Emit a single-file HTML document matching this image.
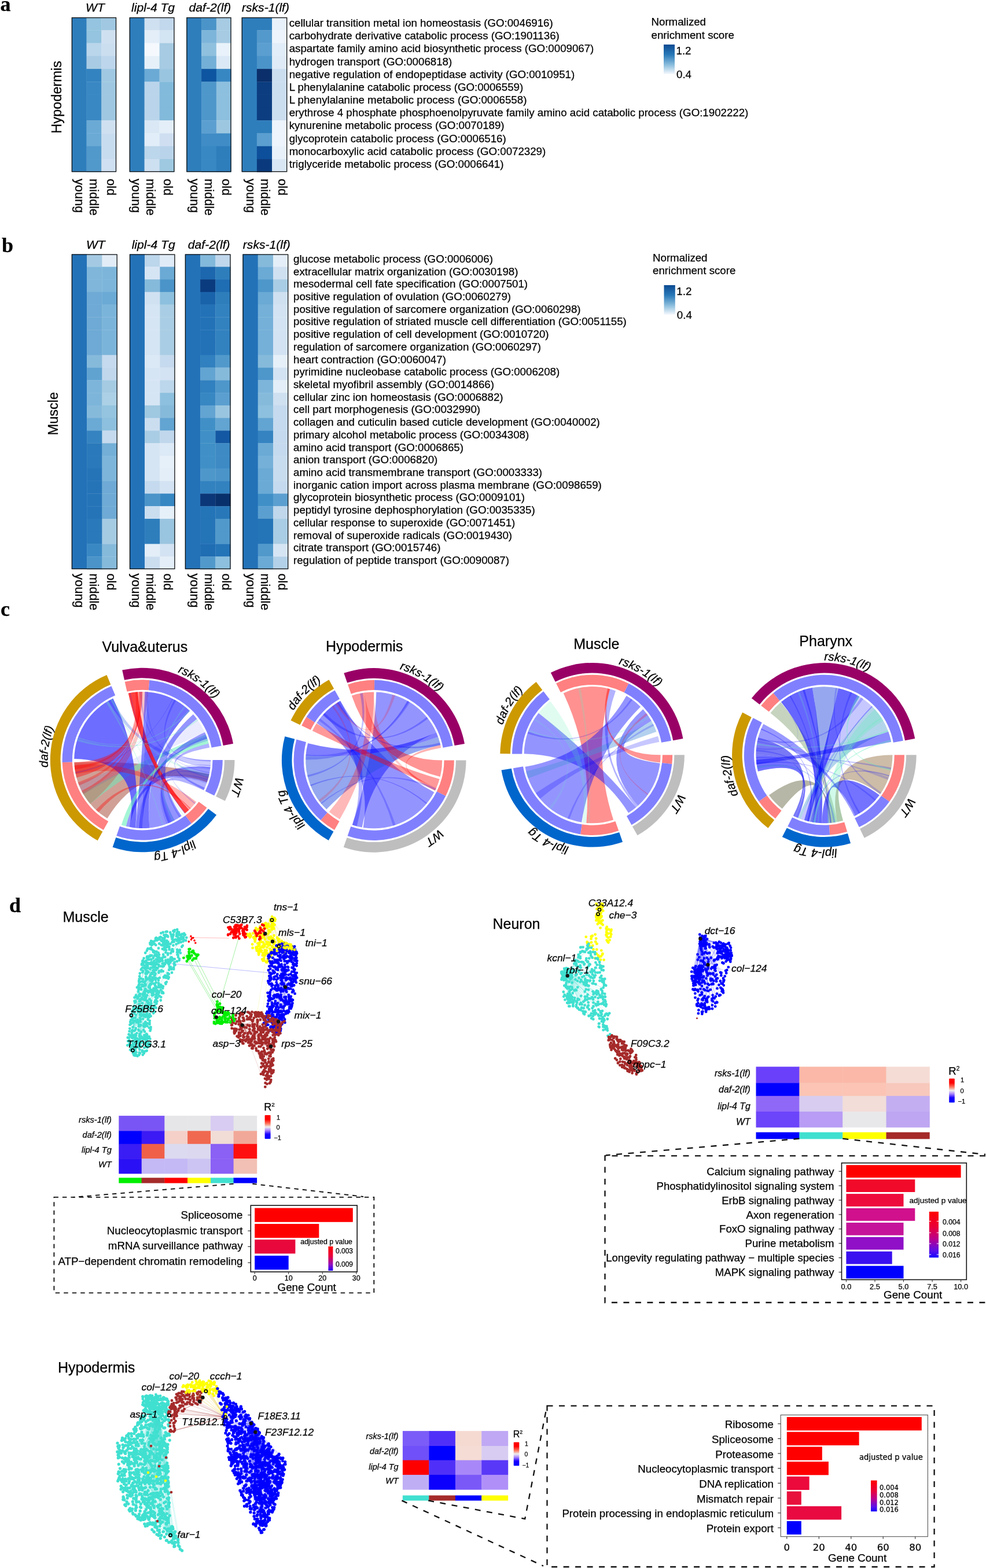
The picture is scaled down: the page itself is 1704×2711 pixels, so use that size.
<!DOCTYPE html>
<html><head><meta charset="utf-8"><title>Figure</title>
<style>html,body{margin:0;padding:0;background:#fff;} svg{display:block;} svg text{stroke:#000;stroke-width:0.25px;}</style>
</head><body>
<svg xmlns="http://www.w3.org/2000/svg" width="1704" height="2711" viewBox="0 0 1704 2711">
<rect width="1704" height="2711" fill="#fff"/>
<text x="0.5" y="19.0" style="font:bold 36px 'Liberation Serif', 'Times New Roman', serif">a</text>
<rect x="123.80" y="30.00" width="26.07" height="267.30" fill="#2e7ebc"/>
<rect x="149.57" y="30.00" width="26.07" height="22.58" fill="#94c4df"/>
<rect x="175.33" y="30.00" width="25.77" height="22.58" fill="#a0c8e2"/>
<rect x="149.57" y="52.28" width="26.07" height="22.58" fill="#94c4df"/>
<rect x="175.33" y="52.28" width="25.77" height="22.58" fill="#cfe0f1"/>
<rect x="149.57" y="74.55" width="26.07" height="22.58" fill="#bad6eb"/>
<rect x="175.33" y="74.55" width="25.77" height="22.58" fill="#cbdef0"/>
<rect x="149.57" y="96.83" width="26.07" height="22.58" fill="#a9cce4"/>
<rect x="175.33" y="96.83" width="25.77" height="22.58" fill="#bdd6ec"/>
<rect x="149.57" y="119.10" width="26.07" height="22.58" fill="#3383c0"/>
<rect x="175.33" y="119.10" width="25.77" height="22.58" fill="#a0c8e2"/>
<rect x="149.57" y="141.38" width="26.07" height="22.58" fill="#3988c4"/>
<rect x="175.33" y="141.38" width="25.77" height="22.58" fill="#9fc7e1"/>
<rect x="149.57" y="163.65" width="26.07" height="22.58" fill="#3988c4"/>
<rect x="175.33" y="163.65" width="25.77" height="22.58" fill="#9fc7e1"/>
<rect x="149.57" y="185.93" width="26.07" height="22.58" fill="#3988c4"/>
<rect x="175.33" y="185.93" width="25.77" height="22.58" fill="#9fc7e1"/>
<rect x="149.57" y="208.20" width="26.07" height="22.58" fill="#6aaad5"/>
<rect x="175.33" y="208.20" width="25.77" height="22.58" fill="#cfe0f1"/>
<rect x="149.57" y="230.48" width="26.07" height="22.58" fill="#6aaad5"/>
<rect x="175.33" y="230.48" width="25.77" height="22.58" fill="#c8dcef"/>
<rect x="149.57" y="252.75" width="26.07" height="22.58" fill="#5199cb"/>
<rect x="175.33" y="252.75" width="25.77" height="22.58" fill="#c8dcef"/>
<rect x="149.57" y="275.03" width="26.07" height="22.58" fill="#5199cb"/>
<rect x="175.33" y="275.03" width="25.77" height="22.58" fill="#cee0f1"/>
<rect x="124.40" y="30.60" width="76.10" height="266.10" fill="none" stroke="#111" stroke-width="1.3"/>
<text x="164.45" y="19.6" text-anchor="middle" style="font:italic 21.1px 'Liberation Sans', Arial, Helvetica, sans-serif">WT</text>
<rect x="223.70" y="30.00" width="26.23" height="267.30" fill="#2e7ebc"/>
<rect x="249.63" y="30.00" width="26.23" height="22.58" fill="#cfe0f1"/>
<rect x="275.57" y="30.00" width="25.93" height="22.58" fill="#c2d8ec"/>
<rect x="249.63" y="52.28" width="26.23" height="22.58" fill="#e3eef8"/>
<rect x="275.57" y="52.28" width="25.93" height="22.58" fill="#d3e4f3"/>
<rect x="249.63" y="74.55" width="26.23" height="22.58" fill="#f5f9fe"/>
<rect x="275.57" y="74.55" width="25.93" height="22.58" fill="#a6cbe3"/>
<rect x="249.63" y="96.83" width="26.23" height="22.58" fill="#e6f0f9"/>
<rect x="275.57" y="96.83" width="25.93" height="22.58" fill="#a6cbe3"/>
<rect x="249.63" y="119.10" width="26.23" height="22.58" fill="#6aaad5"/>
<rect x="275.57" y="119.10" width="25.93" height="22.58" fill="#9ac5e0"/>
<rect x="249.63" y="141.38" width="26.23" height="22.58" fill="#bad5eb"/>
<rect x="275.57" y="141.38" width="25.93" height="22.58" fill="#82badb"/>
<rect x="249.63" y="163.65" width="26.23" height="22.58" fill="#bad5eb"/>
<rect x="275.57" y="163.65" width="25.93" height="22.58" fill="#82badb"/>
<rect x="249.63" y="185.93" width="26.23" height="22.58" fill="#bad5eb"/>
<rect x="275.57" y="185.93" width="25.93" height="22.58" fill="#82badb"/>
<rect x="249.63" y="208.20" width="26.23" height="22.58" fill="#dae8f5"/>
<rect x="275.57" y="208.20" width="25.93" height="22.58" fill="#e3eef8"/>
<rect x="249.63" y="230.48" width="26.23" height="22.58" fill="#e1edf8"/>
<rect x="275.57" y="230.48" width="25.93" height="22.58" fill="#cfdff1"/>
<rect x="249.63" y="252.75" width="26.23" height="22.58" fill="#bcd6eb"/>
<rect x="275.57" y="252.75" width="25.93" height="22.58" fill="#b9d4ea"/>
<rect x="249.63" y="275.03" width="26.23" height="22.58" fill="#cde0f1"/>
<rect x="275.57" y="275.03" width="25.93" height="22.58" fill="#9ec9e1"/>
<rect x="224.30" y="30.60" width="76.60" height="266.10" fill="none" stroke="#111" stroke-width="1.3"/>
<text x="264.60" y="19.6" text-anchor="middle" style="font:italic 21.1px 'Liberation Sans', Arial, Helvetica, sans-serif">lipl-4 Tg</text>
<rect x="322.30" y="30.00" width="26.07" height="267.30" fill="#2e7ebc"/>
<rect x="348.07" y="30.00" width="26.07" height="22.58" fill="#4a94c9"/>
<rect x="373.83" y="30.00" width="25.77" height="22.58" fill="#a6cbe3"/>
<rect x="348.07" y="52.28" width="26.07" height="22.58" fill="#7db5da"/>
<rect x="373.83" y="52.28" width="25.77" height="22.58" fill="#a6cbe3"/>
<rect x="348.07" y="74.55" width="26.07" height="22.58" fill="#8fc1de"/>
<rect x="373.83" y="74.55" width="25.77" height="22.58" fill="#e9f2fa"/>
<rect x="348.07" y="96.83" width="26.07" height="22.58" fill="#73afd7"/>
<rect x="373.83" y="96.83" width="25.77" height="22.58" fill="#dbe8f5"/>
<rect x="348.07" y="119.10" width="26.07" height="22.58" fill="#0d55a0"/>
<rect x="373.83" y="119.10" width="25.77" height="22.58" fill="#3787c3"/>
<rect x="348.07" y="141.38" width="26.07" height="22.58" fill="#4e97cb"/>
<rect x="373.83" y="141.38" width="25.77" height="22.58" fill="#8dc0de"/>
<rect x="348.07" y="163.65" width="26.07" height="22.58" fill="#4e97cb"/>
<rect x="373.83" y="163.65" width="25.77" height="22.58" fill="#8dc0de"/>
<rect x="348.07" y="185.93" width="26.07" height="22.58" fill="#4e97cb"/>
<rect x="373.83" y="185.93" width="25.77" height="22.58" fill="#8dc0de"/>
<rect x="348.07" y="208.20" width="26.07" height="22.58" fill="#5b9fd0"/>
<rect x="373.83" y="208.20" width="25.77" height="22.58" fill="#9dc7e1"/>
<rect x="348.07" y="230.48" width="26.07" height="22.58" fill="#3f8cc6"/>
<rect x="373.83" y="230.48" width="25.77" height="22.58" fill="#3f8cc6"/>
<rect x="348.07" y="252.75" width="26.07" height="22.58" fill="#3788c3"/>
<rect x="373.83" y="252.75" width="25.77" height="22.58" fill="#2e7ebc"/>
<rect x="348.07" y="275.03" width="26.07" height="22.58" fill="#3788c3"/>
<rect x="373.83" y="275.03" width="25.77" height="22.58" fill="#2e7ebc"/>
<rect x="322.90" y="30.60" width="76.10" height="266.10" fill="none" stroke="#111" stroke-width="1.3"/>
<text x="362.95" y="19.6" text-anchor="middle" style="font:italic 21.1px 'Liberation Sans', Arial, Helvetica, sans-serif">daf-2(lf)</text>
<rect x="417.70" y="30.00" width="26.50" height="267.30" fill="#2e7ebc"/>
<rect x="443.90" y="30.00" width="26.50" height="22.58" fill="#2e7ebc"/>
<rect x="470.10" y="30.00" width="26.20" height="22.58" fill="#e8f1fa"/>
<rect x="443.90" y="52.28" width="26.50" height="22.58" fill="#5399cc"/>
<rect x="470.10" y="52.28" width="26.20" height="22.58" fill="#edf4fb"/>
<rect x="443.90" y="74.55" width="26.50" height="22.58" fill="#5b9fd0"/>
<rect x="470.10" y="74.55" width="26.20" height="22.58" fill="#e1edf8"/>
<rect x="443.90" y="96.83" width="26.50" height="22.58" fill="#4a94c9"/>
<rect x="470.10" y="96.83" width="26.20" height="22.58" fill="#dfebf7"/>
<rect x="443.90" y="119.10" width="26.50" height="22.58" fill="#0a2f6a"/>
<rect x="470.10" y="119.10" width="26.20" height="22.58" fill="#cbdef0"/>
<rect x="443.90" y="141.38" width="26.50" height="22.58" fill="#0b3d80"/>
<rect x="470.10" y="141.38" width="26.20" height="22.58" fill="#cbdef0"/>
<rect x="443.90" y="163.65" width="26.50" height="22.58" fill="#0b3d80"/>
<rect x="470.10" y="163.65" width="26.20" height="22.58" fill="#cbdef0"/>
<rect x="443.90" y="185.93" width="26.50" height="22.58" fill="#0b3d80"/>
<rect x="470.10" y="185.93" width="26.20" height="22.58" fill="#cbdef0"/>
<rect x="443.90" y="208.20" width="26.50" height="22.58" fill="#2e7ebc"/>
<rect x="470.10" y="208.20" width="26.20" height="22.58" fill="#edf4fb"/>
<rect x="443.90" y="230.48" width="26.50" height="22.58" fill="#5b9fd0"/>
<rect x="470.10" y="230.48" width="26.20" height="22.58" fill="#edf4fb"/>
<rect x="443.90" y="252.75" width="26.50" height="22.58" fill="#0d4f9a"/>
<rect x="470.10" y="252.75" width="26.20" height="22.58" fill="#e8f1fa"/>
<rect x="443.90" y="275.03" width="26.50" height="22.58" fill="#0a3a7d"/>
<rect x="470.10" y="275.03" width="26.20" height="22.58" fill="#d9e7f5"/>
<rect x="418.30" y="30.60" width="77.40" height="266.10" fill="none" stroke="#111" stroke-width="1.3"/>
<text x="459.00" y="19.6" text-anchor="middle" style="font:italic 21.1px 'Liberation Sans', Arial, Helvetica, sans-serif">rsks-1(lf)</text>
<text transform="translate(129.60,309) rotate(90)" style="font:21.7px 'Liberation Sans', Arial, Helvetica, sans-serif">young</text>
<text transform="translate(155.00,309) rotate(90)" style="font:21.7px 'Liberation Sans', Arial, Helvetica, sans-serif">middle</text>
<text transform="translate(185.10,309) rotate(90)" style="font:21.7px 'Liberation Sans', Arial, Helvetica, sans-serif">old</text>
<text transform="translate(227.70,309) rotate(90)" style="font:21.7px 'Liberation Sans', Arial, Helvetica, sans-serif">young</text>
<text transform="translate(253.10,309) rotate(90)" style="font:21.7px 'Liberation Sans', Arial, Helvetica, sans-serif">middle</text>
<text transform="translate(282.80,309) rotate(90)" style="font:21.7px 'Liberation Sans', Arial, Helvetica, sans-serif">old</text>
<text transform="translate(328.70,309) rotate(90)" style="font:21.7px 'Liberation Sans', Arial, Helvetica, sans-serif">young</text>
<text transform="translate(354.10,309) rotate(90)" style="font:21.7px 'Liberation Sans', Arial, Helvetica, sans-serif">middle</text>
<text transform="translate(384.00,309) rotate(90)" style="font:21.7px 'Liberation Sans', Arial, Helvetica, sans-serif">old</text>
<text transform="translate(425.60,309) rotate(90)" style="font:21.7px 'Liberation Sans', Arial, Helvetica, sans-serif">young</text>
<text transform="translate(450.70,309) rotate(90)" style="font:21.7px 'Liberation Sans', Arial, Helvetica, sans-serif">middle</text>
<text transform="translate(480.60,309) rotate(90)" style="font:21.7px 'Liberation Sans', Arial, Helvetica, sans-serif">old</text>
<text x="499.7" y="46.10" style="font:18.7px 'Liberation Sans', Arial, Helvetica, sans-serif">cellular transition metal ion homeostasis (GO:0046916)</text>
<text x="499.7" y="68.27" style="font:18.7px 'Liberation Sans', Arial, Helvetica, sans-serif">carbohydrate derivative catabolic process (GO:1901136)</text>
<text x="499.7" y="90.44" style="font:18.7px 'Liberation Sans', Arial, Helvetica, sans-serif">aspartate family amino acid biosynthetic process (GO:0009067)</text>
<text x="499.7" y="112.61" style="font:18.7px 'Liberation Sans', Arial, Helvetica, sans-serif">hydrogen transport (GO:0006818)</text>
<text x="499.7" y="134.78" style="font:18.7px 'Liberation Sans', Arial, Helvetica, sans-serif">negative regulation of endopeptidase activity (GO:0010951)</text>
<text x="499.7" y="156.95" style="font:18.7px 'Liberation Sans', Arial, Helvetica, sans-serif">L phenylalanine catabolic process (GO:0006559)</text>
<text x="499.7" y="179.12" style="font:18.7px 'Liberation Sans', Arial, Helvetica, sans-serif">L phenylalanine metabolic process (GO:0006558)</text>
<text x="499.7" y="201.29" style="font:18.7px 'Liberation Sans', Arial, Helvetica, sans-serif">erythrose 4 phosphate phosphoenolpyruvate family amino acid catabolic process (GO:1902222)</text>
<text x="499.7" y="223.46" style="font:18.7px 'Liberation Sans', Arial, Helvetica, sans-serif">kynurenine metabolic process (GO:0070189)</text>
<text x="499.7" y="245.63" style="font:18.7px 'Liberation Sans', Arial, Helvetica, sans-serif">glycoprotein catabolic process (GO:0006516)</text>
<text x="499.7" y="267.80" style="font:18.7px 'Liberation Sans', Arial, Helvetica, sans-serif">monocarboxylic acid catabolic process (GO:0072329)</text>
<text x="499.7" y="289.97" style="font:18.7px 'Liberation Sans', Arial, Helvetica, sans-serif">triglyceride metabolic process (GO:0006641)</text>
<text transform="translate(106.3,168) rotate(-90)" text-anchor="middle" style="font:23.5px 'Liberation Sans', Arial, Helvetica, sans-serif">Hypodermis</text>
<text x="1125.5" y="44.4" style="font:18.7px 'Liberation Sans', Arial, Helvetica, sans-serif">Normalized</text>
<text x="1125.5" y="67.0" style="font:18.7px 'Liberation Sans', Arial, Helvetica, sans-serif">enrichment score</text>
<defs><linearGradient id="ga" x1="0" y1="0" x2="0" y2="1"><stop offset="0" stop-color="#0b4a91"/><stop offset="0.35" stop-color="#2a7ab9"/><stop offset="0.7" stop-color="#8fc0de"/><stop offset="1" stop-color="#f4f8fd"/></linearGradient></defs>
<rect x="1147" y="77" width="19" height="51" fill="url(#ga)"/>
<text x="1168.5" y="94.3" style="font:18.7px 'Liberation Sans', Arial, Helvetica, sans-serif">1.2</text>
<text x="1169" y="134.7" style="font:18.7px 'Liberation Sans', Arial, Helvetica, sans-serif">0.4</text>
<text x="3" y="435.7" style="font:bold 36px 'Liberation Serif', 'Times New Roman', serif">b</text>
<rect x="123.80" y="439.50" width="26.63" height="544.60" fill="#2372b8"/>
<rect x="150.13" y="439.50" width="26.63" height="22.08" fill="#a4cae3"/>
<rect x="176.47" y="439.50" width="26.33" height="22.08" fill="#e1ecf7"/>
<rect x="150.13" y="461.28" width="26.63" height="22.08" fill="#7fb6da"/>
<rect x="176.47" y="461.28" width="26.33" height="22.08" fill="#7db5da"/>
<rect x="150.13" y="483.07" width="26.63" height="22.08" fill="#7fb6da"/>
<rect x="176.47" y="483.07" width="26.33" height="22.08" fill="#7db5da"/>
<rect x="150.13" y="504.85" width="26.63" height="22.08" fill="#6eaad5"/>
<rect x="176.47" y="504.85" width="26.33" height="22.08" fill="#6aaad5"/>
<rect x="150.13" y="526.64" width="26.63" height="22.08" fill="#6eaad5"/>
<rect x="176.47" y="526.64" width="26.33" height="22.08" fill="#7bb4da"/>
<rect x="150.13" y="548.42" width="26.63" height="22.08" fill="#6eaad5"/>
<rect x="176.47" y="548.42" width="26.33" height="22.08" fill="#7bb4da"/>
<rect x="150.13" y="570.20" width="26.63" height="22.08" fill="#6eaad5"/>
<rect x="176.47" y="570.20" width="26.33" height="22.08" fill="#7bb4da"/>
<rect x="150.13" y="591.99" width="26.63" height="22.08" fill="#6eaad5"/>
<rect x="176.47" y="591.99" width="26.33" height="22.08" fill="#7bb4da"/>
<rect x="150.13" y="613.77" width="26.63" height="22.08" fill="#86badb"/>
<rect x="176.47" y="613.77" width="26.33" height="22.08" fill="#c5daee"/>
<rect x="150.13" y="635.56" width="26.63" height="22.08" fill="#60a3d1"/>
<rect x="176.47" y="635.56" width="26.33" height="22.08" fill="#c0d7ec"/>
<rect x="150.13" y="657.34" width="26.63" height="22.08" fill="#7db5da"/>
<rect x="176.47" y="657.34" width="26.33" height="22.08" fill="#a5cbe3"/>
<rect x="150.13" y="679.12" width="26.63" height="22.08" fill="#7db5da"/>
<rect x="176.47" y="679.12" width="26.33" height="22.08" fill="#acd0e6"/>
<rect x="150.13" y="700.91" width="26.63" height="22.08" fill="#86badb"/>
<rect x="176.47" y="700.91" width="26.33" height="22.08" fill="#94c4df"/>
<rect x="150.13" y="722.69" width="26.63" height="22.08" fill="#6aaad5"/>
<rect x="176.47" y="722.69" width="26.33" height="22.08" fill="#8dc0de"/>
<rect x="150.13" y="744.48" width="26.63" height="22.08" fill="#3584c1"/>
<rect x="176.47" y="744.48" width="26.33" height="22.08" fill="#c5daee"/>
<rect x="150.13" y="766.26" width="26.63" height="22.08" fill="#2a79ba"/>
<rect x="176.47" y="766.26" width="26.33" height="22.08" fill="#73afd7"/>
<rect x="150.13" y="788.04" width="26.63" height="22.08" fill="#2a79ba"/>
<rect x="176.47" y="788.04" width="26.33" height="22.08" fill="#7db5da"/>
<rect x="150.13" y="809.83" width="26.63" height="22.08" fill="#2574b8"/>
<rect x="176.47" y="809.83" width="26.33" height="22.08" fill="#7db5da"/>
<rect x="150.13" y="831.61" width="26.63" height="22.08" fill="#2574b8"/>
<rect x="176.47" y="831.61" width="26.33" height="22.08" fill="#6eaad5"/>
<rect x="150.13" y="853.40" width="26.63" height="22.08" fill="#2574b8"/>
<rect x="176.47" y="853.40" width="26.33" height="22.08" fill="#6eaad5"/>
<rect x="150.13" y="875.18" width="26.63" height="22.08" fill="#2574b8"/>
<rect x="176.47" y="875.18" width="26.33" height="22.08" fill="#6eaad5"/>
<rect x="150.13" y="896.96" width="26.63" height="22.08" fill="#2a79ba"/>
<rect x="176.47" y="896.96" width="26.33" height="22.08" fill="#a5cbe3"/>
<rect x="150.13" y="918.75" width="26.63" height="22.08" fill="#2a79ba"/>
<rect x="176.47" y="918.75" width="26.33" height="22.08" fill="#a5cbe3"/>
<rect x="150.13" y="940.53" width="26.63" height="22.08" fill="#3988c4"/>
<rect x="176.47" y="940.53" width="26.33" height="22.08" fill="#86badb"/>
<rect x="150.13" y="962.32" width="26.63" height="22.08" fill="#4a94c9"/>
<rect x="176.47" y="962.32" width="26.33" height="22.08" fill="#86badb"/>
<rect x="124.40" y="440.10" width="77.80" height="543.40" fill="none" stroke="#111" stroke-width="1.3"/>
<text x="165.30" y="430.1" text-anchor="middle" style="font:italic 21.1px 'Liberation Sans', Arial, Helvetica, sans-serif">WT</text>
<rect x="223.90" y="439.50" width="26.50" height="544.60" fill="#2372b8"/>
<rect x="250.10" y="439.50" width="26.50" height="22.08" fill="#bcd6eb"/>
<rect x="276.30" y="439.50" width="26.20" height="22.08" fill="#dfebf7"/>
<rect x="250.10" y="461.28" width="26.50" height="22.08" fill="#d6e5f4"/>
<rect x="276.30" y="461.28" width="26.20" height="22.08" fill="#6aaad5"/>
<rect x="250.10" y="483.07" width="26.50" height="22.08" fill="#86badb"/>
<rect x="276.30" y="483.07" width="26.20" height="22.08" fill="#4a94c9"/>
<rect x="250.10" y="504.85" width="26.50" height="22.08" fill="#d0e1f2"/>
<rect x="276.30" y="504.85" width="26.20" height="22.08" fill="#8dc0de"/>
<rect x="250.10" y="526.64" width="26.50" height="22.08" fill="#d6e5f4"/>
<rect x="276.30" y="526.64" width="26.20" height="22.08" fill="#a9cde4"/>
<rect x="250.10" y="548.42" width="26.50" height="22.08" fill="#d6e5f4"/>
<rect x="276.30" y="548.42" width="26.20" height="22.08" fill="#a9cde4"/>
<rect x="250.10" y="570.20" width="26.50" height="22.08" fill="#d6e5f4"/>
<rect x="276.30" y="570.20" width="26.20" height="22.08" fill="#a9cde4"/>
<rect x="250.10" y="591.99" width="26.50" height="22.08" fill="#d6e5f4"/>
<rect x="276.30" y="591.99" width="26.20" height="22.08" fill="#a9cde4"/>
<rect x="250.10" y="613.77" width="26.50" height="22.08" fill="#dbe8f5"/>
<rect x="276.30" y="613.77" width="26.20" height="22.08" fill="#c5daee"/>
<rect x="250.10" y="635.56" width="26.50" height="22.08" fill="#d6e5f4"/>
<rect x="276.30" y="635.56" width="26.20" height="22.08" fill="#d3e3f3"/>
<rect x="250.10" y="657.34" width="26.50" height="22.08" fill="#d6e5f4"/>
<rect x="276.30" y="657.34" width="26.20" height="22.08" fill="#bcd6eb"/>
<rect x="250.10" y="679.12" width="26.50" height="22.08" fill="#d6e5f4"/>
<rect x="276.30" y="679.12" width="26.20" height="22.08" fill="#8dc0de"/>
<rect x="250.10" y="700.91" width="26.50" height="22.08" fill="#9fc8e1"/>
<rect x="276.30" y="700.91" width="26.20" height="22.08" fill="#86badb"/>
<rect x="250.10" y="722.69" width="26.50" height="22.08" fill="#cbdef0"/>
<rect x="276.30" y="722.69" width="26.20" height="22.08" fill="#62a4d2"/>
<rect x="250.10" y="744.48" width="26.50" height="22.08" fill="#a9cde4"/>
<rect x="276.30" y="744.48" width="26.20" height="22.08" fill="#c0d7ec"/>
<rect x="250.10" y="766.26" width="26.50" height="22.08" fill="#d6e5f4"/>
<rect x="276.30" y="766.26" width="26.20" height="22.08" fill="#dce9f6"/>
<rect x="250.10" y="788.04" width="26.50" height="22.08" fill="#d6e5f4"/>
<rect x="276.30" y="788.04" width="26.20" height="22.08" fill="#e6f0f9"/>
<rect x="250.10" y="809.83" width="26.50" height="22.08" fill="#d6e5f4"/>
<rect x="276.30" y="809.83" width="26.20" height="22.08" fill="#e3eef8"/>
<rect x="250.10" y="831.61" width="26.50" height="22.08" fill="#c5daee"/>
<rect x="276.30" y="831.61" width="26.20" height="22.08" fill="#d3e3f3"/>
<rect x="250.10" y="853.40" width="26.50" height="22.08" fill="#4a94c9"/>
<rect x="276.30" y="853.40" width="26.20" height="22.08" fill="#3787c3"/>
<rect x="250.10" y="875.18" width="26.50" height="22.08" fill="#cbdef0"/>
<rect x="276.30" y="875.18" width="26.20" height="22.08" fill="#e6f0f9"/>
<rect x="250.10" y="896.96" width="26.50" height="22.08" fill="#2e7ebc"/>
<rect x="276.30" y="896.96" width="26.20" height="22.08" fill="#9ac5e0"/>
<rect x="250.10" y="918.75" width="26.50" height="22.08" fill="#2e7ebc"/>
<rect x="276.30" y="918.75" width="26.20" height="22.08" fill="#9ac5e0"/>
<rect x="250.10" y="940.53" width="26.50" height="22.08" fill="#e3eef8"/>
<rect x="276.30" y="940.53" width="26.20" height="22.08" fill="#d3e3f3"/>
<rect x="250.10" y="962.32" width="26.50" height="22.08" fill="#cbdef0"/>
<rect x="276.30" y="962.32" width="26.20" height="22.08" fill="#e3eef8"/>
<rect x="224.50" y="440.10" width="77.40" height="543.40" fill="none" stroke="#111" stroke-width="1.3"/>
<text x="265.20" y="430.1" text-anchor="middle" style="font:italic 21.1px 'Liberation Sans', Arial, Helvetica, sans-serif">lipl-4 Tg</text>
<rect x="319.80" y="439.50" width="26.57" height="544.60" fill="#2372b8"/>
<rect x="346.07" y="439.50" width="26.57" height="22.08" fill="#83b9db"/>
<rect x="372.33" y="439.50" width="26.27" height="22.08" fill="#c0d7ec"/>
<rect x="346.07" y="461.28" width="26.57" height="22.08" fill="#1c67ae"/>
<rect x="372.33" y="461.28" width="26.27" height="22.08" fill="#2e7ebc"/>
<rect x="346.07" y="483.07" width="26.57" height="22.08" fill="#0a3b7e"/>
<rect x="372.33" y="483.07" width="26.27" height="22.08" fill="#1f6db3"/>
<rect x="346.07" y="504.85" width="26.57" height="22.08" fill="#1963ab"/>
<rect x="372.33" y="504.85" width="26.27" height="22.08" fill="#2e7ebc"/>
<rect x="346.07" y="526.64" width="26.57" height="22.08" fill="#2372b8"/>
<rect x="372.33" y="526.64" width="26.27" height="22.08" fill="#3282c0"/>
<rect x="346.07" y="548.42" width="26.57" height="22.08" fill="#2372b8"/>
<rect x="372.33" y="548.42" width="26.27" height="22.08" fill="#3282c0"/>
<rect x="346.07" y="570.20" width="26.57" height="22.08" fill="#2372b8"/>
<rect x="372.33" y="570.20" width="26.27" height="22.08" fill="#3282c0"/>
<rect x="346.07" y="591.99" width="26.57" height="22.08" fill="#2372b8"/>
<rect x="372.33" y="591.99" width="26.27" height="22.08" fill="#3282c0"/>
<rect x="346.07" y="613.77" width="26.57" height="22.08" fill="#3180bf"/>
<rect x="372.33" y="613.77" width="26.27" height="22.08" fill="#5199cb"/>
<rect x="346.07" y="635.56" width="26.57" height="22.08" fill="#62a4d2"/>
<rect x="372.33" y="635.56" width="26.27" height="22.08" fill="#86badb"/>
<rect x="346.07" y="657.34" width="26.57" height="22.08" fill="#3180bf"/>
<rect x="372.33" y="657.34" width="26.27" height="22.08" fill="#4e97cb"/>
<rect x="346.07" y="679.12" width="26.57" height="22.08" fill="#3787c3"/>
<rect x="372.33" y="679.12" width="26.27" height="22.08" fill="#5b9fd0"/>
<rect x="346.07" y="700.91" width="26.57" height="22.08" fill="#62a4d2"/>
<rect x="372.33" y="700.91" width="26.27" height="22.08" fill="#9ac5e0"/>
<rect x="346.07" y="722.69" width="26.57" height="22.08" fill="#4090c7"/>
<rect x="372.33" y="722.69" width="26.27" height="22.08" fill="#62a4d2"/>
<rect x="346.07" y="744.48" width="26.57" height="22.08" fill="#4090c7"/>
<rect x="372.33" y="744.48" width="26.27" height="22.08" fill="#1458a3"/>
<rect x="346.07" y="766.26" width="26.57" height="22.08" fill="#4090c7"/>
<rect x="372.33" y="766.26" width="26.27" height="22.08" fill="#3d8ac5"/>
<rect x="346.07" y="788.04" width="26.57" height="22.08" fill="#4090c7"/>
<rect x="372.33" y="788.04" width="26.27" height="22.08" fill="#3d8ac5"/>
<rect x="346.07" y="809.83" width="26.57" height="22.08" fill="#4e97cb"/>
<rect x="372.33" y="809.83" width="26.27" height="22.08" fill="#4a94c9"/>
<rect x="346.07" y="831.61" width="26.57" height="22.08" fill="#3282c0"/>
<rect x="372.33" y="831.61" width="26.27" height="22.08" fill="#3282c0"/>
<rect x="346.07" y="853.40" width="26.57" height="22.08" fill="#0b3778"/>
<rect x="372.33" y="853.40" width="26.27" height="22.08" fill="#08306b"/>
<rect x="346.07" y="875.18" width="26.57" height="22.08" fill="#2474b8"/>
<rect x="372.33" y="875.18" width="26.27" height="22.08" fill="#2878b9"/>
<rect x="346.07" y="896.96" width="26.57" height="22.08" fill="#2474b8"/>
<rect x="372.33" y="896.96" width="26.27" height="22.08" fill="#5199cb"/>
<rect x="346.07" y="918.75" width="26.57" height="22.08" fill="#2474b8"/>
<rect x="372.33" y="918.75" width="26.27" height="22.08" fill="#5199cb"/>
<rect x="346.07" y="940.53" width="26.57" height="22.08" fill="#1f6db2"/>
<rect x="372.33" y="940.53" width="26.27" height="22.08" fill="#2474b8"/>
<rect x="346.07" y="962.32" width="26.57" height="22.08" fill="#5199cb"/>
<rect x="372.33" y="962.32" width="26.27" height="22.08" fill="#8dc0de"/>
<rect x="320.40" y="440.10" width="77.60" height="543.40" fill="none" stroke="#111" stroke-width="1.3"/>
<text x="361.20" y="430.1" text-anchor="middle" style="font:italic 21.1px 'Liberation Sans', Arial, Helvetica, sans-serif">daf-2(lf)</text>
<rect x="419.40" y="439.50" width="26.60" height="544.60" fill="#2372b8"/>
<rect x="445.70" y="439.50" width="26.60" height="22.08" fill="#86badb"/>
<rect x="472.00" y="439.50" width="26.30" height="22.08" fill="#e3eef8"/>
<rect x="445.70" y="461.28" width="26.60" height="22.08" fill="#6aaad5"/>
<rect x="472.00" y="461.28" width="26.30" height="22.08" fill="#cfe0f1"/>
<rect x="445.70" y="483.07" width="26.60" height="22.08" fill="#4e97cb"/>
<rect x="472.00" y="483.07" width="26.30" height="22.08" fill="#a9cde4"/>
<rect x="445.70" y="504.85" width="26.60" height="22.08" fill="#6aaad5"/>
<rect x="472.00" y="504.85" width="26.30" height="22.08" fill="#cfe0f1"/>
<rect x="445.70" y="526.64" width="26.60" height="22.08" fill="#74b0d8"/>
<rect x="472.00" y="526.64" width="26.30" height="22.08" fill="#d3e3f3"/>
<rect x="445.70" y="548.42" width="26.60" height="22.08" fill="#74b0d8"/>
<rect x="472.00" y="548.42" width="26.30" height="22.08" fill="#d3e3f3"/>
<rect x="445.70" y="570.20" width="26.60" height="22.08" fill="#74b0d8"/>
<rect x="472.00" y="570.20" width="26.30" height="22.08" fill="#d3e3f3"/>
<rect x="445.70" y="591.99" width="26.60" height="22.08" fill="#74b0d8"/>
<rect x="472.00" y="591.99" width="26.30" height="22.08" fill="#d3e3f3"/>
<rect x="445.70" y="613.77" width="26.60" height="22.08" fill="#86badb"/>
<rect x="472.00" y="613.77" width="26.30" height="22.08" fill="#e6f0f9"/>
<rect x="445.70" y="635.56" width="26.60" height="22.08" fill="#4e97cb"/>
<rect x="472.00" y="635.56" width="26.30" height="22.08" fill="#d3e3f3"/>
<rect x="445.70" y="657.34" width="26.60" height="22.08" fill="#7db5da"/>
<rect x="472.00" y="657.34" width="26.30" height="22.08" fill="#e3eef8"/>
<rect x="445.70" y="679.12" width="26.60" height="22.08" fill="#86badb"/>
<rect x="472.00" y="679.12" width="26.30" height="22.08" fill="#cfe0f1"/>
<rect x="445.70" y="700.91" width="26.60" height="22.08" fill="#8dc0de"/>
<rect x="472.00" y="700.91" width="26.30" height="22.08" fill="#c5daee"/>
<rect x="445.70" y="722.69" width="26.60" height="22.08" fill="#62a4d2"/>
<rect x="472.00" y="722.69" width="26.30" height="22.08" fill="#c5daee"/>
<rect x="445.70" y="744.48" width="26.60" height="22.08" fill="#3584c1"/>
<rect x="472.00" y="744.48" width="26.30" height="22.08" fill="#c5daee"/>
<rect x="445.70" y="766.26" width="26.60" height="22.08" fill="#6aaad5"/>
<rect x="472.00" y="766.26" width="26.30" height="22.08" fill="#c5daee"/>
<rect x="445.70" y="788.04" width="26.60" height="22.08" fill="#74b0d8"/>
<rect x="472.00" y="788.04" width="26.30" height="22.08" fill="#c8dcef"/>
<rect x="445.70" y="809.83" width="26.60" height="22.08" fill="#6aaad5"/>
<rect x="472.00" y="809.83" width="26.30" height="22.08" fill="#c8dcef"/>
<rect x="445.70" y="831.61" width="26.60" height="22.08" fill="#6aaad5"/>
<rect x="472.00" y="831.61" width="26.30" height="22.08" fill="#c5daee"/>
<rect x="445.70" y="853.40" width="26.60" height="22.08" fill="#4090c7"/>
<rect x="472.00" y="853.40" width="26.30" height="22.08" fill="#5b9fd0"/>
<rect x="445.70" y="875.18" width="26.60" height="22.08" fill="#5b9fd0"/>
<rect x="472.00" y="875.18" width="26.30" height="22.08" fill="#c0d7ec"/>
<rect x="445.70" y="896.96" width="26.60" height="22.08" fill="#2474b8"/>
<rect x="472.00" y="896.96" width="26.30" height="22.08" fill="#a9cde4"/>
<rect x="445.70" y="918.75" width="26.60" height="22.08" fill="#2474b8"/>
<rect x="472.00" y="918.75" width="26.30" height="22.08" fill="#a9cde4"/>
<rect x="445.70" y="940.53" width="26.60" height="22.08" fill="#5199cb"/>
<rect x="472.00" y="940.53" width="26.30" height="22.08" fill="#d6e5f4"/>
<rect x="445.70" y="962.32" width="26.60" height="22.08" fill="#6aaad5"/>
<rect x="472.00" y="962.32" width="26.30" height="22.08" fill="#b3d1e8"/>
<rect x="420.00" y="440.10" width="77.70" height="543.40" fill="none" stroke="#111" stroke-width="1.3"/>
<text x="460.85" y="430.1" text-anchor="middle" style="font:italic 21.1px 'Liberation Sans', Arial, Helvetica, sans-serif">rsks-1(lf)</text>
<text transform="translate(129.60,991.5) rotate(90)" style="font:21.7px 'Liberation Sans', Arial, Helvetica, sans-serif">young</text>
<text transform="translate(155.00,991.5) rotate(90)" style="font:21.7px 'Liberation Sans', Arial, Helvetica, sans-serif">middle</text>
<text transform="translate(185.10,991.5) rotate(90)" style="font:21.7px 'Liberation Sans', Arial, Helvetica, sans-serif">old</text>
<text transform="translate(227.70,991.5) rotate(90)" style="font:21.7px 'Liberation Sans', Arial, Helvetica, sans-serif">young</text>
<text transform="translate(253.10,991.5) rotate(90)" style="font:21.7px 'Liberation Sans', Arial, Helvetica, sans-serif">middle</text>
<text transform="translate(282.80,991.5) rotate(90)" style="font:21.7px 'Liberation Sans', Arial, Helvetica, sans-serif">old</text>
<text transform="translate(328.70,991.5) rotate(90)" style="font:21.7px 'Liberation Sans', Arial, Helvetica, sans-serif">young</text>
<text transform="translate(354.10,991.5) rotate(90)" style="font:21.7px 'Liberation Sans', Arial, Helvetica, sans-serif">middle</text>
<text transform="translate(384.00,991.5) rotate(90)" style="font:21.7px 'Liberation Sans', Arial, Helvetica, sans-serif">old</text>
<text transform="translate(425.60,991.5) rotate(90)" style="font:21.7px 'Liberation Sans', Arial, Helvetica, sans-serif">young</text>
<text transform="translate(450.70,991.5) rotate(90)" style="font:21.7px 'Liberation Sans', Arial, Helvetica, sans-serif">middle</text>
<text transform="translate(480.60,991.5) rotate(90)" style="font:21.7px 'Liberation Sans', Arial, Helvetica, sans-serif">old</text>
<text x="507.0" y="453.80" style="font:18.7px 'Liberation Sans', Arial, Helvetica, sans-serif">glucose metabolic process (GO:0006006)</text>
<text x="507.0" y="475.52" style="font:18.7px 'Liberation Sans', Arial, Helvetica, sans-serif">extracellular matrix organization (GO:0030198)</text>
<text x="507.0" y="497.24" style="font:18.7px 'Liberation Sans', Arial, Helvetica, sans-serif">mesodermal cell fate specification (GO:0007501)</text>
<text x="507.0" y="518.96" style="font:18.7px 'Liberation Sans', Arial, Helvetica, sans-serif">positive regulation of ovulation (GO:0060279)</text>
<text x="507.0" y="540.68" style="font:18.7px 'Liberation Sans', Arial, Helvetica, sans-serif">positive regulation of sarcomere organization (GO:0060298)</text>
<text x="507.0" y="562.40" style="font:18.7px 'Liberation Sans', Arial, Helvetica, sans-serif">positive regulation of striated muscle cell differentiation (GO:0051155)</text>
<text x="507.0" y="584.12" style="font:18.7px 'Liberation Sans', Arial, Helvetica, sans-serif">positive regulation of cell development (GO:0010720)</text>
<text x="507.0" y="605.84" style="font:18.7px 'Liberation Sans', Arial, Helvetica, sans-serif">regulation of sarcomere organization (GO:0060297)</text>
<text x="507.0" y="627.56" style="font:18.7px 'Liberation Sans', Arial, Helvetica, sans-serif">heart contraction (GO:0060047)</text>
<text x="507.0" y="649.28" style="font:18.7px 'Liberation Sans', Arial, Helvetica, sans-serif">pyrimidine nucleobase catabolic process (GO:0006208)</text>
<text x="507.0" y="671.00" style="font:18.7px 'Liberation Sans', Arial, Helvetica, sans-serif">skeletal myofibril assembly (GO:0014866)</text>
<text x="507.0" y="692.72" style="font:18.7px 'Liberation Sans', Arial, Helvetica, sans-serif">cellular zinc ion homeostasis (GO:0006882)</text>
<text x="507.0" y="714.44" style="font:18.7px 'Liberation Sans', Arial, Helvetica, sans-serif">cell part morphogenesis (GO:0032990)</text>
<text x="507.0" y="736.16" style="font:18.7px 'Liberation Sans', Arial, Helvetica, sans-serif">collagen and cuticulin based cuticle development (GO:0040002)</text>
<text x="507.0" y="757.88" style="font:18.7px 'Liberation Sans', Arial, Helvetica, sans-serif">primary alcohol metabolic process (GO:0034308)</text>
<text x="507.0" y="779.60" style="font:18.7px 'Liberation Sans', Arial, Helvetica, sans-serif">amino acid transport (GO:0006865)</text>
<text x="507.0" y="801.32" style="font:18.7px 'Liberation Sans', Arial, Helvetica, sans-serif">anion transport (GO:0006820)</text>
<text x="507.0" y="823.04" style="font:18.7px 'Liberation Sans', Arial, Helvetica, sans-serif">amino acid transmembrane transport (GO:0003333)</text>
<text x="507.0" y="844.76" style="font:18.7px 'Liberation Sans', Arial, Helvetica, sans-serif">inorganic cation import across plasma membrane (GO:0098659)</text>
<text x="507.0" y="866.48" style="font:18.7px 'Liberation Sans', Arial, Helvetica, sans-serif">glycoprotein biosynthetic process (GO:0009101)</text>
<text x="507.0" y="888.20" style="font:18.7px 'Liberation Sans', Arial, Helvetica, sans-serif">peptidyl tyrosine dephosphorylation (GO:0035335)</text>
<text x="507.0" y="909.92" style="font:18.7px 'Liberation Sans', Arial, Helvetica, sans-serif">cellular response to superoxide (GO:0071451)</text>
<text x="507.0" y="931.64" style="font:18.7px 'Liberation Sans', Arial, Helvetica, sans-serif">removal of superoxide radicals (GO:0019430)</text>
<text x="507.0" y="953.36" style="font:18.7px 'Liberation Sans', Arial, Helvetica, sans-serif">citrate transport (GO:0015746)</text>
<text x="507.0" y="975.08" style="font:18.7px 'Liberation Sans', Arial, Helvetica, sans-serif">regulation of peptide transport (GO:0090087)</text>
<text transform="translate(99.8,715.2) rotate(-90)" text-anchor="middle" style="font:23.5px 'Liberation Sans', Arial, Helvetica, sans-serif">Muscle</text>
<text x="1128" y="451.8" style="font:18.7px 'Liberation Sans', Arial, Helvetica, sans-serif">Normalized</text>
<text x="1128" y="474.4" style="font:18.7px 'Liberation Sans', Arial, Helvetica, sans-serif">enrichment score</text>
<defs><linearGradient id="gb" x1="0" y1="0" x2="0" y2="1"><stop offset="0" stop-color="#0b4a91"/><stop offset="0.35" stop-color="#2a7ab9"/><stop offset="0.7" stop-color="#8fc0de"/><stop offset="1" stop-color="#f4f8fd"/></linearGradient></defs>
<rect x="1147.5" y="493" width="19.299999999999955" height="51" fill="url(#gb)"/>
<text x="1169.3" y="510" style="font:18.7px 'Liberation Sans', Arial, Helvetica, sans-serif">1.2</text>
<text x="1169.8" y="550.5" style="font:18.7px 'Liberation Sans', Arial, Helvetica, sans-serif">0.4</text>
<text x="250.4" y="1126.6" text-anchor="middle" style="font:25px 'Liberation Sans', Arial, Helvetica, sans-serif">Vulva&amp;uterus</text>
<path d="M405.5,1314.0A159.3,159.3 0 0 1 388.9,1384.8L373.1,1377.0A141.7,141.7 0 0 0 387.9,1314.0Z" fill="#bebebe"/>
<path d="M384.8,1314.0A138.6,138.6 0 0 1 370.3,1375.6L354.8,1367.9A121.3,121.3 0 0 0 367.5,1314.0Z" fill="#8080ff"/>
<path d="M374.1,1409.0A159.3,159.3 0 0 1 194.6,1464.7L200.3,1448.1A141.7,141.7 0 0 0 360.0,1398.5Z" fill="#0066cc"/>
<path d="M357.5,1396.6A138.6,138.6 0 0 1 331.0,1423.7L320.4,1410.0A121.3,121.3 0 0 0 343.6,1386.3Z" fill="#ff8080"/>
<path d="M331.0,1423.7A138.6,138.6 0 0 1 201.3,1445.1L206.9,1428.8A121.3,121.3 0 0 0 320.4,1410.0Z" fill="#8080ff"/>
<path d="M168.7,1453.2A159.3,159.3 0 0 1 184.5,1167.1L191.3,1183.4A141.7,141.7 0 0 0 177.3,1437.8Z" fill="#cc9900"/>
<path d="M178.8,1435.1A138.6,138.6 0 0 1 107.7,1318.1L125.0,1317.6A121.3,121.3 0 0 0 187.2,1420.0Z" fill="#ff8080"/>
<path d="M107.7,1318.1A138.6,138.6 0 0 1 192.5,1186.2L199.2,1202.2A121.3,121.3 0 0 0 125.0,1317.6Z" fill="#8080ff"/>
<path d="M211.2,1158.6A159.3,159.3 0 0 1 403.0,1285.8L385.7,1288.9A141.7,141.7 0 0 0 215.0,1175.8Z" fill="#990066"/>
<path d="M215.7,1178.8A138.6,138.6 0 0 1 258.3,1175.9L256.8,1193.2A121.3,121.3 0 0 0 219.5,1195.7Z" fill="#ff8080"/>
<path d="M258.3,1175.9A138.6,138.6 0 0 1 382.6,1289.5L365.6,1292.5A121.3,121.3 0 0 0 256.8,1193.2Z" fill="#8080ff"/>
<path d="M185.4,1415.1A118.0,118.0 0 0 1 128.3,1318.1Q246.2,1314.0 361.6,1338.5A118.0,118.0 0 0 1 357.8,1352.4Q246.2,1314.0 185.4,1415.1Z" fill="#b06050" fill-opacity="0.6"/>
<path d="M155.8,1389.8A118.0,118.0 0 0 1 142.0,1369.4Q246.2,1314.0 355.6,1269.8A118.0,118.0 0 0 1 358.4,1277.5Q246.2,1314.0 155.8,1389.8Z" fill="#66eebb" fill-opacity="0.5"/>
<path d="M128.2,1311.9A118.0,118.0 0 0 1 195.4,1207.5Q246.2,1314.0 233.9,1431.4A118.0,118.0 0 0 1 223.7,1429.8Q246.2,1314.0 128.2,1311.9Z" fill="#2828ff" fill-opacity="0.68"/>
<path d="M256.5,1196.4A118.0,118.0 0 0 1 328.2,1229.1Q246.2,1314.0 258.5,1431.4A118.0,118.0 0 0 1 246.2,1432.0Q246.2,1314.0 256.5,1196.4Z" fill="#2828ff" fill-opacity="0.66"/>
<path d="M313.9,1410.7A118.0,118.0 0 0 1 258.5,1431.4Q246.2,1314.0 333.9,1235.0A118.0,118.0 0 0 1 340.4,1243.0Q246.2,1314.0 313.9,1410.7Z" fill="#0000ff" fill-opacity="0.42"/>
<path d="M221.7,1198.6A118.0,118.0 0 0 1 238.0,1196.3Q246.2,1314.0 326.7,1400.3A118.0,118.0 0 0 1 319.7,1406.3Q246.2,1314.0 221.7,1198.6Z" fill="#ff1010" fill-opacity="0.8"/>
<path d="M238.0,1196.3A118.0,118.0 0 0 1 246.2,1196.0Q246.2,1314.0 132.2,1344.5A118.0,118.0 0 0 1 128.3,1318.1Q246.2,1314.0 238.0,1196.3Z" fill="#ff0000" fill-opacity="0.4"/>
<path d="M246.2,1196.0A118.0,118.0 0 0 1 256.5,1196.4Q246.2,1314.0 155.8,1389.8A118.0,118.0 0 0 1 144.0,1373.0Q246.2,1314.0 246.2,1196.0Z" fill="#ff0000" fill-opacity="0.22"/>
<path d="M364.2,1314.0A118.0,118.0 0 0 1 363.6,1326.3Q246.2,1314.0 187.2,1211.8A118.0,118.0 0 0 1 194.5,1207.9Q246.2,1314.0 364.2,1314.0Z" fill="#0000ff" fill-opacity="0.2"/>
<path d="M363.6,1326.3A118.0,118.0 0 0 1 357.1,1354.4Q246.2,1314.0 223.7,1429.8A118.0,118.0 0 0 1 217.7,1428.5Q246.2,1314.0 363.6,1326.3Z" fill="#0000ff" fill-opacity="0.4"/>
<path d="M357.1,1354.4A118.0,118.0 0 0 1 351.9,1366.5Q246.2,1314.0 301.6,1418.2A118.0,118.0 0 0 1 290.4,1423.4Q246.2,1314.0 357.1,1354.4Z" fill="#0000ff" fill-opacity="0.3"/>
<path d="M358.4,1277.5A118.0,118.0 0 0 1 360.7,1285.5Q246.2,1314.0 217.7,1428.5A118.0,118.0 0 0 1 209.7,1426.2Q246.2,1314.0 358.4,1277.5Z" fill="#66eebb" fill-opacity="0.6"/>
<path d="M340.4,1243.0A118.0,118.0 0 0 1 354.0,1266.0Q246.2,1314.0 144.0,1373.0A118.0,118.0 0 0 1 135.3,1354.4Q246.2,1314.0 340.4,1243.0Z" fill="#0000ff" fill-opacity="0.08"/>
<path d="M354.0,1266.0A118.0,118.0 0 0 1 358.4,1277.5Q246.2,1314.0 246.2,1432.0A118.0,118.0 0 0 1 240.0,1431.8Q246.2,1314.0 354.0,1266.0Z" fill="#0000ff" fill-opacity="0.4"/>
<path d="M360.7,1285.5A118.0,118.0 0 0 1 362.2,1292.5Q246.2,1314.0 354.0,1362.0A118.0,118.0 0 0 1 352.3,1365.7Q246.2,1314.0 360.7,1285.5Z" fill="#0000ff" fill-opacity="0.3"/>
<path d="M246.2,1432.0A118.0,118.0 0 0 1 233.9,1431.4Q246.2,1314.0 250.3,1196.1A118.0,118.0 0 0 1 256.5,1196.4Q246.2,1314.0 246.2,1432.0Z" fill="#0000ff" fill-opacity="0.45"/>
<path d="M339.2,1386.6A118.0,118.0 0 0 1 328.2,1398.9Q246.2,1314.0 130.8,1338.5A118.0,118.0 0 0 1 128.5,1322.2Q246.2,1314.0 339.2,1386.6Z" fill="#ff0000" fill-opacity="0.3"/>
<path d="M289.5,1423.8A118.0,118.0 0 0 1 287.6,1424.5Q246.2,1314.0 359.6,1346.7A118.0,118.0 0 0 1 358.8,1349.3Q246.2,1314.0 289.5,1423.8Z" fill="#0000ff" fill-opacity="0.14"/>
<path d="M364.2,1314.1A118.0,118.0 0 0 1 364.2,1316.6Q246.2,1314.0 301.2,1209.6A118.0,118.0 0 0 1 304.2,1211.3Q246.2,1314.0 364.2,1314.1Z" fill="#0000ff" fill-opacity="0.23"/>
<path d="M360.8,1342.0A118.0,118.0 0 0 1 360.5,1343.3Q246.2,1314.0 184.9,1213.2A118.0,118.0 0 0 1 186.0,1212.5Q246.2,1314.0 360.8,1342.0Z" fill="#66eebb" fill-opacity="0.24"/>
<path d="M358.6,1277.9A118.0,118.0 0 0 1 359.4,1280.6Q246.2,1314.0 361.0,1341.4A118.0,118.0 0 0 1 360.1,1344.8Q246.2,1314.0 358.6,1277.9Z" fill="#0000ff" fill-opacity="0.16"/>
<path d="M294.7,1421.6A118.0,118.0 0 0 1 291.0,1423.2Q246.2,1314.0 356.8,1273.0A118.0,118.0 0 0 1 358.1,1276.6Q246.2,1314.0 294.7,1421.6Z" fill="#0000ff" fill-opacity="0.15"/>
<path d="M190.8,1209.8A118.0,118.0 0 0 1 193.8,1208.3Q246.2,1314.0 361.6,1338.7A118.0,118.0 0 0 1 360.7,1342.4Q246.2,1314.0 190.8,1209.8Z" fill="#66eebb" fill-opacity="0.21"/>
<path d="M282.7,1426.2A118.0,118.0 0 0 1 280.8,1426.8Q246.2,1314.0 183.1,1214.3A118.0,118.0 0 0 1 186.5,1212.2Q246.2,1314.0 282.7,1426.2Z" fill="#66eebb" fill-opacity="0.23"/>
<path d="M362.3,1335.3A118.0,118.0 0 0 1 361.9,1337.2Q246.2,1314.0 253.3,1196.2A118.0,118.0 0 0 1 256.8,1196.5Q246.2,1314.0 362.3,1335.3Z" fill="#0000ff" fill-opacity="0.14"/>
<path d="M361.6,1338.7A118.0,118.0 0 0 1 361.0,1341.4Q246.2,1314.0 337.8,1388.4A118.0,118.0 0 0 1 336.3,1390.2Q246.2,1314.0 361.6,1338.7Z" fill="#0000ff" fill-opacity="0.18"/>
<path d="M223.9,1198.1A118.0,118.0 0 0 1 225.6,1197.8Q246.2,1314.0 320.5,1405.7A118.0,118.0 0 0 1 319.0,1406.9Q246.2,1314.0 223.9,1198.1Z" fill="#0000ff" fill-opacity="0.19"/>
<path d="M132.9,1281.1A118.0,118.0 0 0 1 134.0,1277.4Q246.2,1314.0 340.8,1243.4A118.0,118.0 0 0 1 342.6,1246.0Q246.2,1314.0 132.9,1281.1Z" fill="#66eebb" fill-opacity="0.26"/>
<path d="M301.2,1418.4A118.0,118.0 0 0 1 297.7,1420.2Q246.2,1314.0 318.4,1220.7A118.0,118.0 0 0 1 320.5,1222.3Q246.2,1314.0 301.2,1418.4Z" fill="#66eebb" fill-opacity="0.21"/>
<path d="M134.3,1276.5A118.0,118.0 0 0 1 135.0,1274.4Q246.2,1314.0 326.5,1227.6A118.0,118.0 0 0 1 328.6,1229.5Q246.2,1314.0 134.3,1276.5Z" fill="#66eebb" fill-opacity="0.23"/>
<path d="M238.9,1431.8A118.0,118.0 0 0 1 235.3,1431.5Q246.2,1314.0 363.5,1326.7A118.0,118.0 0 0 1 363.1,1330.3Q246.2,1314.0 238.9,1431.8Z" fill="#0000ff" fill-opacity="0.13"/>
<path d="M363.5,1327.0A118.0,118.0 0 0 1 363.3,1328.3Q246.2,1314.0 241.6,1196.1A118.0,118.0 0 0 1 245.0,1196.0Q246.2,1314.0 363.5,1327.0Z" fill="#0000ff" fill-opacity="0.18"/>
<path d="M363.9,1322.7A118.0,118.0 0 0 1 363.7,1324.4Q246.2,1314.0 312.2,1411.8A118.0,118.0 0 0 1 309.9,1413.4Q246.2,1314.0 363.9,1322.7Z" fill="#0000ff" fill-opacity="0.2"/>
<path d="M130.5,1337.3A118.0,118.0 0 0 1 130.0,1334.8Q246.2,1314.0 298.0,1208.0A118.0,118.0 0 0 1 299.2,1208.6Q246.2,1314.0 130.5,1337.3Z" fill="#0000ff" fill-opacity="0.17"/>
<path d="M190.8,1209.8A118.0,118.0 0 0 1 194.4,1208.0Q246.2,1314.0 317.7,1407.9A118.0,118.0 0 0 1 315.7,1409.4Q246.2,1314.0 190.8,1209.8Z" fill="#66eebb" fill-opacity="0.15"/>
<path d="M240.0,1196.2A118.0,118.0 0 0 1 243.1,1196.0Q246.2,1314.0 144.0,1373.0A118.0,118.0 0 0 1 141.1,1367.6Q246.2,1314.0 240.0,1196.2Z" fill="#ff0000" fill-opacity="0.35"/>
<path d="M243.1,1196.0A118.0,118.0 0 0 1 246.2,1196.0Q246.2,1314.0 136.8,1358.2A118.0,118.0 0 0 1 134.6,1352.4Q246.2,1314.0 243.1,1196.0Z" fill="#ff0000" fill-opacity="0.3"/>
<path d="M233.9,1196.6A118.0,118.0 0 0 1 238.0,1196.3Q246.2,1314.0 129.3,1330.4A118.0,118.0 0 0 1 128.6,1324.3Q246.2,1314.0 233.9,1196.6Z" fill="#ff0000" fill-opacity="0.35"/>
<path d="M329.6,1397.4A118.0,118.0 0 0 1 326.7,1400.3Q246.2,1314.0 170.4,1404.4A118.0,118.0 0 0 1 165.7,1400.3Q246.2,1314.0 329.6,1397.4Z" fill="#ff0000" fill-opacity="0.35"/>
<path id="lpv_0" d="M317.1,1166.7A163.5,163.5 0 0 1 230.0,1476.7" fill="none"/>
<text style="font:italic 20.5px 'Liberation Sans', Arial, Helvetica, sans-serif"><textPath href="#lpv_0" startOffset="50%" text-anchor="middle">WT</textPath></text>
<path id="lpv_1" d="M407.5,1287.0A163.5,163.5 0 0 1 103.9,1394.5" fill="none"/>
<text style="font:italic 20.5px 'Liberation Sans', Arial, Helvetica, sans-serif"><textPath href="#lpv_1" startOffset="50%" text-anchor="middle">lipl-4 Tg</textPath></text>
<path id="lpv_2" d="M195.9,1469.6A163.5,163.5 0 0 1 240.2,1150.6" fill="none"/>
<text style="font:italic 20.5px 'Liberation Sans', Arial, Helvetica, sans-serif"><textPath href="#lpv_2" startOffset="50%" text-anchor="middle">daf-2(lf)</textPath></text>
<path id="lpv_3" d="M132.2,1196.8A163.5,163.5 0 0 1 393.4,1385.2" fill="none"/>
<text style="font:italic 20.5px 'Liberation Sans', Arial, Helvetica, sans-serif"><textPath href="#lpv_3" startOffset="50%" text-anchor="middle">rsks-1(lf)</textPath></text>
<text x="629.6" y="1126.2" text-anchor="middle" style="font:25px 'Liberation Sans', Arial, Helvetica, sans-serif">Hypodermis</text>
<path d="M805.5,1314.4A159.3,159.3 0 0 1 593.8,1464.8L599.6,1448.2A141.7,141.7 0 0 0 787.9,1314.4Z" fill="#bebebe"/>
<path d="M784.8,1314.4A138.6,138.6 0 0 1 770.2,1376.2L754.8,1368.5A121.3,121.3 0 0 0 767.5,1314.4Z" fill="#ff8080"/>
<path d="M770.2,1376.2A138.6,138.6 0 0 1 600.6,1445.3L606.3,1429.0A121.3,121.3 0 0 0 754.8,1368.5Z" fill="#8080ff"/>
<path d="M567.8,1453.0A159.3,159.3 0 0 1 492.3,1273.2L509.3,1277.7A141.7,141.7 0 0 0 576.4,1437.7Z" fill="#0066cc"/>
<path d="M578.0,1435.0A138.6,138.6 0 0 1 554.2,1418.0L565.7,1405.1A121.3,121.3 0 0 0 586.5,1420.0Z" fill="#ff8080"/>
<path d="M554.2,1418.0A138.6,138.6 0 0 1 512.3,1278.5L529.0,1283.0A121.3,121.3 0 0 0 565.7,1405.1Z" fill="#8080ff"/>
<path d="M502.5,1245.6A159.3,159.3 0 0 1 568.5,1175.3L577.1,1190.7A141.7,141.7 0 0 0 518.4,1253.2Z" fill="#cc9900"/>
<path d="M521.2,1254.5A138.6,138.6 0 0 1 529.6,1239.5L544.1,1248.9A121.3,121.3 0 0 0 536.8,1262.0Z" fill="#ff8080"/>
<path d="M529.6,1239.5A138.6,138.6 0 0 1 578.6,1193.4L587.0,1208.5A121.3,121.3 0 0 0 544.1,1248.9Z" fill="#8080ff"/>
<path d="M594.3,1163.8A159.3,159.3 0 0 1 802.9,1285.9L785.6,1289.1A141.7,141.7 0 0 0 600.1,1180.4Z" fill="#990066"/>
<path d="M601.1,1183.4A138.6,138.6 0 0 1 647.2,1175.8L647.0,1193.1A121.3,121.3 0 0 0 606.7,1199.7Z" fill="#ff8080"/>
<path d="M647.2,1175.8A138.6,138.6 0 0 1 782.6,1289.6L765.5,1292.7A121.3,121.3 0 0 0 647.0,1193.1Z" fill="#8080ff"/>
<path d="M650.3,1196.5A118.0,118.0 0 0 1 754.0,1266.4Q646.2,1314.4 625.7,1430.6A118.0,118.0 0 0 1 608.8,1426.3Q646.2,1314.4 650.3,1196.5Z" fill="#0000ff" fill-opacity="0.42"/>
<path d="M750.4,1369.8A118.0,118.0 0 0 1 627.7,1430.9Q646.2,1314.4 547.2,1250.1A118.0,118.0 0 0 1 588.1,1211.7Q646.2,1314.4 750.4,1369.8Z" fill="#0000ff" fill-opacity="0.42"/>
<path d="M564.2,1399.3A118.0,118.0 0 0 1 528.5,1306.2Q646.2,1314.4 757.1,1274.0A118.0,118.0 0 0 1 761.2,1287.9Q646.2,1314.4 564.2,1399.3Z" fill="#2a50e0" fill-opacity="0.5"/>
<path d="M528.5,1306.2A118.0,118.0 0 0 1 532.0,1284.9Q646.2,1314.4 754.0,1266.4A118.0,118.0 0 0 1 757.1,1274.0Q646.2,1314.4 528.5,1306.2Z" fill="#0000ff" fill-opacity="0.5"/>
<path d="M558.5,1235.4A118.0,118.0 0 0 1 588.1,1211.7Q646.2,1314.4 616.7,1428.6A118.0,118.0 0 0 1 608.8,1426.3Q646.2,1314.4 558.5,1235.4Z" fill="#0000ff" fill-opacity="0.3"/>
<path d="M539.8,1263.4A118.0,118.0 0 0 1 546.9,1250.7Q646.2,1314.4 759.6,1346.9A118.0,118.0 0 0 1 754.0,1362.4Q646.2,1314.4 539.8,1263.4Z" fill="#ff0000" fill-opacity="0.4"/>
<path d="M607.8,1202.8A118.0,118.0 0 0 1 629.8,1197.5Q646.2,1314.4 764.2,1314.4A118.0,118.0 0 0 1 760.7,1342.9Q646.2,1314.4 607.8,1202.8Z" fill="#ff0000" fill-opacity="0.42"/>
<path d="M629.8,1197.5A118.0,118.0 0 0 1 646.2,1196.4Q646.2,1314.4 754.0,1362.4A118.0,118.0 0 0 1 751.8,1367.1Q646.2,1314.4 629.8,1197.5Z" fill="#ff0000" fill-opacity="0.2"/>
<path d="M587.2,1416.6A118.0,118.0 0 0 1 568.8,1403.5Q646.2,1314.4 629.8,1197.5A118.0,118.0 0 0 1 646.2,1196.4Q646.2,1314.4 587.2,1416.6Z" fill="#ff0000" fill-opacity="0.28"/>
<path d="M754.0,1362.4A118.0,118.0 0 0 1 751.8,1367.1Q646.2,1314.4 761.2,1287.9A118.0,118.0 0 0 1 762.2,1292.9Q646.2,1314.4 754.0,1362.4Z" fill="#ff0000" fill-opacity="0.3"/>
<path d="M683.6,1426.3A118.0,118.0 0 0 1 679.3,1427.7Q646.2,1314.4 550.5,1245.3A118.0,118.0 0 0 1 553.1,1241.9Q646.2,1314.4 683.6,1426.3Z" fill="#0000ff" fill-opacity="0.22"/>
<path d="M528.4,1308.4A118.0,118.0 0 0 1 528.6,1304.6Q646.2,1314.4 704.8,1212.0A118.0,118.0 0 0 1 708.6,1214.3Q646.2,1314.4 528.4,1308.4Z" fill="#0000ff" fill-opacity="0.21"/>
<path d="M678.4,1200.9A118.0,118.0 0 0 1 683.0,1202.3Q646.2,1314.4 579.5,1217.1A118.0,118.0 0 0 1 583.4,1214.5Q646.2,1314.4 678.4,1200.9Z" fill="#ff0000" fill-opacity="0.19"/>
<path d="M537.0,1359.2A118.0,118.0 0 0 1 536.2,1357.1Q646.2,1314.4 738.1,1388.4A118.0,118.0 0 0 1 736.7,1390.1Q646.2,1314.4 537.0,1359.2Z" fill="#0000ff" fill-opacity="0.28"/>
<path d="M760.2,1283.9A118.0,118.0 0 0 1 761.3,1288.2Q646.2,1314.4 582.5,1215.0A118.0,118.0 0 0 1 585.0,1213.5Q646.2,1314.4 760.2,1283.9Z" fill="#0000ff" fill-opacity="0.27"/>
<path d="M703.9,1211.5A118.0,118.0 0 0 1 706.8,1213.1Q646.2,1314.4 528.2,1313.6A118.0,118.0 0 0 1 528.3,1308.7Q646.2,1314.4 703.9,1211.5Z" fill="#0000ff" fill-opacity="0.23"/>
<path d="M737.5,1239.6A118.0,118.0 0 0 1 739.7,1242.4Q646.2,1314.4 557.7,1236.4A118.0,118.0 0 0 1 561.0,1232.8Q646.2,1314.4 737.5,1239.6Z" fill="#0000ff" fill-opacity="0.27"/>
<path d="M553.1,1386.9A118.0,118.0 0 0 1 550.5,1383.4Q646.2,1314.4 573.4,1221.6A118.0,118.0 0 0 1 576.0,1219.5Q646.2,1314.4 553.1,1386.9Z" fill="#ff0000" fill-opacity="0.17"/>
<path d="M531.9,1343.5A118.0,118.0 0 0 1 531.1,1340.2Q646.2,1314.4 622.1,1198.9A118.0,118.0 0 0 1 626.9,1198.0Q646.2,1314.4 531.9,1343.5Z" fill="#0000ff" fill-opacity="0.24"/>
<path d="M555.5,1389.9A118.0,118.0 0 0 1 554.3,1388.4Q646.2,1314.4 753.8,1362.9A118.0,118.0 0 0 1 752.1,1366.5Q646.2,1314.4 555.5,1389.9Z" fill="#0000ff" fill-opacity="0.24"/>
<path id="lph_0" d="M790.6,1237.6A163.5,163.5 0 0 1 536.8,1435.9" fill="none"/>
<text style="font:italic 20.5px 'Liberation Sans', Arial, Helvetica, sans-serif"><textPath href="#lph_0" startOffset="50%" text-anchor="middle">WT</textPath></text>
<path id="lph_1" d="M704.0,1467.3A163.5,163.5 0 0 1 539.6,1190.4" fill="none"/>
<text style="font:italic 20.5px 'Liberation Sans', Arial, Helvetica, sans-serif"><textPath href="#lph_1" startOffset="50%" text-anchor="middle">lipl-4 Tg</textPath></text>
<path id="lph_2" d="M513.9,1410.5A163.5,163.5 0 0 1 737.6,1178.9" fill="none"/>
<text style="font:italic 20.5px 'Liberation Sans', Arial, Helvetica, sans-serif"><textPath href="#lph_2" startOffset="50%" text-anchor="middle">daf-2(lf)</textPath></text>
<path id="lph_3" d="M520.4,1210.0A163.5,163.5 0 0 1 800.1,1369.5" fill="none"/>
<text style="font:italic 20.5px 'Liberation Sans', Arial, Helvetica, sans-serif"><textPath href="#lph_3" startOffset="50%" text-anchor="middle">rsks-1(lf)</textPath></text>
<text x="1030.8" y="1122.3" text-anchor="middle" style="font:25px 'Liberation Sans', Arial, Helvetica, sans-serif">Muscle</text>
<path d="M1182.9,1305.3A159.3,159.3 0 0 1 1101.6,1444.2L1092.9,1428.9A141.7,141.7 0 0 0 1165.3,1305.3Z" fill="#bebebe"/>
<path d="M1162.2,1305.3A138.6,138.6 0 0 1 1161.3,1320.9L1144.1,1318.9A121.3,121.3 0 0 0 1144.9,1305.3Z" fill="#ff8080"/>
<path d="M1161.3,1320.9A138.6,138.6 0 0 1 1091.4,1426.2L1083.0,1411.1A121.3,121.3 0 0 0 1144.1,1318.9Z" fill="#8080ff"/>
<path d="M1076.0,1455.7A159.3,159.3 0 0 1 866.5,1331.6L883.8,1328.7A141.7,141.7 0 0 0 1070.2,1439.1Z" fill="#0066cc"/>
<path d="M1069.2,1436.2A138.6,138.6 0 0 1 1003.1,1442.4L1005.7,1425.3A121.3,121.3 0 0 0 1063.5,1419.9Z" fill="#ff8080"/>
<path d="M1003.1,1442.4A138.6,138.6 0 0 1 886.9,1328.2L904.0,1325.3A121.3,121.3 0 0 0 1005.7,1425.3Z" fill="#8080ff"/>
<path d="M864.3,1303.1A159.3,159.3 0 0 1 926.6,1178.9L937.3,1192.9A141.7,141.7 0 0 0 881.9,1303.3Z" fill="#cc9900"/>
<path d="M885.0,1303.4A138.6,138.6 0 0 1 939.2,1195.3L949.8,1209.1A121.3,121.3 0 0 0 902.3,1303.6Z" fill="#8080ff"/>
<path d="M951.8,1163.1A159.3,159.3 0 0 1 1180.4,1277.1L1163.1,1280.2A141.7,141.7 0 0 0 959.7,1178.8Z" fill="#990066"/>
<path d="M961.1,1181.6A138.6,138.6 0 0 1 1086.5,1181.8L1078.7,1197.2A121.3,121.3 0 0 0 968.9,1197.0Z" fill="#ff8080"/>
<path d="M1086.5,1181.8A138.6,138.6 0 0 1 1160.0,1280.8L1143.0,1283.8A121.3,121.3 0 0 0 1078.7,1197.2Z" fill="#8080ff"/>
<path d="M973.7,1198.4A118.0,118.0 0 0 1 1054.1,1191.3Q1023.6,1305.3 1060.1,1417.5A118.0,118.0 0 0 1 1013.3,1422.9Q1023.6,1305.3 973.7,1198.4Z" fill="#ff0000" fill-opacity="0.43"/>
<path d="M905.6,1303.2A118.0,118.0 0 0 1 930.6,1232.7Q1023.6,1305.3 1099.4,1395.7A118.0,118.0 0 0 1 1086.1,1405.4Q1023.6,1305.3 905.6,1303.2Z" fill="#0000ff" fill-opacity="0.42"/>
<path d="M1005.1,1421.8A118.0,118.0 0 0 1 907.4,1325.8Q1023.6,1305.3 1082.6,1203.1A118.0,118.0 0 0 1 1107.0,1221.9Q1023.6,1305.3 1005.1,1421.8Z" fill="#0000ff" fill-opacity="0.42"/>
<path d="M1140.7,1319.7A118.0,118.0 0 0 1 1102.6,1393.0Q1023.6,1305.3 1111.3,1226.3A118.0,118.0 0 0 1 1125.8,1246.3Q1023.6,1305.3 1140.7,1319.7Z" fill="#0000ff" fill-opacity="0.42"/>
<path d="M930.6,1232.7A118.0,118.0 0 0 1 951.0,1212.3Q1023.6,1305.3 1013.3,1422.9A118.0,118.0 0 0 1 1006.2,1422.0Q1023.6,1305.3 930.6,1232.7Z" fill="#66eebb" fill-opacity="0.2"/>
<path d="M1125.8,1246.3A118.0,118.0 0 0 1 1134.5,1264.9Q1023.6,1305.3 912.7,1345.7A118.0,118.0 0 0 1 909.1,1333.8Q1023.6,1305.3 1125.8,1246.3Z" fill="#4a90d9" fill-opacity="0.42"/>
<path d="M1137.0,1272.8A118.0,118.0 0 0 1 1139.4,1282.8Q1023.6,1305.3 933.2,1381.1A118.0,118.0 0 0 1 925.8,1371.3Q1023.6,1305.3 1137.0,1272.8Z" fill="#0000ff" fill-opacity="0.22"/>
<path d="M1141.6,1305.3A118.0,118.0 0 0 1 1140.9,1318.6Q1023.6,1305.3 1050.1,1190.3A118.0,118.0 0 0 1 1054.1,1191.3Q1023.6,1305.3 1141.6,1305.3Z" fill="#ff0000" fill-opacity="0.42"/>
<path d="M1102.6,1393.0A118.0,118.0 0 0 1 1099.4,1395.7Q1023.6,1305.3 1054.1,1191.3A118.0,118.0 0 0 1 1064.0,1194.4Q1023.6,1305.3 1102.6,1393.0Z" fill="#0000ff" fill-opacity="0.3"/>
<path d="M952.4,1399.4A118.0,118.0 0 0 1 948.6,1396.4Q1023.6,1305.3 922.4,1244.7A118.0,118.0 0 0 1 924.1,1241.9Q1023.6,1305.3 952.4,1399.4Z" fill="#66eebb" fill-opacity="0.15"/>
<path d="M984.0,1416.4A118.0,118.0 0 0 1 980.6,1415.2Q1023.6,1305.3 1128.7,1251.6A118.0,118.0 0 0 1 1130.2,1254.8Q1023.6,1305.3 984.0,1416.4Z" fill="#0000ff" fill-opacity="0.2"/>
<path d="M1116.8,1232.9A118.0,118.0 0 0 1 1119.2,1236.1Q1023.6,1305.3 1120.3,1372.9A118.0,118.0 0 0 1 1119.3,1374.4Q1023.6,1305.3 1116.8,1232.9Z" fill="#ff0000" fill-opacity="0.22"/>
<path d="M912.8,1264.8A118.0,118.0 0 0 1 914.1,1261.3Q1023.6,1305.3 1120.1,1237.4A118.0,118.0 0 0 1 1122.8,1241.5Q1023.6,1305.3 912.8,1264.8Z" fill="#66eebb" fill-opacity="0.17"/>
<path d="M999.0,1189.9A118.0,118.0 0 0 1 1003.6,1189.0Q1023.6,1305.3 1018.9,1423.2A118.0,118.0 0 0 1 1016.9,1423.1Q1023.6,1305.3 999.0,1189.9Z" fill="#66eebb" fill-opacity="0.22"/>
<path d="M911.6,1268.2A118.0,118.0 0 0 1 912.7,1265.0Q1023.6,1305.3 1090.6,1208.1A118.0,118.0 0 0 1 1093.0,1209.9Q1023.6,1305.3 911.6,1268.2Z" fill="#0000ff" fill-opacity="0.24"/>
<path id="lpm_0" d="M1127.6,1179.1A163.5,163.5 0 0 1 969.0,1459.4" fill="none"/>
<text style="font:italic 20.5px 'Liberation Sans', Arial, Helvetica, sans-serif"><textPath href="#lpm_0" startOffset="50%" text-anchor="middle">WT</textPath></text>
<path id="lpm_1" d="M1154.2,1403.7A163.5,163.5 0 0 1 867.2,1257.5" fill="none"/>
<text style="font:italic 20.5px 'Liberation Sans', Arial, Helvetica, sans-serif"><textPath href="#lpm_1" startOffset="50%" text-anchor="middle">lipl-4 Tg</textPath></text>
<path id="lpm_2" d="M916.8,1429.1A163.5,163.5 0 0 1 1081.7,1152.5" fill="none"/>
<text style="font:italic 20.5px 'Liberation Sans', Arial, Helvetica, sans-serif"><textPath href="#lpm_2" startOffset="50%" text-anchor="middle">daf-2(lf)</textPath></text>
<path id="lpm_3" d="M898.4,1200.2A163.5,163.5 0 0 1 1177.2,1361.2" fill="none"/>
<text style="font:italic 20.5px 'Liberation Sans', Arial, Helvetica, sans-serif"><textPath href="#lpm_3" startOffset="50%" text-anchor="middle">rsks-1(lf)</textPath></text>
<text x="1427.2" y="1116.5" text-anchor="middle" style="font:25px 'Liberation Sans', Arial, Helvetica, sans-serif">Pharynx</text>
<path d="M1583.7,1305.3A159.3,159.3 0 0 1 1493.7,1448.7L1486.1,1432.9A141.7,141.7 0 0 0 1566.1,1305.3Z" fill="#bebebe"/>
<path d="M1563.0,1305.3A138.6,138.6 0 0 1 1537.1,1386.0L1523.0,1375.9A121.3,121.3 0 0 0 1545.7,1305.3Z" fill="#ff8080"/>
<path d="M1537.1,1386.0A138.6,138.6 0 0 1 1484.7,1430.1L1477.2,1414.5A121.3,121.3 0 0 0 1523.0,1375.9Z" fill="#8080ff"/>
<path d="M1470.0,1457.9A159.3,159.3 0 0 1 1351.8,1447.1L1359.8,1431.4A141.7,141.7 0 0 0 1465.0,1441.1Z" fill="#0066cc"/>
<path d="M1464.1,1438.1A138.6,138.6 0 0 1 1434.1,1443.6L1432.9,1426.3A121.3,121.3 0 0 0 1459.2,1421.5Z" fill="#ff8080"/>
<path d="M1434.1,1443.6A138.6,138.6 0 0 1 1361.3,1428.7L1369.1,1413.3A121.3,121.3 0 0 0 1432.9,1426.3Z" fill="#8080ff"/>
<path d="M1327.4,1431.7A159.3,159.3 0 0 1 1283.1,1231.7L1298.7,1239.9A141.7,141.7 0 0 0 1338.1,1417.7Z" fill="#cc9900"/>
<path d="M1340.0,1415.3A138.6,138.6 0 0 1 1311.4,1385.6L1325.5,1375.6A121.3,121.3 0 0 0 1350.6,1401.5Z" fill="#ff8080"/>
<path d="M1311.4,1385.6A138.6,138.6 0 0 1 1301.5,1241.3L1316.8,1249.3A121.3,121.3 0 0 0 1325.5,1375.6Z" fill="#8080ff"/>
<path d="M1298.9,1207.2A159.3,159.3 0 0 1 1581.2,1277.1L1563.9,1280.2A141.7,141.7 0 0 0 1312.7,1218.1Z" fill="#990066"/>
<path d="M1315.2,1220.0A138.6,138.6 0 0 1 1336.4,1198.2L1347.4,1211.6A121.3,121.3 0 0 0 1328.8,1230.6Z" fill="#ff8080"/>
<path d="M1336.4,1198.2A138.6,138.6 0 0 1 1560.8,1280.8L1543.8,1283.8A121.3,121.3 0 0 0 1347.4,1211.6Z" fill="#8080ff"/>
<path d="M1542.4,1305.3A118.0,118.0 0 0 1 1521.1,1373.0Q1424.4,1305.3 1456.9,1418.7A118.0,118.0 0 0 1 1446.9,1421.1Q1424.4,1305.3 1542.4,1305.3Z" fill="#9c7a50" fill-opacity="0.5"/>
<path d="M1331.4,1232.7A118.0,118.0 0 0 1 1349.3,1214.2Q1424.4,1305.3 1446.9,1421.1A118.0,118.0 0 0 1 1438.8,1422.4Q1424.4,1305.3 1331.4,1232.7Z" fill="#80a070" fill-opacity="0.45"/>
<path d="M1351.8,1398.3A118.0,118.0 0 0 1 1328.9,1374.7Q1424.4,1305.3 1438.8,1422.4A118.0,118.0 0 0 1 1432.6,1423.0Q1424.4,1305.3 1351.8,1398.3Z" fill="#707050" fill-opacity="0.5"/>
<path d="M1519.9,1374.7A118.0,118.0 0 0 1 1478.0,1410.4Q1424.4,1305.3 1432.6,1423.0A118.0,118.0 0 0 1 1420.3,1423.2Q1424.4,1305.3 1519.9,1374.7Z" fill="#0000ff" fill-opacity="0.55"/>
<path d="M1350.1,1213.6A118.0,118.0 0 0 1 1403.9,1189.1Q1424.4,1305.3 1420.3,1423.2A118.0,118.0 0 0 1 1405.9,1421.8Q1424.4,1305.3 1350.1,1213.6Z" fill="#0000ff" fill-opacity="0.6"/>
<path d="M1403.9,1189.1A118.0,118.0 0 0 1 1448.9,1189.9Q1424.4,1305.3 1405.9,1421.8A118.0,118.0 0 0 1 1397.9,1420.3Q1424.4,1305.3 1403.9,1189.1Z" fill="#3050e0" fill-opacity="0.5"/>
<path d="M1448.9,1189.9A118.0,118.0 0 0 1 1485.2,1204.2Q1424.4,1305.3 1397.9,1420.3A118.0,118.0 0 0 1 1389.9,1418.1Q1424.4,1305.3 1448.9,1189.9Z" fill="#0000ff" fill-opacity="0.6"/>
<path d="M1485.2,1204.2A118.0,118.0 0 0 1 1507.8,1221.9Q1424.4,1305.3 1389.9,1418.1A118.0,118.0 0 0 1 1384.0,1416.2Q1424.4,1305.3 1485.2,1204.2Z" fill="#0000ff" fill-opacity="0.22"/>
<path d="M1507.8,1221.9A118.0,118.0 0 0 1 1535.3,1264.9Q1424.4,1305.3 1384.0,1416.2A118.0,118.0 0 0 1 1379.2,1414.3Q1424.4,1305.3 1507.8,1221.9Z" fill="#4a9ad0" fill-opacity="0.42"/>
<path d="M1535.3,1264.9A118.0,118.0 0 0 1 1540.2,1282.8Q1424.4,1305.3 1307.5,1321.7A118.0,118.0 0 0 1 1306.7,1313.5Q1424.4,1305.3 1535.3,1264.9Z" fill="#0000ff" fill-opacity="0.45"/>
<path d="M1309.9,1333.8A118.0,118.0 0 0 1 1306.4,1305.3Q1424.4,1305.3 1379.2,1414.3A118.0,118.0 0 0 1 1374.5,1412.2Q1424.4,1305.3 1309.9,1333.8Z" fill="#0000ff" fill-opacity="0.55"/>
<path d="M1306.4,1305.3A118.0,118.0 0 0 1 1310.4,1274.8Q1424.4,1305.3 1374.5,1412.2A118.0,118.0 0 0 1 1370.8,1410.4Q1424.4,1305.3 1306.4,1305.3Z" fill="#2020f0" fill-opacity="0.6"/>
<path d="M1310.4,1274.8A118.0,118.0 0 0 1 1319.3,1251.7Q1424.4,1305.3 1478.0,1410.4A118.0,118.0 0 0 1 1476.1,1411.4Q1424.4,1305.3 1310.4,1274.8Z" fill="#0000ff" fill-opacity="0.4"/>
<path d="M1456.9,1418.7A118.0,118.0 0 0 1 1432.6,1423.0Q1424.4,1305.3 1512.1,1226.3A118.0,118.0 0 0 1 1526.6,1246.3Q1424.4,1305.3 1456.9,1418.7Z" fill="#66eebb" fill-opacity="0.3"/>
<path d="M1443.8,1421.7A118.0,118.0 0 0 1 1441.9,1422.0Q1424.4,1305.3 1308.7,1328.6A118.0,118.0 0 0 1 1308.2,1325.6Q1424.4,1305.3 1443.8,1421.7Z" fill="#66eebb" fill-opacity="0.29"/>
<path d="M1306.6,1311.4A118.0,118.0 0 0 1 1306.5,1309.0Q1424.4,1305.3 1540.3,1327.3A118.0,118.0 0 0 1 1539.6,1330.8Q1424.4,1305.3 1306.6,1311.4Z" fill="#0000ff" fill-opacity="0.22"/>
<path d="M1535.9,1344.0A118.0,118.0 0 0 1 1534.3,1348.2Q1424.4,1305.3 1308.6,1282.8A118.0,118.0 0 0 1 1309.0,1280.5Q1424.4,1305.3 1535.9,1344.0Z" fill="#0000ff" fill-opacity="0.17"/>
<path d="M1306.8,1295.8A118.0,118.0 0 0 1 1307.1,1292.4Q1424.4,1305.3 1349.4,1214.2A118.0,118.0 0 0 1 1351.1,1212.8Q1424.4,1305.3 1306.8,1295.8Z" fill="#0000ff" fill-opacity="0.15"/>
<path d="M1306.6,1299.1A118.0,118.0 0 0 1 1306.8,1296.0Q1424.4,1305.3 1443.6,1421.7A118.0,118.0 0 0 1 1439.9,1422.3Q1424.4,1305.3 1306.6,1299.1Z" fill="#0000ff" fill-opacity="0.21"/>
<path d="M1523.1,1369.9A118.0,118.0 0 0 1 1521.0,1373.1Q1424.4,1305.3 1444.2,1189.0A118.0,118.0 0 0 1 1446.8,1189.4Q1424.4,1305.3 1523.1,1369.9Z" fill="#0000ff" fill-opacity="0.19"/>
<path d="M1403.4,1421.4A118.0,118.0 0 0 1 1400.4,1420.8Q1424.4,1305.3 1537.0,1340.5A118.0,118.0 0 0 1 1536.3,1342.8Q1424.4,1305.3 1403.4,1421.4Z" fill="#0000ff" fill-opacity="0.26"/>
<path d="M1308.8,1329.1A118.0,118.0 0 0 1 1307.9,1324.3Q1424.4,1305.3 1437.5,1422.6A118.0,118.0 0 0 1 1435.5,1422.8Q1424.4,1305.3 1308.8,1329.1Z" fill="#0000ff" fill-opacity="0.18"/>
<path d="M1398.1,1420.3A118.0,118.0 0 0 1 1394.9,1419.6Q1424.4,1305.3 1315.0,1261.2A118.0,118.0 0 0 1 1315.6,1259.5Q1424.4,1305.3 1398.1,1420.3Z" fill="#0000ff" fill-opacity="0.33"/>
<path d="M1307.5,1321.6A118.0,118.0 0 0 1 1307.2,1318.8Q1424.4,1305.3 1513.7,1382.5A118.0,118.0 0 0 1 1511.8,1384.6Q1424.4,1305.3 1307.5,1321.6Z" fill="#0000ff" fill-opacity="0.22"/>
<path d="M1406.0,1421.9A118.0,118.0 0 0 1 1403.4,1421.4Q1424.4,1305.3 1364.4,1203.7A118.0,118.0 0 0 1 1366.6,1202.4Q1424.4,1305.3 1406.0,1421.9Z" fill="#0000ff" fill-opacity="0.24"/>
<path d="M1539.5,1279.2A118.0,118.0 0 0 1 1540.1,1282.1Q1424.4,1305.3 1409.3,1422.3A118.0,118.0 0 0 1 1404.9,1421.7Q1424.4,1305.3 1539.5,1279.2Z" fill="#66eebb" fill-opacity="0.4"/>
<path d="M1506.5,1220.6A118.0,118.0 0 0 1 1508.0,1222.0Q1424.4,1305.3 1405.8,1421.8A118.0,118.0 0 0 1 1404.0,1421.5Q1424.4,1305.3 1506.5,1220.6Z" fill="#0000ff" fill-opacity="0.3"/>
<path d="M1522.7,1240.0A118.0,118.0 0 0 1 1524.2,1242.3Q1424.4,1305.3 1431.9,1423.1A118.0,118.0 0 0 1 1430.2,1423.2Q1424.4,1305.3 1522.7,1240.0Z" fill="#66eebb" fill-opacity="0.31"/>
<path d="M1415.0,1422.9A118.0,118.0 0 0 1 1412.6,1422.7Q1424.4,1305.3 1378.6,1196.6A118.0,118.0 0 0 1 1381.5,1195.4Q1424.4,1305.3 1415.0,1422.9Z" fill="#66eebb" fill-opacity="0.21"/>
<path d="M1387.3,1193.3A118.0,118.0 0 0 1 1390.5,1192.3Q1424.4,1305.3 1436.3,1422.7A118.0,118.0 0 0 1 1434.5,1422.9Q1424.4,1305.3 1387.3,1193.3Z" fill="#0000ff" fill-opacity="0.34"/>
<path d="M1534.3,1262.4A118.0,118.0 0 0 1 1535.1,1264.4Q1424.4,1305.3 1307.8,1287.5A118.0,118.0 0 0 1 1308.0,1285.7Q1424.4,1305.3 1534.3,1262.4Z" fill="#66eebb" fill-opacity="0.39"/>
<path d="M1486.7,1405.5A118.0,118.0 0 0 1 1484.1,1407.1Q1424.4,1305.3 1469.6,1196.3A118.0,118.0 0 0 1 1472.5,1197.5Q1424.4,1305.3 1486.7,1405.5Z" fill="#0000ff" fill-opacity="0.23"/>
<path d="M1488.1,1206.0A118.0,118.0 0 0 1 1491.9,1208.5Q1424.4,1305.3 1309.4,1278.8A118.0,118.0 0 0 1 1310.2,1275.4Q1424.4,1305.3 1488.1,1206.0Z" fill="#0000ff" fill-opacity="0.23"/>
<path d="M1482.0,1202.3A118.0,118.0 0 0 1 1486.0,1204.6Q1424.4,1305.3 1539.8,1329.8A118.0,118.0 0 0 1 1539.2,1332.4Q1424.4,1305.3 1482.0,1202.3Z" fill="#66eebb" fill-opacity="0.37"/>
<path id="lpp_0" d="M1534.0,1184.0A163.5,163.5 0 0 1 1362.9,1456.8" fill="none"/>
<text style="font:italic 20.5px 'Liberation Sans', Arial, Helvetica, sans-serif"><textPath href="#lpp_0" startOffset="50%" text-anchor="middle">WT</textPath></text>
<path id="lpp_1" d="M1582.2,1348.2A163.5,163.5 0 0 1 1261.5,1319.0" fill="none"/>
<text style="font:italic 20.5px 'Liberation Sans', Arial, Helvetica, sans-serif"><textPath href="#lpp_1" startOffset="50%" text-anchor="middle">lipl-4 Tg</textPath></text>
<path id="lpp_2" d="M1431.5,1468.6A163.5,163.5 0 0 1 1361.8,1154.2" fill="none"/>
<text style="font:italic 20.5px 'Liberation Sans', Arial, Helvetica, sans-serif"><textPath href="#lpp_2" startOffset="50%" text-anchor="middle">daf-2(lf)</textPath></text>
<path id="lpp_3" d="M1274.9,1239.1A163.5,163.5 0 0 1 1587.5,1316.4" fill="none"/>
<text style="font:italic 20.5px 'Liberation Sans', Arial, Helvetica, sans-serif"><textPath href="#lpp_3" startOffset="50%" text-anchor="middle">rsks-1(lf)</textPath></text>
<text x="1" y="1065" style="font:bold 36px 'Liberation Serif', serif">c</text>
<text x="16" y="1576.5" style="font:bold 36px 'Liberation Serif', 'Times New Roman', serif">d</text>
<text x="108.5" y="1593.5" style="font:25px 'Liberation Sans', Arial, Helvetica, sans-serif">Muscle</text>
<path d="M326,1621L396,1622" stroke="#ff8080" stroke-width="1.2" stroke-opacity="0.5"/>
<path d="M285,1665L466,1682" stroke="#8080ff" stroke-width="0.9" stroke-opacity="0.6"/>
<path d="M318,1650L372,1742M322,1652L376,1744M330,1648L380,1746M337,1652L385,1746M413,1620L378,1740" stroke="#40e040" stroke-width="0.8" stroke-opacity="0.6"/>
<path d="M470,1590L440,1780M476,1600L452,1760" stroke="#e8e840" stroke-width="0.6" stroke-opacity="0.4"/>
<path d="M229.0 1780.0L265.8 1662.4M240.0 1800.0L253.0 1787.6M240.0 1800.0L241.2 1688.0M240.0 1800.0L240.7 1692.6M229.0 1780.0L234.2 1730.6M226.0 1755.0L260.0 1712.0M229.0 1780.0L221.2 1800.1M240.0 1800.0L252.1 1800.6M240.0 1800.0L248.0 1705.2M229.0 1780.0L225.6 1790.3M226.0 1755.0L246.9 1666.7M229.0 1780.0L274.3 1703.6M226.0 1755.0L277.8 1711.6M226.0 1755.0L258.5 1703.6M226.0 1755.0L255.5 1657.6M240.0 1800.0L229.7 1768.3M229.0 1780.0L267.3 1732.5M229.0 1780.0L268.1 1704.2M240.0 1800.0L262.9 1666.8M240.0 1800.0L266.9 1652.4M226.0 1755.0L263.6 1717.4M229.0 1780.0L252.2 1690.4M229.0 1780.0L252.2 1690.4M226.0 1755.0L262.8 1692.8M226.0 1755.0L313.3 1623.7M240.0 1800.0L278.9 1704.2M240.0 1800.0L250.9 1709.9M240.0 1800.0L311.6 1616.9M226.0 1755.0L290.1 1650.5M226.0 1755.0L286.7 1638.3M240.0 1800.0L260.2 1779.0M229.0 1780.0L275.2 1631.6M229.0 1780.0L226.9 1811.8M226.0 1755.0L251.6 1682.6M226.0 1755.0L254.0 1750.7M240.0 1800.0L283.8 1641.9M226.0 1755.0L262.0 1711.7M240.0 1800.0L299.7 1673.4M240.0 1800.0L261.6 1684.0M229.0 1780.0L232.0 1782.3M229.0 1780.0L252.9 1794.9M226.0 1755.0L254.8 1693.0M229.0 1780.0L269.9 1658.7M226.0 1755.0L249.3 1794.8M240.0 1800.0L290.2 1648.5M240.0 1800.0L253.6 1666.6M229.0 1780.0L250.8 1754.4M226.0 1755.0L250.5 1722.5M240.0 1800.0L248.8 1821.0M240.0 1800.0L251.4 1703.6M240.0 1800.0L272.2 1658.7M229.0 1780.0L239.0 1714.4M226.0 1755.0L274.3 1703.6M226.0 1755.0L234.5 1731.9M226.0 1755.0L281.8 1705.3M240.0 1800.0L232.3 1752.3M226.0 1755.0L230.2 1765.2M240.0 1800.0L233.3 1791.1M226.0 1755.0L262.2 1634.1M240.0 1800.0L267.0 1631.7M240.0 1800.0L251.2 1766.9M229.0 1780.0L226.9 1811.8M229.0 1780.0L248.2 1753.7M229.0 1780.0L294.6 1657.8M226.0 1755.0L229.9 1747.7M229.0 1780.0L232.2 1765.0M229.0 1780.0L266.6 1644.3M240.0 1800.0L313.3 1623.7M226.0 1755.0L298.3 1641.3M226.0 1755.0L250.8 1790.1M226.0 1755.0L277.8 1711.6M240.0 1800.0L259.6 1782.1M240.0 1800.0L248.6 1656.8M226.0 1755.0L277.6 1661.5M240.0 1800.0L301.9 1608.1M229.0 1780.0L270.9 1653.5M229.0 1780.0L263.3 1665.6M229.0 1780.0L234.1 1788.5M226.0 1755.0L261.3 1663.8M240.0 1800.0L238.8 1749.8M226.0 1755.0L228.5 1793.8M229.0 1780.0L252.9 1794.9M229.0 1780.0L251.6 1702.0M229.0 1780.0L274.0 1639.4M229.0 1780.0L241.5 1771.8M229.0 1780.0L274.8 1670.6M229.0 1780.0L283.1 1654.2M229.0 1780.0L259.6 1782.1M229.0 1780.0L251.6 1702.0M226.0 1755.0L251.7 1738.0M226.0 1755.0L227.2 1790.3M240.0 1800.0L240.6 1766.6M240.0 1800.0L235.6 1723.3M226.0 1755.0L270.6 1721.1M226.0 1755.0L263.7 1628.0M226.0 1755.0L307.9 1654.8M226.0 1755.0L292.6 1641.5M229.0 1780.0L233.0 1798.1M240.0 1800.0L234.6 1799.4M226.0 1755.0L267.3 1732.5M226.0 1755.0L300.5 1610.9M226.0 1755.0L299.7 1673.4M226.0 1755.0L233.3 1791.1M240.0 1800.0L231.9 1792.7M226.0 1755.0L313.3 1623.7M226.0 1755.0L253.9 1655.9M226.0 1755.0L261.5 1641.0M240.0 1800.0L278.5 1625.9M229.0 1780.0L260.9 1746.6M229.0 1780.0L304.5 1632.4M229.0 1780.0L237.5 1800.7M229.0 1780.0L247.2 1761.6M229.0 1780.0L263.3 1665.6M229.0 1780.0L282.9 1689.2M229.0 1780.0L282.2 1650.4M226.0 1755.0L271.1 1666.8M229.0 1780.0L277.8 1702.6M240.0 1800.0L260.4 1685.2M226.0 1755.0L253.6 1731.0M226.0 1755.0L259.7 1695.4" stroke="#40e0d0" stroke-width="0.6" stroke-opacity="0.3" fill="none"/>
<path d="M286.7 1638.3h0M243.9 1710.8h0M269.9 1667.4h0M252.2 1690.4h0M247.1 1793.9h0M267.4 1668.7h0M273.8 1624.4h0M279.0 1677.6h0M242.8 1808.2h0M236.9 1798.9h0M287.1 1642.8h0M274.8 1655.1h0M273.0 1691.9h0M246.3 1681.1h0M240.4 1698.0h0M259.3 1693.0h0M236.3 1745.8h0M248.4 1718.4h0M229.6 1775.8h0M258.5 1768.8h0M283.8 1641.9h0M226.1 1763.9h0M261.3 1663.8h0M254.4 1664.6h0M288.1 1635.6h0M235.9 1795.1h0M262.9 1666.8h0M242.8 1727.8h0M291.7 1684.0h0M251.9 1753.9h0M280.8 1622.0h0M235.4 1819.4h0M240.4 1736.3h0M278.9 1704.2h0M239.1 1723.0h0M288.4 1662.4h0M280.8 1666.2h0M260.1 1688.4h0M245.4 1705.0h0M269.8 1651.9h0M300.2 1672.7h0M259.6 1687.2h0M232.9 1809.2h0M290.2 1648.5h0M265.6 1700.6h0M275.8 1690.6h0M256.6 1755.4h0M257.8 1758.5h0M301.7 1658.2h0M236.0 1764.7h0M306.5 1611.9h0M264.6 1671.8h0M287.0 1617.2h0M297.5 1641.1h0M244.0 1795.4h0M258.7 1765.0h0M256.8 1804.9h0M256.2 1795.2h0M248.9 1663.9h0M267.4 1738.4h0M275.0 1714.4h0M281.9 1716.2h0M265.5 1708.8h0M263.8 1642.8h0M265.8 1662.4h0M292.2 1676.9h0M296.5 1660.6h0M287.2 1690.6h0M255.4 1758.3h0M241.5 1798.4h0M242.6 1708.2h0M309.7 1660.3h0M231.8 1820.7h0M284.4 1622.0h0M271.1 1652.7h0M252.6 1669.3h0M269.6 1698.7h0M287.8 1627.1h0M239.5 1807.0h0M263.8 1695.2h0M231.9 1792.7h0M305.6 1613.8h0M275.8 1620.8h0M246.4 1718.8h0M283.0 1689.8h0M237.6 1795.9h0M253.0 1797.1h0M281.3 1626.0h0M224.0 1801.8h0M253.8 1683.5h0M286.8 1616.3h0M233.6 1825.2h0M301.9 1608.1h0M240.9 1791.3h0M281.2 1628.1h0M254.8 1693.0h0M297.1 1660.8h0M237.1 1810.0h0M222.7 1806.2h0M289.4 1687.6h0M242.8 1762.5h0M280.1 1716.9h0M260.4 1685.2h0M246.8 1823.7h0M268.6 1683.4h0M230.6 1819.2h0M260.5 1673.5h0M234.1 1788.5h0M290.7 1632.3h0M242.8 1766.5h0M255.1 1669.2h0M268.7 1723.9h0M300.3 1625.4h0M281.8 1705.3h0M251.9 1768.5h0M228.1 1781.7h0M301.5 1610.4h0M233.8 1818.5h0M228.5 1793.8h0M248.6 1772.2h0M252.6 1681.5h0M260.0 1712.0h0M259.5 1742.9h0M275.3 1631.5h0M240.2 1824.0h0M315.7 1634.9h0M233.3 1791.1h0M239.5 1704.0h0M262.1 1667.4h0M239.5 1803.0h0M297.0 1681.7h0M260.3 1658.7h0M264.7 1681.2h0M277.8 1702.6h0M261.3 1734.4h0M278.4 1670.6h0M260.6 1776.0h0M261.3 1701.7h0M234.5 1731.9h0M235.6 1723.3h0M308.1 1626.1h0M232.3 1790.0h0M238.7 1748.4h0M267.6 1626.6h0M240.2 1773.7h0M243.0 1750.9h0M270.5 1735.2h0M253.4 1810.1h0M253.2 1792.6h0M246.2 1673.2h0M262.0 1711.7h0M244.1 1792.1h0M273.7 1716.5h0M233.0 1798.1h0M271.6 1661.6h0M248.2 1753.7h0M250.1 1804.4h0M275.0 1662.9h0M262.1 1693.4h0M239.0 1714.4h0M234.4 1812.6h0M244.5 1675.3h0M242.0 1718.4h0M274.0 1639.4h0M253.5 1665.0h0M226.9 1811.8h0M245.1 1802.3h0M269.6 1719.5h0M308.5 1646.3h0M295.5 1658.5h0M310.7 1643.0h0M298.5 1621.0h0M252.1 1712.4h0M237.7 1763.2h0M237.5 1825.9h0M255.0 1808.5h0M236.4 1786.3h0M274.8 1670.6h0M250.0 1783.7h0M288.7 1610.8h0M266.2 1646.5h0M264.2 1664.5h0M309.2 1612.0h0M255.7 1673.8h0M242.2 1764.7h0M322.3 1621.2h0M269.9 1658.7h0M263.6 1717.4h0M268.3 1651.8h0M227.7 1785.9h0M283.3 1616.6h0M243.6 1809.2h0M240.7 1692.6h0M241.0 1740.3h0M268.4 1729.7h0M306.2 1642.0h0M269.6 1742.5h0M286.2 1686.8h0M307.4 1623.6h0M292.4 1636.6h0M263.3 1665.6h0M262.2 1634.1h0M299.4 1609.7h0M269.7 1677.0h0M273.7 1653.8h0M256.0 1653.6h0M310.2 1615.4h0M261.5 1659.2h0M311.9 1647.7h0M281.8 1679.3h0M251.1 1771.9h0M251.1 1758.0h0M265.9 1677.1h0M257.5 1653.9h0M267.7 1702.6h0M259.6 1632.5h0M321.2 1626.2h0M260.2 1779.0h0M248.4 1719.1h0M272.7 1667.3h0M241.0 1707.4h0M264.8 1632.3h0M308.4 1630.4h0M268.8 1694.3h0M259.7 1653.3h0M278.2 1723.9h0M241.3 1737.1h0M253.7 1816.6h0M295.4 1615.7h0M292.9 1671.6h0M246.1 1746.7h0M260.1 1630.7h0M287.3 1617.0h0M241.5 1774.3h0M252.5 1724.7h0M247.2 1761.6h0M265.1 1719.9h0M240.7 1719.5h0M256.6 1680.9h0M247.3 1718.3h0M266.6 1712.3h0M288.3 1626.5h0M234.6 1799.4h0M238.4 1767.8h0M250.1 1775.3h0M239.5 1711.2h0M237.5 1800.7h0M270.6 1721.1h0M268.8 1690.8h0M248.7 1747.5h0M285.8 1664.7h0M264.5 1678.1h0M225.1 1815.2h0M242.7 1795.6h0M232.0 1808.1h0M253.5 1754.8h0M223.3 1793.6h0M292.4 1638.6h0M280.8 1661.2h0M255.7 1640.1h0M264.9 1715.8h0M300.6 1628.3h0M228.1 1748.2h0M233.9 1780.6h0M239.5 1810.7h0M252.3 1688.7h0M249.6 1818.0h0M292.6 1641.5h0M246.1 1727.3h0M235.0 1720.6h0M242.5 1809.3h0M248.5 1668.6h0M295.0 1647.9h0M275.0 1661.1h0M278.7 1679.6h0M249.1 1715.2h0M284.9 1617.8h0M253.3 1672.7h0M299.0 1645.0h0M260.3 1714.8h0M261.3 1694.7h0M241.7 1721.6h0M298.0 1657.3h0M249.6 1728.9h0M267.7 1685.9h0M250.6 1662.3h0M252.5 1673.4h0M248.8 1821.0h0M226.5 1770.2h0M242.7 1697.6h0M249.0 1756.8h0M233.2 1824.8h0M270.5 1735.3h0M259.3 1630.3h0M270.0 1621.5h0M268.3 1692.7h0M254.0 1797.8h0M261.8 1682.3h0M236.2 1799.2h0M228.6 1761.1h0M281.8 1611.9h0M254.4 1774.1h0M282.9 1622.8h0M305.7 1625.5h0M241.0 1744.2h0M282.2 1665.7h0M237.6 1726.6h0M286.1 1626.9h0M298.3 1628.1h0M262.9 1717.7h0M259.6 1782.1h0M293.3 1659.4h0M231.3 1760.0h0M246.5 1818.6h0M317.2 1620.7h0M224.5 1771.8h0M255.4 1672.1h0M240.4 1701.9h0M318.4 1616.9h0M275.9 1656.4h0M266.6 1680.5h0M232.2 1765.0h0M253.1 1665.8h0M303.4 1624.3h0M274.1 1699.8h0M234.7 1777.8h0M250.2 1726.5h0M233.7 1820.4h0M257.9 1792.5h0M249.9 1674.2h0M255.2 1640.6h0M263.3 1683.7h0M253.0 1794.5h0M246.9 1797.0h0M234.7 1754.8h0M319.9 1616.3h0M270.7 1663.3h0M294.2 1612.2h0M285.2 1667.1h0M268.9 1622.3h0M306.8 1611.0h0M263.8 1673.1h0M248.3 1774.8h0M268.3 1650.4h0M270.2 1673.1h0M261.1 1694.3h0M266.1 1711.2h0M300.5 1610.9h0M249.5 1740.7h0M252.3 1817.2h0M259.8 1651.8h0M254.4 1740.3h0M239.8 1801.8h0M231.2 1808.8h0M300.7 1665.6h0M251.5 1802.4h0M223.4 1798.1h0M263.1 1694.6h0M281.6 1671.0h0M246.9 1660.6h0M257.1 1802.4h0M282.9 1689.2h0M236.3 1803.3h0M246.9 1666.7h0M250.5 1722.5h0M284.6 1629.2h0M284.1 1637.6h0M255.7 1733.3h0M254.9 1730.4h0M220.3 1807.3h0M223.6 1783.1h0M278.7 1633.8h0M227.9 1794.0h0M241.5 1730.2h0M255.5 1759.1h0M241.7 1787.8h0M295.6 1655.4h0M220.8 1793.9h0M246.0 1734.4h0M287.8 1697.8h0M229.8 1813.4h0M253.8 1804.8h0M222.8 1788.3h0M243.3 1692.0h0M230.5 1807.0h0M255.7 1762.7h0M229.1 1812.8h0M292.2 1667.1h0M278.3 1613.4h0M247.7 1722.1h0M282.2 1650.4h0M233.6 1804.5h0M238.7 1742.8h0M262.9 1720.8h0M273.9 1695.1h0M267.2 1749.2h0M241.2 1789.2h0M253.7 1691.2h0M249.8 1796.5h0M273.7 1647.4h0M225.6 1790.3h0M266.4 1661.3h0M236.0 1767.4h0M263.4 1665.6h0M242.3 1748.6h0M294.5 1632.0h0M240.6 1766.6h0M246.8 1703.2h0M277.6 1661.5h0M260.6 1756.8h0M251.5 1728.0h0M290.1 1665.1h0M272.6 1654.3h0M269.6 1623.3h0M250.8 1723.4h0M250.5 1803.9h0M277.8 1658.0h0M260.4 1746.5h0M257.3 1666.1h0M227.2 1790.3h0M286.5 1701.2h0M306.1 1646.3h0M238.8 1799.4h0M241.5 1771.8h0M286.3 1646.8h0M275.4 1722.0h0M250.9 1709.9h0M233.3 1733.3h0M233.5 1813.8h0M235.0 1790.4h0M221.2 1800.1h0M248.0 1780.7h0M234.2 1730.6h0M240.0 1808.9h0M282.2 1717.2h0M265.0 1630.4h0M265.7 1667.8h0M241.8 1754.5h0M290.9 1691.9h0M250.8 1701.7h0M262.5 1697.1h0M269.4 1649.8h0M316.6 1627.6h0M252.9 1679.5h0M229.9 1821.1h0M252.0 1711.1h0M242.6 1808.0h0M270.3 1720.9h0M253.9 1655.9h0M231.4 1824.3h0M305.9 1662.2h0M279.9 1659.2h0M234.5 1723.2h0M277.8 1711.6h0M312.2 1616.5h0M261.5 1641.0h0M232.0 1782.3h0M280.1 1714.5h0M265.1 1681.0h0M296.7 1655.5h0M275.0 1678.9h0M269.9 1707.2h0M269.5 1729.9h0M250.3 1713.2h0M318.2 1614.0h0M253.6 1666.6h0M284.5 1689.8h0M278.5 1625.9h0M259.2 1804.9h0M252.4 1677.2h0M284.2 1633.5h0M255.0 1741.4h0M280.8 1640.7h0M259.6 1666.5h0M232.5 1823.8h0M289.6 1636.9h0M251.2 1805.6h0M250.8 1790.1h0M232.5 1724.7h0M235.6 1824.1h0M251.6 1683.5h0M299.4 1634.5h0M283.2 1631.6h0M269.0 1674.4h0M230.2 1765.2h0M313.3 1623.7h0M282.1 1631.6h0M225.9 1768.6h0M240.9 1730.9h0M248.2 1773.3h0M283.1 1654.2h0M258.5 1703.6h0M274.6 1706.7h0M301.1 1668.1h0M250.8 1754.4h0M261.0 1730.4h0M256.0 1713.3h0M263.5 1742.8h0M285.4 1619.6h0M271.7 1712.1h0M250.0 1699.1h0M233.4 1794.2h0M251.6 1682.6h0M285.0 1654.6h0M274.3 1703.6h0M313.6 1618.9h0M233.5 1816.2h0M314.6 1623.2h0M273.1 1651.2h0M246.2 1662.0h0M288.3 1610.6h0M270.9 1653.5h0M274.5 1681.7h0M247.8 1727.7h0M254.0 1750.7h0M241.9 1759.7h0M251.2 1647.5h0M247.2 1796.2h0M261.3 1736.7h0M226.2 1756.4h0M295.0 1672.0h0M296.4 1619.4h0M312.1 1621.9h0M309.9 1658.0h0M258.1 1743.8h0M230.4 1789.9h0M297.6 1628.9h0M260.9 1746.6h0M279.7 1705.9h0M258.7 1640.4h0M254.8 1738.7h0M233.3 1821.4h0M317.8 1624.9h0M239.7 1722.4h0M283.8 1667.0h0M291.7 1667.5h0M298.2 1660.2h0M273.3 1706.9h0M225.2 1766.9h0M290.1 1683.0h0M245.1 1755.2h0M276.9 1706.9h0M238.2 1726.2h0M263.7 1628.0h0M278.3 1657.2h0M257.0 1665.2h0M238.6 1766.2h0M269.0 1733.0h0M264.0 1630.2h0M258.9 1708.2h0M249.9 1672.8h0M245.7 1743.1h0M266.9 1652.4h0M251.2 1696.6h0M309.4 1622.4h0M256.6 1658.4h0M258.2 1692.2h0M267.3 1732.5h0M289.4 1617.9h0M234.6 1744.0h0M291.0 1662.4h0M254.7 1732.4h0M274.2 1668.2h0M292.7 1675.8h0M241.3 1804.2h0M306.4 1650.4h0M254.2 1789.0h0M290.2 1619.5h0M228.8 1800.8h0M281.5 1655.4h0M267.6 1672.5h0M243.9 1783.9h0M297.5 1623.5h0M269.5 1709.2h0M258.8 1808.2h0M229.2 1794.7h0M277.8 1729.5h0M286.4 1618.2h0M247.8 1697.7h0M260.4 1779.2h0M260.9 1638.8h0M284.8 1626.2h0M269.0 1705.3h0M273.2 1719.2h0M227.7 1809.4h0M257.7 1737.5h0M231.0 1741.8h0M258.5 1689.6h0M232.4 1730.9h0M253.9 1643.5h0M249.3 1789.7h0M296.1 1615.9h0M258.6 1753.2h0M299.7 1673.4h0M251.1 1727.3h0M307.5 1616.4h0M313.1 1628.8h0M243.5 1772.5h0M286.5 1633.2h0M252.1 1713.8h0M262.1 1651.8h0M269.3 1633.9h0M244.9 1725.7h0M305.5 1626.7h0M307.9 1654.8h0M299.7 1615.6h0M294.4 1663.8h0M251.7 1738.0h0M291.8 1689.6h0M275.2 1631.6h0M255.9 1734.9h0M254.8 1769.4h0M236.4 1765.1h0M272.4 1716.7h0M259.3 1675.6h0M229.7 1768.3h0M267.0 1740.5h0M257.6 1737.7h0M273.9 1622.5h0M240.6 1740.8h0M252.7 1660.8h0M252.5 1693.9h0M244.3 1750.0h0M289.0 1633.6h0M240.9 1702.7h0M257.2 1706.3h0M263.4 1712.4h0M296.9 1644.0h0M279.0 1626.5h0M236.9 1707.2h0M240.1 1695.9h0M230.7 1782.1h0M289.6 1682.7h0M296.3 1616.0h0M247.3 1693.2h0M272.1 1725.0h0M244.9 1667.9h0M230.8 1740.4h0M240.7 1819.9h0M246.3 1743.1h0M294.6 1657.8h0M253.6 1731.0h0M261.6 1684.0h0M267.0 1631.7h0M251.2 1766.9h0M249.4 1811.4h0M292.2 1663.5h0M252.9 1794.9h0M251.6 1702.0h0M257.1 1659.2h0M257.8 1776.9h0M256.3 1715.6h0M234.5 1811.3h0M286.6 1611.1h0M227.2 1816.4h0M304.9 1618.7h0M290.5 1628.7h0M226.9 1807.2h0M262.8 1692.8h0M268.1 1704.2h0M239.9 1771.3h0M269.7 1728.5h0M296.6 1675.6h0M245.1 1666.3h0M240.2 1804.2h0M241.2 1688.0h0M264.2 1629.6h0M254.2 1748.4h0M258.6 1727.7h0M307.2 1619.5h0M230.9 1744.1h0M248.4 1720.0h0M254.2 1721.0h0M251.8 1770.8h0M311.6 1616.9h0M305.2 1614.9h0M309.9 1625.5h0M248.0 1705.2h0M271.3 1625.8h0M255.7 1803.7h0M285.0 1686.8h0M286.2 1660.5h0M265.2 1751.8h0M245.9 1697.2h0M247.3 1678.9h0M261.1 1626.8h0M299.5 1617.4h0M255.1 1679.4h0M241.9 1730.0h0M314.7 1614.9h0M249.3 1794.8h0M314.2 1637.0h0M254.2 1790.4h0M307.7 1651.3h0M243.0 1793.6h0M300.3 1675.6h0M243.8 1676.5h0M241.8 1682.9h0M245.9 1816.3h0M234.5 1810.8h0M264.9 1645.9h0M287.0 1638.0h0M232.3 1752.3h0M248.7 1770.0h0M239.7 1774.4h0M259.7 1695.4h0M260.3 1745.1h0M252.1 1800.6h0M272.2 1658.7h0M248.6 1656.8h0M245.6 1818.2h0M266.5 1742.3h0M301.7 1663.7h0M290.0 1659.5h0M237.5 1765.3h0M224.3 1778.3h0M264.8 1656.4h0M286.0 1699.4h0M233.9 1759.6h0M258.3 1689.7h0M238.8 1749.8h0M245.2 1702.3h0M290.1 1650.5h0M237.1 1797.6h0M239.1 1743.9h0M251.1 1792.0h0M288.3 1630.8h0M266.9 1686.5h0M254.7 1810.9h0M270.5 1645.4h0M247.1 1794.7h0M302.5 1668.4h0M269.7 1714.5h0M241.4 1814.7h0M271.6 1731.3h0M252.0 1757.5h0M271.1 1666.8h0M256.8 1733.3h0M250.6 1718.1h0M296.6 1644.4h0M298.3 1641.3h0M246.3 1668.0h0M277.6 1619.9h0M251.4 1703.6h0M283.0 1670.3h0M306.2 1607.1h0M284.8 1666.8h0M264.1 1690.0h0M272.2 1674.0h0M254.1 1653.8h0M267.8 1665.4h0M265.4 1691.5h0M261.9 1683.2h0M243.2 1709.0h0M264.8 1655.7h0M230.1 1803.8h0M253.0 1787.6h0M258.5 1771.0h0M255.5 1657.6h0M234.3 1817.9h0M280.5 1634.6h0M254.3 1807.7h0M307.6 1644.6h0M241.9 1821.3h0M304.5 1632.4h0M281.3 1708.5h0M239.8 1781.7h0M244.7 1756.6h0M266.6 1644.3h0M239.3 1780.4h0M230.3 1799.7h0M275.1 1650.7h0M258.6 1704.8h0M310.8 1642.4h0M259.3 1796.1h0M273.5 1661.2h0M260.2 1701.0h0M298.2 1620.1h0M287.2 1661.3h0M222.6 1788.5h0M269.5 1713.8h0M259.9 1778.9h0M275.1 1716.3h0M274.7 1622.3h0M229.9 1747.7h0M275.8 1623.0h0M312.2 1629.0h0" stroke="#40e0d0" stroke-width="4.8" stroke-linecap="round" fill="none"/>
<path d="M326.3 1628.1h0M330.5 1624.5h0M336.0 1626.1h0M337.8 1630.3h0M333.8 1621.5h0M329.9 1618.7h0M331.6 1622.1h0" stroke="#ff0000" stroke-width="3.6" stroke-linecap="round" fill="none"/>
<path d="M326.6 1641.1h0M337.9 1650.1h0M342.5 1650.8h0M323.7 1653.0h0M341.6 1650.7h0M334.0 1643.9h0M317.4 1656.1h0M326.5 1645.7h0M325.2 1658.5h0M328.7 1656.0h0M336.9 1657.2h0M322.9 1662.0h0M332.5 1660.3h0M332.9 1644.5h0M331.4 1652.0h0M326.8 1653.0h0M331.3 1646.0h0M326.8 1648.7h0M340.4 1652.9h0M338.9 1657.0h0M335.4 1647.7h0M334.6 1657.3h0M323.9 1654.5h0M328.2 1640.9h0M328.5 1653.1h0M335.1 1647.9h0M327.6 1656.9h0" stroke="#00ee00" stroke-width="4.8" stroke-linecap="round" fill="none"/>
<path d="M458.0 1614.0L454.6 1661.1M458.0 1614.0L482.6 1631.3M470.0 1591.0L456.1 1632.7M470.0 1591.0L498.7 1636.8M458.0 1614.0L464.8 1634.5M458.0 1614.0L474.6 1588.0M458.0 1614.0L506.0 1640.1M470.0 1591.0L457.4 1597.3M458.0 1614.0L453.8 1635.4M458.0 1614.0L472.9 1648.5M470.0 1591.0L475.7 1639.0M470.0 1591.0L454.4 1638.1M458.0 1614.0L472.1 1590.7M470.0 1591.0L484.3 1639.2M458.0 1614.0L470.1 1599.2M470.0 1591.0L466.8 1611.3M458.0 1614.0L496.7 1643.6M470.0 1591.0L482.3 1623.8M470.0 1591.0L457.2 1635.0M458.0 1614.0L487.6 1636.3M470.0 1591.0L449.3 1602.1M458.0 1614.0L482.3 1628.5M458.0 1614.0L464.9 1608.3M470.0 1591.0L446.6 1606.3M470.0 1591.0L431.8 1620.6M458.0 1614.0L472.5 1630.9M470.0 1591.0L474.6 1598.9M458.0 1614.0L491.1 1646.9M458.0 1614.0L464.5 1629.4M470.0 1591.0L471.4 1623.8M458.0 1614.0L473.2 1632.4M470.0 1591.0L462.0 1632.5M470.0 1591.0L468.8 1662.7M458.0 1614.0L462.2 1629.6M458.0 1614.0L469.8 1607.3M470.0 1591.0L483.7 1638.6M458.0 1614.0L475.3 1629.1M458.0 1614.0L451.3 1616.5M470.0 1591.0L505.7 1636.4M458.0 1614.0L465.1 1623.0" stroke="#e0c000" stroke-width="0.6" stroke-opacity="0.35" fill="none"/>
<path d="M482.6 1635.0h0M472.7 1628.9h0M470.1 1584.8h0M456.5 1660.3h0M483.7 1638.6h0M498.7 1636.8h0M440.7 1627.9h0M489.9 1642.4h0M482.6 1637.6h0M468.0 1593.2h0M462.0 1648.4h0M441.5 1617.1h0M448.5 1633.8h0M446.9 1646.6h0M472.1 1590.7h0M473.5 1605.6h0M470.1 1599.2h0M507.2 1638.1h0M472.6 1625.8h0M446.8 1647.3h0M482.6 1631.3h0M456.4 1601.1h0M473.5 1646.1h0M453.1 1658.6h0M469.5 1643.5h0M454.4 1638.1h0M460.9 1643.5h0M448.5 1614.7h0M449.3 1624.8h0M484.3 1639.2h0M472.4 1625.8h0M495.3 1644.8h0M490.4 1631.9h0M471.1 1605.2h0M456.1 1632.7h0M486.6 1626.9h0M492.3 1641.2h0M462.0 1629.9h0M457.2 1600.7h0M441.7 1617.7h0M452.3 1643.6h0M463.5 1614.4h0M466.9 1591.2h0M459.1 1642.8h0M462.0 1632.5h0M459.2 1595.9h0M456.5 1633.2h0M465.1 1623.0h0M448.5 1630.2h0M483.5 1629.1h0M455.7 1657.4h0M492.7 1633.5h0M466.8 1611.3h0M471.7 1595.9h0M499.3 1645.8h0M462.2 1629.6h0M446.8 1643.9h0M475.2 1592.1h0M471.4 1623.8h0M441.0 1608.3h0M466.5 1629.8h0M460.9 1663.9h0M469.8 1607.3h0M464.1 1621.5h0M455.8 1614.3h0M446.2 1617.0h0M475.3 1629.1h0M470.5 1598.1h0M461.4 1604.6h0M487.7 1639.3h0M431.9 1614.3h0M467.3 1647.2h0M448.4 1640.6h0M466.4 1633.8h0M427.3 1616.1h0M486.7 1628.0h0M461.3 1603.5h0M487.6 1636.3h0M464.9 1608.3h0M462.5 1662.1h0M472.2 1602.7h0M460.4 1602.8h0M467.6 1589.5h0M447.1 1650.6h0M479.4 1636.1h0M457.8 1642.7h0M470.3 1636.5h0M464.2 1609.6h0M472.9 1648.5h0M442.9 1640.1h0M461.9 1601.1h0M483.4 1638.2h0M478.7 1644.2h0M496.0 1636.4h0M469.1 1649.7h0M471.4 1622.2h0M439.5 1620.0h0M487.1 1636.2h0M462.8 1658.2h0M477.5 1649.2h0M490.3 1629.4h0M449.4 1612.2h0M490.2 1630.8h0M474.6 1588.0h0M474.1 1587.1h0M457.2 1635.0h0M457.5 1651.7h0M444.5 1637.2h0M472.7 1625.4h0M457.9 1624.0h0M472.8 1589.2h0M496.2 1631.7h0M480.7 1638.9h0M481.0 1626.3h0M478.9 1620.8h0M460.7 1628.6h0M454.3 1648.5h0M500.3 1632.8h0M487.9 1631.8h0M472.1 1637.9h0M489.4 1645.7h0M452.2 1607.5h0M441.3 1624.4h0M459.9 1645.3h0M475.7 1639.0h0M437.2 1613.6h0M449.9 1640.0h0M461.8 1599.1h0M475.7 1589.8h0M470.6 1606.0h0M454.2 1629.2h0M454.6 1661.1h0M464.1 1597.7h0M467.7 1643.8h0M498.0 1642.9h0M443.7 1643.5h0M479.5 1622.5h0M456.4 1620.4h0M445.3 1631.2h0M450.6 1638.1h0M470.2 1601.9h0M458.4 1600.2h0M449.5 1620.0h0M436.6 1638.9h0M427.3 1614.8h0M468.5 1621.8h0M468.1 1619.3h0M465.6 1601.9h0M473.2 1632.4h0M473.1 1597.7h0M429.0 1617.7h0M449.6 1615.7h0M451.3 1628.4h0M455.8 1616.5h0M452.2 1614.9h0M466.1 1653.2h0M442.6 1638.0h0M442.3 1604.6h0M473.6 1625.0h0M449.8 1627.5h0M469.6 1648.4h0M459.6 1662.8h0M438.0 1620.9h0M466.2 1640.3h0M457.0 1652.5h0M453.9 1619.8h0M468.8 1662.7h0M457.5 1645.6h0M467.9 1654.0h0M431.8 1620.6h0M461.6 1637.9h0M469.5 1605.2h0M464.8 1634.5h0M445.0 1608.2h0M496.7 1643.6h0M467.7 1644.0h0M505.7 1636.4h0M506.0 1640.1h0M472.5 1630.9h0M448.7 1618.9h0M482.8 1629.5h0M472.6 1639.7h0M439.9 1624.0h0M464.5 1629.4h0M482.4 1637.1h0M445.6 1618.1h0M432.9 1619.6h0M465.0 1656.2h0M441.6 1621.2h0M453.0 1618.4h0M474.6 1598.9h0M450.8 1624.2h0M473.6 1617.5h0M451.2 1643.4h0M450.3 1619.7h0M500.9 1638.4h0M483.7 1643.8h0M482.3 1628.5h0M482.3 1623.8h0M456.8 1636.5h0M485.3 1630.5h0M443.9 1639.6h0M453.8 1651.7h0M457.4 1597.3h0M458.9 1649.6h0M447.6 1648.8h0M470.3 1648.1h0M436.1 1632.6h0M467.2 1624.3h0M457.1 1634.9h0M453.7 1597.8h0M453.8 1635.4h0M491.1 1646.9h0M433.7 1617.6h0M451.3 1616.5h0M481.0 1623.6h0M446.6 1606.3h0M456.1 1657.0h0M449.3 1602.1h0M446.7 1635.6h0M450.9 1624.6h0M481.4 1631.9h0M457.9 1633.0h0M451.2 1645.2h0M444.1 1608.2h0M501.2 1643.5h0M453.0 1621.6h0M456.0 1605.3h0M491.4 1632.5h0M450.0 1642.8h0" stroke="#ffff00" stroke-width="4.8" stroke-linecap="round" fill="none"/>
<path d="M410.7 1607.4h0M414.2 1614.6h0M408.6 1608.4h0M421.6 1606.5h0M424.5 1603.8h0M426.7 1602.8h0M415.5 1604.7h0M413.4 1604.2h0M399.8 1611.6h0M426.7 1607.7h0M416.4 1603.3h0M422.5 1606.7h0M405.0 1610.6h0M402.5 1612.0h0M410.2 1606.3h0M394.4 1615.6h0M403.9 1615.8h0M414.9 1600.8h0M413.4 1622.6h0M408.0 1619.4h0M397.3 1602.9h0M406.6 1605.8h0M407.9 1601.6h0M404.1 1607.3h0M420.3 1607.1h0M409.2 1599.5h0M424.8 1620.0h0M405.0 1620.6h0M398.0 1603.1h0M405.4 1612.3h0M423.5 1620.6h0M405.6 1607.8h0M421.7 1611.2h0M417.3 1604.3h0M402.0 1610.2h0M399.7 1606.1h0M408.7 1602.1h0M417.3 1598.9h0M403.3 1621.4h0M426.4 1602.5h0M420.5 1616.4h0M399.0 1606.5h0M396.4 1606.8h0M425.2 1603.1h0M407.1 1599.7h0M394.4 1603.6h0M406.4 1609.9h0M426.9 1600.3h0M394.1 1616.5h0M411.4 1618.8h0M424.5 1603.5h0M415.2 1601.4h0M420.0 1613.4h0M412.9 1608.5h0M410.9 1600.2h0M413.0 1610.8h0M407.5 1620.9h0M412.8 1600.4h0M424.2 1614.6h0M405.2 1602.4h0M408.4 1611.3h0M408.3 1606.9h0M423.3 1605.2h0M408.4 1613.0h0M419.3 1609.5h0M406.7 1616.0h0M422.9 1602.8h0M405.8 1603.1h0M398.1 1614.7h0M408.4 1601.5h0M405.7 1604.8h0M404.9 1611.0h0M422.0 1617.7h0" stroke="#ff0000" stroke-width="4.8" stroke-linecap="round" fill="none"/>
<path d="M448.3 1624.0h0M440.2 1609.5h0M455.6 1600.0h0M449.2 1619.7h0M452.3 1608.1h0M449.9 1622.2h0M446.1 1614.1h0M442.2 1613.8h0M441.8 1612.4h0M450.0 1604.3h0M450.4 1613.1h0M455.5 1610.5h0M453.1 1598.9h0M443.6 1618.0h0M450.6 1608.4h0M457.1 1616.0h0M457.2 1605.6h0M449.5 1609.9h0M448.1 1612.1h0" stroke="#ff0000" stroke-width="4.8" stroke-linecap="round" fill="none"/>
<path d="M481.0 1766.0L482.2 1646.8M493.0 1706.0L483.3 1776.2M493.0 1706.0L491.7 1739.0M481.0 1766.0L477.6 1687.8M493.0 1706.0L471.2 1647.2M493.0 1706.0L500.9 1702.1M493.0 1706.0L481.6 1666.2M481.0 1766.0L464.1 1657.1M481.0 1766.0L499.5 1749.3M493.0 1706.0L460.4 1752.1M481.0 1766.0L471.6 1771.5M481.0 1766.0L506.3 1711.4M493.0 1706.0L486.1 1726.6M493.0 1706.0L487.2 1631.7M481.0 1766.0L506.0 1692.6M481.0 1766.0L463.8 1729.8M493.0 1706.0L470.0 1701.3M481.0 1766.0L471.6 1771.5M481.0 1766.0L487.9 1647.2M481.0 1766.0L468.7 1692.5M481.0 1766.0L465.7 1746.8M493.0 1706.0L472.7 1681.4M493.0 1706.0L471.2 1647.2M481.0 1766.0L473.9 1725.2M493.0 1706.0L501.3 1692.9M481.0 1766.0L512.5 1646.2M493.0 1706.0L480.8 1691.5M481.0 1766.0L459.5 1765.7M481.0 1766.0L488.3 1741.9M481.0 1766.0L486.0 1688.0M481.0 1766.0L465.3 1687.5M493.0 1706.0L479.9 1734.3M493.0 1706.0L488.1 1671.8M481.0 1766.0L510.7 1695.0M493.0 1706.0L466.4 1717.9M493.0 1706.0L471.6 1762.3M493.0 1706.0L491.5 1650.9M481.0 1766.0L509.5 1657.2M493.0 1706.0L506.8 1703.6M493.0 1706.0L490.0 1690.3M493.0 1706.0L484.3 1761.8M493.0 1706.0L473.0 1739.2M493.0 1706.0L471.4 1770.2M493.0 1706.0L461.8 1749.1M493.0 1706.0L493.1 1640.4M481.0 1766.0L479.0 1763.8M481.0 1766.0L488.7 1642.5M493.0 1706.0L483.8 1749.8M493.0 1706.0L465.7 1701.5M493.0 1706.0L479.6 1778.4M493.0 1706.0L508.7 1680.5M493.0 1706.0L487.2 1702.0M481.0 1766.0L480.9 1703.7M493.0 1706.0L477.2 1703.6M493.0 1706.0L486.5 1667.5M493.0 1706.0L491.5 1650.9M493.0 1706.0L494.9 1661.9M493.0 1706.0L502.8 1695.6M493.0 1706.0L512.5 1646.2M493.0 1706.0L485.3 1778.9" stroke="#0000ff" stroke-width="0.6" stroke-opacity="0.3" fill="none"/>
<path d="M466.4 1717.9h0M498.7 1645.2h0M509.1 1636.5h0M501.9 1648.0h0M495.1 1641.7h0M510.7 1650.2h0M468.4 1689.8h0M499.7 1735.0h0M466.1 1670.5h0M483.3 1776.2h0M475.9 1776.6h0M493.8 1692.0h0M494.1 1723.7h0M465.7 1701.5h0M498.5 1732.6h0M476.3 1735.4h0M468.2 1685.1h0M501.3 1724.6h0M501.7 1690.3h0M492.2 1668.1h0M469.4 1743.9h0M508.2 1679.9h0M492.2 1680.9h0M495.5 1678.3h0M469.1 1755.5h0M485.1 1690.3h0M474.4 1720.3h0M513.1 1648.5h0M504.3 1636.3h0M487.6 1770.5h0M491.2 1705.9h0M489.2 1713.7h0M490.7 1658.0h0M511.9 1690.9h0M505.4 1692.0h0M511.4 1687.0h0M465.0 1744.3h0M472.1 1763.0h0M508.6 1660.6h0M503.0 1656.0h0M478.0 1737.2h0M490.5 1747.4h0M483.8 1755.5h0M488.9 1683.1h0M487.8 1688.6h0M485.1 1738.7h0M483.3 1711.5h0M475.9 1769.4h0M472.6 1721.9h0M472.6 1772.3h0M482.2 1760.4h0M469.5 1704.9h0M498.9 1691.5h0M501.2 1726.0h0M505.5 1734.4h0M505.2 1715.4h0M506.7 1646.8h0M499.5 1749.3h0M471.0 1709.1h0M485.3 1778.9h0M482.0 1774.2h0M488.1 1671.8h0M471.3 1741.4h0M513.3 1661.2h0M504.6 1737.7h0M498.6 1685.6h0M504.2 1740.1h0M483.3 1726.2h0M470.5 1739.0h0M484.8 1782.1h0M488.7 1685.8h0M481.6 1666.2h0M474.5 1758.9h0M496.0 1653.2h0M509.6 1717.9h0M471.5 1778.5h0M476.1 1787.3h0M487.2 1702.0h0M476.8 1675.9h0M465.2 1652.1h0M480.5 1719.3h0M513.2 1690.4h0M486.9 1676.4h0M482.3 1641.7h0M484.3 1758.7h0M470.9 1763.0h0M465.8 1743.5h0M496.8 1692.7h0M477.3 1746.7h0M467.2 1727.5h0M466.7 1720.1h0M471.6 1765.9h0M475.9 1775.1h0M471.2 1656.0h0M480.5 1652.4h0M470.0 1701.3h0M486.2 1708.2h0M508.2 1703.5h0M474.4 1644.7h0M471.4 1770.2h0M462.5 1716.6h0M465.1 1751.7h0M502.3 1684.1h0M494.2 1648.7h0M474.7 1688.6h0M464.1 1699.2h0M508.9 1692.9h0M490.3 1755.2h0M491.5 1650.9h0M490.0 1690.3h0M490.7 1633.5h0M460.4 1752.1h0M492.5 1678.7h0M473.0 1749.8h0M494.1 1655.4h0M492.4 1767.9h0M506.0 1639.5h0M476.7 1783.6h0M468.4 1711.7h0M474.7 1734.8h0M495.1 1711.0h0M507.3 1713.4h0M483.1 1747.9h0M480.3 1672.9h0M507.5 1696.7h0M507.9 1650.9h0M479.5 1709.9h0M458.8 1764.3h0M498.8 1654.2h0M488.2 1678.4h0M511.9 1661.9h0M486.0 1688.0h0M471.1 1738.7h0M479.6 1778.4h0M495.4 1644.5h0M509.5 1676.2h0M487.9 1691.5h0M483.3 1758.4h0M487.2 1631.7h0M477.5 1672.8h0M458.8 1765.7h0M479.0 1763.8h0M506.0 1728.9h0M497.1 1636.6h0M504.8 1697.9h0M504.7 1729.9h0M504.5 1672.9h0M491.7 1739.0h0M495.8 1636.7h0M463.7 1757.8h0M488.0 1740.6h0M478.8 1719.4h0M472.7 1681.4h0M469.7 1757.7h0M478.1 1722.9h0M493.2 1749.3h0M474.7 1710.0h0M502.0 1731.2h0M512.4 1656.3h0M509.3 1696.1h0M500.3 1735.6h0M502.8 1700.1h0M490.3 1686.7h0M488.3 1646.3h0M496.3 1748.3h0M466.6 1692.6h0M483.8 1749.8h0M462.5 1751.1h0M485.6 1729.2h0M463.2 1758.9h0M490.6 1643.1h0M501.2 1643.7h0M504.2 1700.6h0M497.6 1750.1h0M482.2 1646.8h0M461.8 1749.1h0M477.7 1698.3h0M509.5 1657.2h0M466.9 1729.3h0M512.6 1669.7h0M500.9 1655.9h0M487.2 1640.1h0M474.2 1765.4h0M511.2 1659.0h0M474.3 1641.8h0M475.4 1662.6h0M489.9 1700.3h0M463.8 1729.8h0M483.0 1642.0h0M463.5 1653.2h0M482.8 1633.1h0M510.5 1693.2h0M481.2 1664.5h0M463.3 1696.2h0M465.3 1687.5h0M462.3 1751.4h0M480.1 1719.7h0M498.1 1672.5h0M466.3 1780.8h0M497.2 1734.9h0M489.5 1730.6h0M497.4 1751.6h0M503.1 1657.2h0M484.4 1671.5h0M470.4 1737.8h0M485.7 1772.5h0M511.9 1698.6h0M459.6 1758.9h0M479.2 1712.4h0M487.3 1696.2h0M484.4 1709.3h0M475.7 1649.7h0M493.1 1640.4h0M479.6 1781.6h0M479.9 1734.3h0M491.4 1724.2h0M484.3 1686.9h0M495.5 1736.4h0M465.4 1748.0h0M479.6 1784.3h0M507.9 1676.0h0M479.0 1754.2h0M477.2 1703.6h0M505.0 1657.6h0M490.0 1742.6h0M489.8 1753.7h0M489.9 1747.7h0M501.9 1736.8h0M479.5 1778.1h0M475.0 1671.5h0M507.0 1673.8h0M498.3 1736.3h0M494.0 1732.8h0M498.8 1720.2h0M485.4 1668.3h0M471.2 1759.5h0M506.6 1666.9h0M489.3 1673.1h0M462.3 1739.8h0M502.2 1736.8h0M490.0 1700.7h0M489.7 1764.8h0M504.8 1705.0h0M498.5 1677.4h0M488.3 1741.9h0M506.1 1687.6h0M505.2 1655.3h0M486.8 1700.6h0M487.0 1760.4h0M486.4 1711.3h0M478.5 1767.8h0M465.3 1670.7h0M502.4 1648.3h0M491.3 1640.4h0M508.7 1680.5h0M476.0 1772.0h0M479.7 1659.8h0M486.8 1763.3h0M502.4 1658.7h0M486.5 1667.5h0M487.0 1749.5h0M512.8 1682.1h0M499.4 1727.6h0M473.5 1682.5h0M468.0 1748.7h0M496.4 1665.2h0M486.1 1726.6h0M491.7 1655.0h0M480.8 1720.6h0M473.7 1689.6h0M488.1 1636.5h0M481.8 1670.5h0M472.2 1755.1h0M486.8 1676.9h0M495.9 1750.8h0M477.5 1661.8h0M473.9 1725.2h0M507.8 1687.9h0M495.3 1715.0h0M473.8 1689.4h0M464.6 1724.8h0M478.6 1748.3h0M505.9 1698.4h0M492.1 1762.5h0M510.5 1690.1h0M476.0 1746.3h0M473.5 1647.2h0M496.9 1636.5h0M478.1 1634.7h0M468.5 1777.4h0M495.5 1732.3h0M488.7 1642.5h0M494.1 1728.9h0M494.0 1752.7h0M494.9 1708.7h0M502.8 1743.7h0M475.6 1704.5h0M507.1 1645.4h0M482.1 1768.2h0M494.9 1661.9h0M476.0 1649.7h0M493.9 1684.8h0M477.9 1693.8h0M485.5 1660.9h0M489.0 1655.2h0M498.4 1701.8h0M496.0 1708.3h0M469.3 1646.1h0M503.4 1650.4h0M469.2 1648.2h0M459.5 1765.7h0M474.8 1759.1h0M490.2 1710.6h0M474.1 1692.4h0M482.0 1723.4h0M466.6 1728.3h0M509.3 1695.7h0M486.8 1754.3h0M509.9 1641.7h0M506.3 1667.4h0M495.5 1747.8h0M466.4 1721.7h0M464.7 1650.8h0M477.6 1635.1h0M467.7 1693.2h0M463.6 1761.7h0M471.2 1665.2h0M478.0 1773.9h0M494.3 1654.0h0M473.4 1693.0h0M485.2 1736.9h0M510.9 1683.5h0M487.8 1698.8h0M468.1 1775.0h0M502.3 1704.5h0M504.6 1686.3h0M479.7 1723.6h0M477.3 1783.4h0M485.2 1711.0h0M461.6 1756.6h0M472.0 1750.1h0M480.5 1704.2h0M509.7 1696.6h0M490.9 1703.2h0M504.6 1648.1h0M507.2 1642.8h0M474.3 1649.9h0M505.9 1642.1h0M501.3 1692.9h0M489.6 1652.8h0M479.8 1786.9h0M485.6 1694.5h0M463.0 1735.6h0M476.8 1744.5h0M469.2 1668.4h0M504.4 1680.2h0M499.8 1730.0h0M489.7 1729.8h0M480.8 1691.5h0M469.7 1683.6h0M504.6 1640.9h0M499.0 1723.8h0M466.8 1715.2h0M487.9 1647.2h0M510.7 1695.0h0M470.1 1735.7h0M473.9 1672.3h0M486.4 1684.2h0M497.7 1747.5h0M483.6 1659.5h0M479.3 1684.3h0M482.6 1710.0h0M462.8 1759.2h0M502.8 1695.6h0M467.4 1776.0h0M478.9 1664.4h0M492.5 1734.6h0M494.9 1690.0h0M463.4 1771.8h0M493.7 1726.2h0M492.1 1732.5h0M486.7 1670.3h0M481.1 1770.9h0M488.1 1639.6h0M476.6 1720.5h0M483.9 1722.9h0M464.1 1657.1h0M478.8 1738.0h0M476.2 1749.6h0M512.4 1656.1h0M463.4 1756.3h0M495.5 1731.2h0M491.9 1676.7h0M495.5 1736.1h0M503.7 1741.2h0M500.3 1740.9h0M473.5 1773.0h0M489.9 1646.2h0M481.0 1706.9h0M472.3 1775.2h0M467.5 1665.0h0M498.9 1701.0h0M504.3 1648.2h0M485.1 1700.6h0M494.2 1712.9h0M480.6 1788.5h0M480.9 1703.7h0M485.5 1642.3h0M476.3 1770.1h0M479.1 1739.9h0M485.5 1720.0h0M459.8 1772.9h0M492.0 1734.0h0M490.7 1674.4h0M469.9 1746.7h0M477.6 1687.8h0M491.6 1765.5h0M471.6 1762.3h0M476.4 1775.6h0M471.2 1647.2h0M485.2 1747.8h0M494.7 1679.4h0M469.5 1767.5h0M474.4 1647.4h0M483.4 1770.5h0M477.7 1712.3h0M486.8 1727.6h0M482.9 1773.9h0M490.5 1766.6h0M494.4 1694.5h0M460.2 1770.0h0M477.9 1648.5h0M491.8 1738.9h0M465.7 1746.8h0M512.8 1665.3h0M466.9 1740.9h0M486.7 1671.2h0M483.5 1654.9h0M478.9 1701.8h0M500.9 1702.1h0M466.6 1691.0h0M476.8 1775.9h0M481.2 1659.7h0M466.8 1782.0h0M482.6 1782.7h0M468.7 1701.8h0M471.8 1726.6h0M466.0 1681.9h0M465.9 1661.8h0M491.6 1709.1h0M473.0 1739.2h0M492.1 1641.4h0M492.7 1733.6h0M466.7 1744.7h0M491.8 1661.7h0M499.4 1647.5h0M504.4 1650.6h0M474.9 1681.3h0M501.9 1644.6h0M464.3 1730.6h0M478.1 1764.1h0M479.9 1746.2h0M497.6 1708.1h0M492.7 1672.2h0M472.5 1664.3h0M500.1 1743.7h0M469.7 1753.5h0M474.1 1689.5h0M495.9 1692.3h0M511.1 1654.7h0M462.0 1749.2h0M480.2 1672.8h0M478.9 1776.2h0M473.6 1680.3h0M487.9 1757.6h0M487.2 1687.1h0M504.0 1662.9h0M499.3 1662.0h0M467.2 1675.1h0M468.1 1648.0h0M455.9 1769.0h0M471.6 1771.5h0M478.5 1757.3h0M464.7 1765.0h0M475.9 1730.9h0M470.5 1662.4h0M480.1 1677.0h0M466.0 1691.7h0M502.2 1691.8h0M470.7 1727.2h0M512.5 1646.2h0M480.1 1750.3h0M503.6 1661.3h0M490.1 1638.0h0M510.8 1648.0h0M511.6 1651.8h0M481.3 1753.9h0M476.5 1721.3h0M471.6 1678.2h0M490.4 1755.5h0M499.4 1731.4h0M474.6 1659.3h0M477.3 1741.3h0M506.0 1692.6h0M485.6 1714.6h0M469.3 1668.1h0M485.8 1723.6h0M484.7 1651.2h0M469.1 1762.0h0M486.1 1709.2h0M482.3 1786.9h0M463.5 1722.3h0M469.8 1733.4h0M481.7 1742.3h0M510.7 1667.2h0M480.3 1748.1h0M502.8 1723.0h0M475.4 1707.9h0M497.0 1635.6h0M508.4 1680.1h0M485.2 1741.2h0M468.4 1725.9h0M491.3 1684.2h0M466.2 1654.3h0M492.3 1631.5h0M502.1 1651.7h0M491.4 1656.9h0M506.3 1711.4h0M478.4 1688.0h0M482.4 1777.8h0M508.2 1680.1h0M468.7 1692.5h0M508.3 1686.2h0M490.3 1759.6h0M506.9 1665.1h0M503.5 1654.7h0M498.8 1747.5h0M506.8 1703.6h0M466.1 1765.1h0M502.1 1709.4h0M493.4 1635.3h0M478.6 1724.3h0M478.5 1659.7h0M473.9 1642.2h0M484.2 1645.3h0M485.7 1655.5h0M465.2 1729.1h0M487.3 1676.5h0M466.7 1695.6h0M470.5 1670.5h0M463.9 1677.5h0M508.0 1669.4h0M472.9 1679.7h0M494.7 1677.0h0M501.8 1645.9h0M480.6 1706.7h0M484.3 1761.8h0M510.2 1643.4h0M486.0 1693.4h0M499.7 1709.5h0M475.7 1781.7h0M483.9 1777.5h0M496.8 1702.5h0M465.3 1747.7h0M470.9 1703.2h0M468.8 1780.8h0M499.0 1661.2h0M479.5 1786.5h0M503.9 1728.0h0M497.1 1671.6h0M469.2 1700.6h0M474.9 1664.2h0M477.3 1759.1h0M467.5 1682.3h0M483.6 1652.0h0M487.0 1684.4h0M499.9 1700.8h0" stroke="#0000ff" stroke-width="4.8" stroke-linecap="round" fill="none"/>
<path d="M492.7 1639.0h0M492.0 1633.0h0M502.6 1633.1h0M494.0 1630.5h0M496.4 1637.1h0M504.1 1641.2h0M494.0 1639.2h0M502.9 1634.5h0M495.2 1630.9h0M494.5 1637.9h0M502.0 1635.2h0M500.6 1638.8h0M504.5 1638.5h0M509.0 1642.1h0M490.5 1638.1h0" stroke="#ffff00" stroke-width="4.8" stroke-linecap="round" fill="none"/>
<path d="M419.0 1772.0L435.5 1805.9M468.0 1809.0L465.9 1781.2M419.0 1772.0L453.1 1826.2M419.0 1772.0L462.7 1855.0M419.0 1772.0L457.6 1763.9M468.0 1809.0L422.4 1798.3M419.0 1772.0L404.7 1779.0M419.0 1772.0L471.6 1789.7M419.0 1772.0L432.5 1801.8M468.0 1809.0L476.2 1763.2M468.0 1809.0L454.4 1830.9M419.0 1772.0L458.9 1792.1M419.0 1772.0L433.3 1807.2M468.0 1809.0L455.0 1776.0M468.0 1809.0L426.2 1796.3M419.0 1772.0L444.8 1763.3M468.0 1809.0L461.2 1802.4M419.0 1772.0L427.8 1772.3M468.0 1809.0L403.5 1761.1M419.0 1772.0L451.0 1856.9M419.0 1772.0L491.4 1765.8M419.0 1772.0L450.9 1787.4M468.0 1809.0L467.6 1826.3M468.0 1809.0L422.4 1798.3M468.0 1809.0L450.9 1754.3M468.0 1809.0L412.6 1771.0M468.0 1809.0L464.5 1797.0M419.0 1772.0L458.9 1846.2M419.0 1772.0L415.2 1797.4M468.0 1809.0L401.3 1759.3M468.0 1809.0L458.5 1832.8M419.0 1772.0L474.2 1809.2M419.0 1772.0L462.0 1843.4M419.0 1772.0L473.8 1801.0M419.0 1772.0L443.1 1816.3M468.0 1809.0L445.3 1751.9M419.0 1772.0L420.5 1804.2M468.0 1809.0L478.2 1773.1M468.0 1809.0L429.6 1801.8M468.0 1809.0L413.7 1791.7M419.0 1772.0L457.0 1761.9M468.0 1809.0L470.4 1853.2M468.0 1809.0L407.6 1755.5M468.0 1809.0L461.6 1789.7M419.0 1772.0L444.4 1774.0M468.0 1809.0L413.7 1791.7M419.0 1772.0L473.1 1807.4M419.0 1772.0L472.6 1814.9M468.0 1809.0L460.0 1798.0M419.0 1772.0L474.2 1809.2M419.0 1772.0L469.2 1837.9M468.0 1809.0L468.1 1849.1M468.0 1809.0L482.5 1766.7M468.0 1809.0L400.1 1772.4M419.0 1772.0L416.0 1771.9M468.0 1809.0L404.7 1779.0M419.0 1772.0L413.0 1785.5M468.0 1809.0L468.7 1806.8M419.0 1772.0L451.5 1828.4M468.0 1809.0L464.9 1863.2M419.0 1772.0L477.6 1780.1M468.0 1809.0L442.4 1804.2M468.0 1809.0L458.3 1762.7M419.0 1772.0L432.5 1757.6M468.0 1809.0L454.3 1843.0M419.0 1772.0L458.9 1837.1M468.0 1809.0L454.7 1796.7M419.0 1772.0L481.9 1784.4M468.0 1809.0L473.8 1781.0M419.0 1772.0L462.2 1808.4M468.0 1809.0L435.5 1749.6M419.0 1772.0L458.8 1770.7M419.0 1772.0L402.7 1763.9M419.0 1772.0L415.6 1751.1M468.0 1809.0L471.6 1789.7M468.0 1809.0L413.1 1786.9M419.0 1772.0L461.2 1802.4M468.0 1809.0L482.5 1766.7M468.0 1809.0L441.2 1755.6M468.0 1809.0L436.0 1793.8" stroke="#a52a2a" stroke-width="0.6" stroke-opacity="0.3" fill="none"/>
<path d="M420.1 1765.1h0M477.1 1762.5h0M403.5 1761.1h0M418.8 1800.5h0M465.2 1811.0h0M467.4 1765.7h0M451.2 1827.8h0M454.3 1759.6h0M472.6 1814.9h0M459.1 1846.6h0M462.2 1861.9h0M448.0 1799.1h0M440.0 1750.9h0M483.4 1781.3h0M461.6 1789.7h0M420.4 1789.6h0M437.3 1763.5h0M414.8 1756.7h0M442.2 1750.1h0M451.0 1856.9h0M416.6 1752.8h0M452.1 1838.5h0M428.5 1761.9h0M465.4 1825.8h0M453.5 1793.8h0M482.1 1773.1h0M450.9 1787.4h0M421.5 1762.6h0M443.2 1757.9h0M430.5 1750.9h0M405.1 1786.7h0M461.5 1778.0h0M451.5 1828.4h0M445.0 1765.0h0M463.0 1821.0h0M429.6 1801.8h0M456.8 1816.2h0M451.8 1777.4h0M447.3 1789.2h0M455.5 1812.0h0M415.5 1790.9h0M465.3 1766.2h0M479.6 1764.0h0M436.7 1812.7h0M421.2 1793.7h0M412.1 1793.5h0M484.9 1774.0h0M466.7 1819.6h0M416.1 1779.0h0M460.8 1866.8h0M462.5 1855.0h0M423.4 1786.3h0M426.8 1791.8h0M435.4 1764.3h0M442.4 1804.2h0M448.2 1821.3h0M456.8 1794.8h0M451.8 1829.5h0M475.7 1765.2h0M402.6 1765.7h0M453.1 1826.2h0M458.3 1879.2h0M431.0 1784.1h0M448.2 1796.9h0M467.0 1765.4h0M449.6 1787.8h0M416.1 1769.7h0M445.3 1751.9h0M439.4 1807.9h0M477.1 1800.8h0M455.7 1756.8h0M452.2 1752.3h0M428.4 1749.9h0M454.7 1796.7h0M451.7 1802.2h0M471.6 1841.4h0M428.4 1797.7h0M456.6 1834.2h0M404.7 1784.4h0M466.6 1756.7h0M446.5 1817.4h0M458.9 1846.2h0M454.0 1853.6h0M472.3 1853.5h0M440.8 1752.0h0M458.7 1803.6h0M435.2 1798.5h0M477.6 1780.1h0M457.3 1797.0h0M458.7 1852.1h0M436.4 1794.2h0M416.0 1771.9h0M449.2 1774.9h0M462.0 1843.4h0M415.2 1766.0h0M444.1 1784.2h0M461.3 1839.8h0M422.6 1786.6h0M471.4 1766.4h0M432.5 1757.6h0M422.4 1798.3h0M409.6 1791.7h0M467.8 1822.7h0M471.8 1761.2h0M435.1 1797.0h0M462.2 1796.9h0M455.9 1843.1h0M473.8 1801.0h0M454.9 1784.9h0M463.4 1802.7h0M483.2 1780.8h0M418.5 1776.6h0M449.4 1803.7h0M415.6 1751.1h0M461.5 1767.1h0M460.8 1785.8h0M446.9 1798.3h0M462.2 1863.7h0M463.5 1784.6h0M404.7 1779.0h0M444.8 1763.3h0M400.7 1777.9h0M469.3 1855.7h0M473.1 1807.4h0M451.5 1800.8h0M473.2 1804.5h0M482.9 1777.7h0M478.2 1773.1h0M469.2 1834.4h0M483.2 1785.1h0M473.6 1770.3h0M461.7 1865.3h0M432.1 1796.9h0M465.2 1819.8h0M449.8 1763.0h0M467.3 1794.5h0M487.9 1767.7h0M432.5 1801.8h0M420.0 1751.9h0M418.3 1773.4h0M458.9 1837.1h0M483.9 1779.6h0M430.9 1808.0h0M458.0 1775.4h0M467.9 1869.6h0M453.8 1771.6h0M413.1 1786.9h0M413.1 1763.0h0M471.6 1789.7h0M441.2 1755.6h0M450.2 1828.4h0M457.7 1822.0h0M440.5 1802.1h0M447.2 1793.8h0M444.9 1754.9h0M462.7 1855.0h0M456.0 1818.0h0M464.1 1865.4h0M443.1 1816.3h0M464.9 1781.7h0M437.1 1775.2h0M459.6 1859.9h0M455.0 1839.1h0M431.7 1797.4h0M447.0 1777.7h0M457.9 1864.8h0M416.8 1775.4h0M428.3 1786.3h0M454.3 1843.0h0M462.1 1858.5h0M439.0 1774.7h0M467.6 1826.3h0M457.0 1761.9h0M471.2 1797.0h0M451.8 1790.6h0M446.2 1778.2h0M461.2 1857.9h0M400.1 1760.4h0M408.1 1782.2h0M432.9 1762.4h0M459.2 1766.1h0M431.5 1772.8h0M421.2 1775.4h0M465.9 1872.9h0M458.6 1872.4h0M437.1 1790.6h0M414.7 1786.8h0M440.2 1783.1h0M429.1 1802.7h0M439.8 1778.5h0M432.0 1785.2h0M469.9 1832.0h0M473.7 1809.2h0M458.9 1792.1h0M401.3 1759.3h0M429.8 1760.4h0M440.5 1800.6h0M420.5 1804.2h0M453.4 1796.9h0M468.0 1860.7h0M413.0 1785.5h0M452.0 1757.4h0M420.5 1775.1h0M460.3 1803.7h0M458.2 1757.2h0M436.0 1793.8h0M469.0 1855.8h0M419.6 1782.1h0M464.9 1799.6h0M440.5 1786.7h0M406.7 1778.9h0M468.1 1849.1h0M460.5 1842.0h0M463.7 1755.6h0M432.0 1752.6h0M436.5 1774.6h0M416.2 1785.3h0M447.5 1757.6h0M404.9 1781.2h0M468.7 1806.8h0M418.2 1774.8h0M426.6 1757.2h0M473.8 1781.0h0M421.9 1764.5h0M462.8 1759.7h0M465.6 1809.8h0M406.2 1785.0h0M464.8 1848.5h0M473.9 1786.1h0M447.4 1809.4h0M481.3 1789.7h0M470.2 1842.1h0M438.9 1759.9h0M470.8 1784.3h0M469.2 1837.9h0M487.7 1767.7h0M446.0 1779.7h0M470.8 1819.4h0M439.6 1788.8h0M449.8 1826.1h0M464.2 1830.6h0M450.7 1751.2h0M454.8 1758.1h0M413.7 1780.2h0M470.9 1850.8h0M419.8 1759.6h0M413.7 1791.7h0M478.1 1765.3h0M446.7 1796.5h0M455.2 1858.2h0M460.7 1822.5h0M439.6 1792.7h0M472.5 1760.8h0M470.1 1839.0h0M461.4 1780.4h0M468.7 1815.3h0M438.3 1779.3h0M447.7 1754.9h0M441.4 1784.6h0M463.4 1860.8h0M461.5 1785.9h0M416.0 1800.7h0M483.3 1770.9h0M462.9 1853.5h0M427.0 1762.3h0M429.7 1762.0h0M471.3 1798.6h0M420.7 1760.0h0M470.4 1855.5h0M443.0 1802.1h0M472.5 1816.2h0M468.4 1843.4h0M428.3 1787.5h0M466.7 1762.3h0M458.7 1801.0h0M457.0 1761.9h0M472.3 1830.2h0M461.4 1874.1h0M455.0 1776.0h0M452.4 1818.3h0M475.6 1789.3h0M457.6 1763.9h0M473.8 1798.9h0M447.0 1750.7h0M431.4 1779.6h0M457.9 1845.5h0M472.5 1833.5h0M465.3 1805.3h0M427.8 1772.3h0M418.9 1798.1h0M444.1 1784.4h0M421.4 1792.7h0M465.1 1860.6h0M431.4 1761.9h0M474.4 1796.4h0M458.1 1780.3h0M465.9 1781.2h0M455.8 1781.2h0M468.4 1838.1h0M448.0 1780.8h0M442.6 1812.7h0M443.4 1784.5h0M474.5 1770.2h0M444.2 1803.5h0M447.3 1790.9h0M421.8 1751.2h0M452.9 1806.4h0M471.0 1760.6h0M446.9 1794.9h0M458.5 1832.8h0M465.4 1843.7h0M422.0 1792.9h0M415.2 1797.4h0M400.1 1772.4h0M456.4 1791.2h0M473.4 1797.9h0M462.1 1813.3h0M451.9 1750.7h0M435.5 1805.9h0M456.5 1853.5h0M464.9 1800.5h0M436.9 1809.7h0M407.1 1761.6h0M431.3 1774.1h0M451.4 1819.4h0M469.3 1781.6h0M471.1 1834.6h0M449.7 1799.2h0M471.5 1815.2h0M472.7 1850.6h0M471.2 1802.7h0M433.8 1787.1h0M454.7 1778.4h0M466.6 1846.5h0M451.3 1845.0h0M452.8 1823.4h0M424.7 1800.2h0M419.4 1803.9h0M436.5 1770.9h0M469.9 1764.0h0M482.5 1766.7h0M433.3 1807.2h0M484.5 1775.6h0M450.3 1787.1h0M418.4 1781.9h0M409.5 1766.2h0M440.1 1770.9h0M458.8 1770.7h0M442.3 1755.2h0M407.4 1769.9h0M435.3 1812.4h0M473.2 1801.8h0M476.2 1763.2h0M411.3 1766.1h0M463.9 1836.3h0M402.7 1763.9h0M479.6 1781.7h0M454.3 1803.0h0M426.2 1796.3h0M452.5 1803.6h0M450.9 1754.3h0M427.3 1762.2h0M413.0 1760.0h0M444.6 1772.4h0M455.7 1851.6h0M412.6 1771.0h0M441.7 1802.1h0M407.6 1755.5h0M463.4 1785.4h0M448.7 1789.4h0M432.6 1803.3h0M480.1 1781.0h0M469.4 1779.3h0M474.8 1794.0h0M439.6 1786.6h0M414.5 1753.8h0M464.2 1836.7h0M420.4 1793.0h0M459.1 1791.6h0M458.9 1802.6h0M481.9 1784.4h0M464.9 1863.2h0M455.8 1854.4h0M462.2 1856.0h0M446.6 1791.1h0M412.8 1789.6h0M412.5 1765.8h0M420.4 1759.6h0M468.3 1867.1h0M449.2 1781.0h0M413.6 1791.7h0M401.0 1764.1h0M415.9 1774.9h0M445.5 1765.7h0M455.5 1796.5h0M444.4 1774.0h0M467.0 1852.5h0M467.4 1871.1h0M399.4 1768.1h0M464.5 1835.4h0M479.1 1788.3h0M454.0 1832.8h0M467.1 1805.9h0M458.3 1762.7h0M408.9 1779.6h0M468.2 1813.9h0M415.5 1775.0h0M454.7 1857.2h0M437.3 1781.6h0M455.8 1826.4h0M425.6 1776.7h0M458.3 1788.8h0M422.3 1775.8h0M450.4 1809.4h0M450.8 1784.1h0M470.4 1853.2h0M462.2 1808.4h0M453.1 1822.7h0M434.0 1757.7h0M467.6 1840.0h0M444.5 1755.6h0M455.0 1783.4h0M416.9 1770.6h0M471.8 1814.9h0M429.0 1793.0h0M486.3 1770.2h0M438.8 1795.9h0M401.0 1772.2h0M457.9 1819.3h0M477.0 1777.0h0M484.4 1786.4h0M458.7 1796.5h0M453.5 1753.4h0M449.6 1823.3h0M440.2 1795.5h0M464.5 1797.0h0M464.7 1852.4h0M477.1 1781.8h0M477.7 1769.2h0M435.5 1749.6h0M491.4 1765.8h0M434.7 1754.3h0M434.1 1800.4h0M471.5 1771.5h0M444.8 1768.0h0M456.4 1849.9h0M446.4 1803.0h0M419.3 1783.5h0M454.4 1830.9h0M460.0 1798.0h0M446.3 1750.3h0M472.1 1850.9h0M419.7 1754.3h0M417.6 1753.6h0M461.2 1802.4h0M447.5 1796.7h0M451.4 1780.3h0M455.9 1763.2h0M476.1 1798.5h0M474.2 1809.2h0M403.6 1768.2h0M483.4 1772.6h0M436.5 1766.1h0" stroke="#a52a2a" stroke-width="4.8" stroke-linecap="round" fill="none"/>
<path d="M387.1 1753.2h0M375.5 1731.7h0M391.3 1751.7h0M382.4 1762.3h0M395.4 1751.6h0M376.1 1739.9h0M388.9 1752.1h0M385.1 1743.2h0M371.1 1750.9h0M382.5 1743.4h0M378.7 1759.6h0M385.9 1767.5h0M402.8 1753.7h0M384.3 1748.6h0M380.7 1743.9h0M374.9 1737.7h0M397.0 1757.7h0M388.4 1761.8h0M390.3 1767.4h0M370.7 1756.2h0M369.9 1769.2h0M382.7 1750.5h0M387.5 1756.9h0M383.2 1764.8h0M382.5 1747.1h0M381.9 1761.0h0M380.1 1735.4h0M395.4 1753.3h0M381.0 1761.7h0M392.0 1755.5h0M375.1 1767.9h0M380.5 1741.1h0M376.1 1748.4h0M398.4 1766.1h0M378.9 1748.7h0M390.8 1754.3h0M385.9 1750.7h0M383.3 1769.9h0M402.8 1757.8h0M389.0 1761.7h0M375.6 1746.2h0M380.6 1760.6h0M376.4 1736.9h0M394.9 1762.0h0M398.0 1767.8h0M392.3 1761.2h0M396.8 1759.6h0M376.4 1768.5h0M369.9 1767.0h0M387.6 1757.4h0M375.3 1768.2h0M395.0 1762.8h0M381.9 1760.3h0M391.8 1753.1h0M378.9 1768.1h0M373.4 1746.0h0M403.0 1760.9h0M372.4 1770.0h0M376.7 1739.3h0M374.6 1747.7h0M383.5 1763.8h0M374.9 1762.8h0M370.6 1754.2h0M375.7 1740.1h0M379.7 1735.4h0M372.9 1750.7h0M405.1 1762.4h0M384.9 1741.9h0M377.5 1741.6h0M402.3 1755.8h0M375.0 1736.4h0M379.3 1767.3h0M390.2 1766.2h0M393.8 1750.2h0M383.8 1759.9h0M383.8 1741.9h0M370.7 1760.4h0M394.0 1763.3h0M402.6 1758.8h0M389.2 1765.4h0M379.7 1758.4h0M377.6 1764.2h0M376.1 1741.7h0M382.6 1764.9h0M374.6 1765.2h0M384.6 1766.5h0M393.3 1767.4h0M380.3 1769.8h0M382.5 1768.5h0M402.4 1758.5h0M383.9 1743.7h0M389.0 1759.3h0M404.6 1764.9h0M388.9 1750.1h0M385.0 1757.6h0" stroke="#00ee00" stroke-width="4.8" stroke-linecap="round" fill="none"/>
<circle cx="470" cy="1590.7" r="2.6" fill="none" stroke="#000" stroke-width="1.6"/>
<circle cx="458.3" cy="1614.3" r="3.2" fill="#111"/>
<circle cx="471" cy="1627.7" r="3.2" fill="#111"/>
<circle cx="481.9" cy="1636" r="2.6" fill="none" stroke="#000" stroke-width="1.6"/>
<circle cx="493.1" cy="1706.5" r="3.2" fill="#111"/>
<circle cx="481.1" cy="1766.3" r="3.2" fill="#111"/>
<circle cx="373.8" cy="1758.6" r="3.2" fill="#111"/>
<circle cx="418.7" cy="1772.4" r="3.2" fill="#111"/>
<circle cx="468.1" cy="1809.2" r="3.2" fill="#111"/>
<circle cx="226.9" cy="1755.5" r="2.6" fill="none" stroke="#000" stroke-width="1.6"/>
<circle cx="229.3" cy="1816" r="2.6" fill="none" stroke="#000" stroke-width="1.6"/>
<text x="473" y="1574.1" style="font:italic 17.4px 'Liberation Sans', Arial, Helvetica, sans-serif">tns&#8722;1</text>
<text x="385" y="1596.3" style="font:italic 17.4px 'Liberation Sans', Arial, Helvetica, sans-serif">C53B7.3</text>
<text x="481" y="1617.7" style="font:italic 17.4px 'Liberation Sans', Arial, Helvetica, sans-serif">mls&#8722;1</text>
<text x="527.5" y="1635.9" style="font:italic 17.4px 'Liberation Sans', Arial, Helvetica, sans-serif">tni&#8722;1</text>
<text x="516.5" y="1701.7" style="font:italic 17.4px 'Liberation Sans', Arial, Helvetica, sans-serif">snu&#8722;66</text>
<text x="365.8" y="1724.7" style="font:italic 17.4px 'Liberation Sans', Arial, Helvetica, sans-serif">col&#8722;20</text>
<text x="365" y="1753.2" style="font:italic 17.4px 'Liberation Sans', Arial, Helvetica, sans-serif">col&#8722;124</text>
<text x="508.5" y="1761.1" style="font:italic 17.4px 'Liberation Sans', Arial, Helvetica, sans-serif">mix&#8722;1</text>
<text x="367.5" y="1810.3" style="font:italic 17.4px 'Liberation Sans', Arial, Helvetica, sans-serif">asp&#8722;3</text>
<text x="486.3" y="1809.5" style="font:italic 17.4px 'Liberation Sans', Arial, Helvetica, sans-serif">rps&#8722;25</text>
<text x="216.3" y="1750.2" style="font:italic 17.4px 'Liberation Sans', Arial, Helvetica, sans-serif">F25B5.6</text>
<text x="219.3" y="1810.6" style="font:italic 17.4px 'Liberation Sans', Arial, Helvetica, sans-serif">T10G3.1</text>
<text x="851.5" y="1606.4" style="font:25px 'Liberation Sans', Arial, Helvetica, sans-serif">Neuron</text>
<path d="M1036.0 1573.0L1037.2 1565.1M1036.0 1573.0L1037.3 1569.8M1036.0 1573.0L1034.2 1591.5M1036.0 1573.0L1032.6 1591.2M1036.0 1573.0L1034.0 1588.7M1036.0 1573.0L1033.1 1578.1M1036.0 1573.0L1037.3 1569.8M1036.0 1573.0L1037.2 1587.5M1036.0 1573.0L1037.3 1569.8M1036.0 1573.0L1037.3 1569.8M1036.0 1573.0L1038.1 1579.0M1036.0 1573.0L1030.5 1586.3M1036.0 1573.0L1037.3 1569.8M1036.0 1573.0L1031.0 1580.7M1036.0 1573.0L1038.1 1579.0M1036.0 1573.0L1033.1 1578.1M1036.0 1573.0L1035.2 1592.8M1036.0 1573.0L1030.1 1583.7M1036.0 1573.0L1034.6 1586.9M1036.0 1573.0L1036.1 1587.9" stroke="#e0d000" stroke-width="0.6" stroke-opacity="0.3" fill="none"/>
<path d="M1036.6 1593.0h0M1038.8 1578.1h0M1036.6 1595.6h0M1039.0 1592.7h0M1036.5 1567.0h0M1040.1 1562.3h0M1032.6 1591.2h0M1034.7 1583.0h0M1034.0 1588.7h0M1041.4 1591.3h0M1037.6 1582.6h0M1037.2 1587.5h0M1042.2 1574.7h0M1039.6 1584.0h0M1041.6 1563.3h0M1039.7 1596.9h0M1038.1 1579.0h0M1034.6 1586.9h0M1031.4 1571.6h0M1030.6 1562.6h0M1030.1 1583.7h0M1037.2 1565.1h0M1037.3 1569.8h0M1031.4 1564.9h0M1030.5 1586.3h0M1030.3 1591.3h0M1037.5 1604.3h0M1039.8 1572.7h0M1041.7 1598.9h0M1036.1 1587.9h0M1039.7 1562.6h0M1033.1 1578.1h0M1037.5 1594.2h0M1034.2 1591.5h0M1035.2 1592.8h0M1039.0 1585.7h0M1041.5 1568.0h0M1039.7 1564.2h0M1031.8 1587.0h0M1033.5 1569.8h0M1035.1 1586.8h0M1031.9 1588.9h0M1040.6 1567.7h0M1032.8 1597.7h0M1031.0 1580.7h0M1034.8 1595.2h0" stroke="#ffff00" stroke-width="4.8" stroke-linecap="round" fill="none"/>
<path d="M1055.2 1619.6h0M1048.1 1611.6h0M1051.4 1629.6h0M1048.5 1608.0h0M1047.7 1605.1h0M1050.7 1614.2h0M1048.6 1625.6h0M1048.6 1613.0h0M1053.6 1625.3h0M1052.0 1606.8h0M1047.5 1616.4h0M1056.5 1607.3h0M1055.6 1609.8h0M1055.0 1613.6h0M1056.2 1608.9h0M1048.7 1619.0h0M1056.2 1615.5h0M1051.2 1621.1h0M1048.8 1602.7h0M1050.1 1628.1h0" stroke="#ffff00" stroke-width="4.8" stroke-linecap="round" fill="none"/>
<path d="M1023.7 1617.9h0M1030.1 1622.7h0M1014.9 1630.4h0M1017.5 1631.0h0M1031.3 1631.8h0M1029.2 1628.2h0M1028.7 1615.6h0M1031.6 1631.8h0M1014.6 1628.7h0M1021.5 1623.2h0M1022.3 1619.8h0M1021.7 1619.1h0M1012.8 1619.8h0M1022.0 1629.4h0" stroke="#ffff00" stroke-width="4.8" stroke-linecap="round" fill="none"/>
<path d="M1041.0 1650.3h0M1025.5 1641.4h0M1039.3 1643.3h0M1033.8 1652.0h0M1038.7 1653.4h0M1018.2 1636.0h0M1018.5 1634.9h0M1024.2 1635.0h0M1038.0 1659.3h0M1030.7 1649.0h0M1035.4 1654.4h0M1041.4 1648.8h0M1043.6 1659.6h0M1039.5 1670.7h0M1028.3 1656.7h0M1031.3 1641.6h0" stroke="#ffff00" stroke-width="4.8" stroke-linecap="round" fill="none"/>
<path d="M980.7 1687.0L980.5 1709.3M980.7 1687.0L1024.5 1726.2M980.7 1687.0L998.7 1742.6M980.7 1687.0L1042.7 1733.0M980.7 1687.0L1036.8 1673.3M980.7 1687.0L1035.4 1736.1M980.7 1687.0L1050.8 1755.2M980.7 1687.0L972.5 1689.4M980.7 1687.0L1025.9 1695.9M980.7 1687.0L1017.9 1756.5M980.7 1687.0L1008.0 1664.0M980.7 1687.0L1041.2 1722.6M980.7 1687.0L1006.4 1644.5M980.7 1687.0L980.9 1718.5M980.7 1687.0L1023.4 1724.2M980.7 1687.0L1008.2 1731.9M980.7 1687.0L979.6 1695.7M980.7 1687.0L1019.7 1667.5M980.7 1687.0L985.7 1720.6M980.7 1687.0L1026.9 1677.8M980.7 1687.0L997.9 1661.2M980.7 1687.0L1013.7 1640.3M980.7 1687.0L1050.6 1753.3M980.7 1687.0L985.7 1720.6M980.7 1687.0L1019.8 1695.4M980.7 1687.0L1000.7 1728.2M980.7 1687.0L1028.1 1750.3M980.7 1687.0L1023.7 1655.8M980.7 1687.0L1042.3 1728.0M980.7 1687.0L1038.1 1724.3M980.7 1687.0L980.9 1718.5M980.7 1687.0L1002.9 1645.9M980.7 1687.0L1006.4 1689.1M980.7 1687.0L1044.0 1737.3M980.7 1687.0L988.1 1674.1M980.7 1687.0L1033.4 1732.2M980.7 1687.0L1028.3 1746.9M980.7 1687.0L1039.6 1672.8M980.7 1687.0L973.8 1715.0M980.7 1687.0L1003.0 1647.3M980.7 1687.0L983.2 1697.5M980.7 1687.0L1015.9 1636.2M980.7 1687.0L1003.7 1733.9M980.7 1687.0L1015.5 1640.2M980.7 1687.0L994.0 1662.8M980.7 1687.0L983.5 1709.4M980.7 1687.0L1045.2 1723.5M980.7 1687.0L1033.8 1725.6M980.7 1687.0L976.3 1687.5M980.7 1687.0L1005.6 1736.5M980.7 1687.0L1042.7 1707.5M980.7 1687.0L1042.7 1707.5M980.7 1687.0L1011.3 1727.4M980.7 1687.0L1049.8 1762.0M980.7 1687.0L1045.2 1718.4M980.7 1687.0L1025.5 1678.3M980.7 1687.0L1033.0 1681.7M980.7 1687.0L1021.1 1652.1M980.7 1687.0L981.3 1733.3M980.7 1687.0L1042.3 1728.0M980.7 1687.0L1035.4 1736.1M980.7 1687.0L1010.6 1738.0M980.7 1687.0L1045.2 1723.5M980.7 1687.0L1035.4 1736.1M980.7 1687.0L1017.5 1756.4M980.7 1687.0L1013.3 1695.2M980.7 1687.0L981.4 1677.2M980.7 1687.0L1021.7 1689.9M980.7 1687.0L1024.5 1714.3M980.7 1687.0L1053.2 1751.9M980.7 1687.0L1020.6 1690.0M980.7 1687.0L1013.1 1660.3M980.7 1687.0L1018.7 1666.8M980.7 1687.0L1044.0 1737.3M980.7 1687.0L1001.7 1671.6M980.7 1687.0L1006.9 1644.8M980.7 1687.0L1035.0 1769.9M980.7 1687.0L1040.2 1696.0M980.7 1687.0L1004.1 1722.0M980.7 1687.0L1037.9 1750.7M980.7 1687.0L1016.3 1739.7M980.7 1687.0L1005.0 1743.1M980.7 1687.0L1028.9 1673.2M980.7 1687.0L1025.9 1695.9M980.7 1687.0L976.7 1686.8M980.7 1687.0L1004.7 1663.2M980.7 1687.0L998.7 1742.6M980.7 1687.0L1039.9 1765.9M980.7 1687.0L998.4 1726.9M980.7 1687.0L999.5 1655.0M980.7 1687.0L1007.6 1637.6M980.7 1687.0L1032.7 1656.7M980.7 1687.0L1046.0 1723.5M980.7 1687.0L1037.6 1748.5M980.7 1687.0L989.7 1676.6M980.7 1687.0L1038.9 1710.9M980.7 1687.0L1020.2 1755.6M980.7 1687.0L972.5 1689.4M980.7 1687.0L1043.6 1761.6M980.7 1687.0L1025.4 1700.4M980.7 1687.0L1000.9 1745.5M980.7 1687.0L1024.5 1756.9M980.7 1687.0L985.8 1724.5M980.7 1687.0L998.4 1726.9M980.7 1687.0L1013.3 1657.2M980.7 1687.0L1020.6 1690.0M980.7 1687.0L1030.7 1738.3M980.7 1687.0L1011.2 1749.9M980.7 1687.0L1046.0 1723.5M980.7 1687.0L998.3 1706.9" stroke="#40e0d0" stroke-width="0.6" stroke-opacity="0.3" fill="none"/>
<path d="M1003.7 1733.9h0M994.7 1711.2h0M1040.6 1713.1h0M1004.1 1722.0h0M999.9 1679.8h0M994.4 1693.4h0M1011.3 1692.4h0M1005.2 1696.4h0M1042.3 1728.0h0M1036.5 1668.4h0M981.8 1708.9h0M988.9 1681.3h0M1025.6 1740.2h0M997.9 1670.3h0M1015.3 1663.3h0M1019.9 1726.4h0M1026.9 1677.8h0M1047.2 1703.9h0M988.3 1723.3h0M1046.5 1753.7h0M1038.9 1710.9h0M1049.9 1781.6h0M979.8 1681.8h0M1036.4 1721.0h0M977.8 1703.0h0M1050.6 1753.3h0M1011.2 1749.9h0M1013.3 1695.2h0M997.3 1733.6h0M979.6 1695.7h0M986.2 1711.9h0M1017.4 1670.0h0M1046.4 1776.3h0M1003.2 1638.0h0M971.3 1692.3h0M1014.2 1702.3h0M976.4 1728.6h0M990.4 1739.6h0M1008.0 1664.0h0M982.9 1685.1h0M1024.6 1679.1h0M1020.2 1645.3h0M975.3 1704.2h0M1023.6 1743.2h0M1014.6 1728.4h0M983.4 1697.5h0M1038.0 1690.1h0M1010.1 1753.6h0M1025.6 1719.0h0M1039.3 1687.2h0M1034.4 1745.5h0M1035.6 1775.8h0M993.3 1725.3h0M1006.0 1663.1h0M1016.7 1733.2h0M1035.0 1769.9h0M1039.9 1761.7h0M1053.2 1751.9h0M1039.9 1765.9h0M1019.7 1667.5h0M1017.2 1632.0h0M1015.0 1673.8h0M1045.6 1729.3h0M1021.8 1752.4h0M1042.7 1707.5h0M1015.9 1636.2h0M981.5 1728.6h0M1000.4 1663.0h0M1028.2 1753.0h0M1000.5 1655.2h0M1050.8 1755.2h0M998.0 1743.0h0M996.0 1712.2h0M1025.0 1727.9h0M1011.0 1645.9h0M1008.4 1752.3h0M1039.6 1670.3h0M988.2 1686.0h0M1043.6 1700.0h0M1021.7 1689.9h0M1017.0 1711.3h0M1000.7 1728.2h0M1016.8 1738.4h0M1023.7 1684.6h0M1000.5 1690.8h0M1028.4 1649.7h0M981.3 1733.3h0M1017.9 1745.0h0M1025.5 1733.4h0M996.0 1737.3h0M1004.9 1682.4h0M976.7 1686.8h0M1014.7 1681.8h0M1036.0 1761.0h0M1010.1 1666.6h0M1046.0 1703.5h0M1036.0 1663.2h0M1032.7 1656.7h0M1038.1 1670.0h0M993.1 1679.4h0M971.8 1685.4h0M1028.0 1716.9h0M1003.0 1647.3h0M988.0 1681.1h0M973.8 1715.0h0M1020.6 1680.5h0M1028.1 1754.1h0M1039.0 1751.6h0M988.7 1709.8h0M996.1 1666.1h0M1040.9 1747.9h0M1012.0 1698.7h0M1017.6 1726.3h0M980.5 1709.3h0M1029.4 1664.2h0M1037.6 1748.5h0M992.8 1729.2h0M1024.5 1756.9h0M1042.8 1677.5h0M1040.2 1696.0h0M1033.4 1658.8h0M985.4 1730.3h0M980.9 1718.5h0M977.8 1693.9h0M997.9 1661.2h0M1045.3 1692.5h0M1011.9 1749.5h0M1040.7 1717.8h0M1016.3 1739.7h0M1047.2 1736.0h0M1042.4 1735.4h0M1048.4 1774.5h0M986.8 1720.7h0M1050.4 1790.8h0M998.7 1742.6h0M1029.5 1736.0h0M1043.6 1761.6h0M1033.0 1737.4h0M1030.0 1751.4h0M1049.8 1761.6h0M1020.3 1647.0h0M1033.0 1681.7h0M1025.7 1752.5h0M1042.5 1670.9h0M1024.8 1691.1h0M1005.6 1736.5h0M988.1 1674.1h0M1036.1 1663.1h0M1017.5 1704.4h0M1042.6 1780.9h0M1020.2 1755.6h0M971.8 1680.0h0M1000.9 1745.5h0M1015.4 1740.3h0M1024.6 1727.8h0M1047.2 1739.6h0M1032.2 1714.6h0M999.5 1655.0h0M1040.3 1692.3h0M1003.5 1746.2h0M1045.3 1776.2h0M1027.3 1689.8h0M1028.3 1746.9h0M1008.1 1698.6h0M1006.4 1689.1h0M994.0 1662.8h0M1025.3 1762.2h0M995.7 1740.5h0M995.9 1731.7h0M1016.1 1662.3h0M981.4 1677.2h0M1038.1 1724.3h0M990.4 1729.5h0M1020.6 1690.0h0M1009.1 1701.6h0M1031.7 1668.2h0M1040.9 1697.6h0M1042.2 1692.9h0M1023.4 1724.2h0M984.4 1716.6h0M1001.0 1678.7h0M1020.7 1648.4h0M1013.7 1685.3h0M1013.7 1640.3h0M985.6 1690.7h0M1027.3 1749.2h0M992.3 1666.2h0M1038.1 1756.1h0M1045.2 1723.5h0M1028.3 1646.5h0M1009.2 1687.7h0M981.7 1688.6h0M1010.7 1729.8h0M1011.3 1727.4h0M1010.6 1738.0h0M1035.4 1736.1h0M1025.4 1739.6h0M1044.0 1702.8h0M987.7 1679.2h0M1011.6 1697.0h0M979.3 1684.3h0M1005.0 1743.1h0M1039.7 1753.6h0M1015.2 1741.7h0M1028.9 1681.4h0M1031.3 1719.4h0M1025.4 1700.4h0M1004.1 1694.1h0M1002.8 1697.6h0M1015.5 1640.2h0M1012.7 1710.7h0M1015.4 1703.7h0M1007.1 1748.4h0M1004.7 1663.2h0M1008.6 1743.0h0M1023.3 1680.4h0M983.5 1709.4h0M1030.7 1738.3h0M1017.9 1686.7h0M1033.8 1725.6h0M1044.5 1764.0h0M1042.4 1775.3h0M989.7 1676.6h0M1024.9 1645.9h0M1022.6 1654.6h0M1024.9 1748.1h0M1013.1 1660.3h0M1045.2 1756.2h0M1033.6 1754.2h0M1022.0 1638.5h0M983.2 1697.5h0M1006.9 1644.8h0M1023.8 1700.3h0M988.4 1706.8h0M998.1 1695.8h0M988.8 1699.0h0M1005.1 1742.1h0M1004.0 1637.7h0M1046.0 1723.5h0M1039.6 1672.8h0M1019.8 1695.4h0M978.4 1707.0h0M1003.3 1684.1h0M1002.9 1645.9h0M1017.9 1756.5h0M976.3 1687.5h0M985.8 1705.8h0M1026.4 1754.0h0M1025.5 1678.3h0M1022.1 1760.5h0M1024.5 1714.3h0M986.6 1688.1h0M996.6 1684.8h0M1021.1 1652.1h0M999.6 1650.7h0M985.8 1724.5h0M981.6 1734.3h0M1035.6 1769.6h0M1008.2 1731.9h0M1026.1 1716.6h0M1007.6 1637.6h0M1011.3 1694.6h0M998.4 1726.9h0M1047.9 1736.7h0M1003.7 1673.0h0M1011.1 1749.4h0M1039.0 1709.8h0M984.8 1719.0h0M1043.4 1696.6h0M1015.9 1634.8h0M1017.5 1756.4h0M1010.8 1750.0h0M1036.2 1663.8h0M1042.7 1733.0h0M1038.7 1755.7h0M1041.2 1722.6h0M1048.3 1752.6h0M1036.8 1673.3h0M1015.6 1719.6h0M1015.1 1634.6h0M985.7 1720.6h0M1002.6 1654.0h0M1002.0 1736.4h0M972.5 1689.4h0M987.3 1722.1h0M1001.7 1671.6h0M1042.3 1771.5h0M1043.9 1703.2h0M981.4 1706.3h0M1041.2 1716.4h0M1003.0 1656.7h0M1018.7 1666.8h0M1029.4 1657.0h0M1033.4 1732.2h0M998.3 1706.9h0M1026.6 1686.7h0M1028.1 1750.3h0M983.1 1678.6h0M1029.6 1673.2h0M1044.8 1773.6h0M994.9 1686.2h0M1025.9 1695.9h0M1034.7 1775.1h0M1034.2 1717.2h0M1028.9 1673.2h0M1009.5 1749.0h0M1014.5 1723.2h0M1041.5 1758.6h0M1031.7 1736.5h0M1013.8 1642.2h0M1037.9 1750.7h0M1034.4 1745.6h0M983.8 1714.2h0M1028.9 1686.3h0M995.5 1669.3h0M1054.3 1788.1h0M1017.7 1638.6h0M1028.8 1752.9h0M1021.5 1689.1h0M1044.0 1737.3h0M1029.5 1701.7h0M983.5 1723.3h0M1049.4 1778.2h0M1036.6 1681.3h0M1046.6 1779.6h0M1028.5 1723.8h0M1023.7 1655.8h0M1036.4 1695.7h0M997.1 1677.2h0M998.0 1729.3h0M1033.5 1714.0h0M1029.7 1715.5h0M1041.7 1763.1h0M1016.2 1662.7h0M994.1 1659.9h0M1046.5 1731.8h0M1017.1 1647.2h0M1024.5 1726.2h0M992.5 1712.7h0M1042.7 1767.1h0M1049.8 1762.0h0M1011.8 1703.6h0M1045.2 1718.4h0M1006.4 1644.5h0M985.6 1687.6h0M985.2 1720.8h0M1038.5 1722.4h0M1002.8 1669.3h0M1022.5 1679.5h0M1015.7 1695.2h0M1041.8 1724.8h0M1037.7 1671.1h0M1011.1 1723.2h0M1039.7 1677.0h0M1009.4 1667.6h0M1019.3 1696.1h0M1022.9 1676.0h0M1014.0 1698.3h0M1031.2 1712.8h0M1034.5 1756.1h0M1008.6 1645.2h0M985.8 1732.2h0M1018.2 1656.8h0M1013.3 1657.2h0M1036.9 1690.3h0M1039.4 1735.6h0M1010.7 1714.6h0" stroke="#40e0d0" stroke-width="4.8" stroke-linecap="round" fill="none"/>
<path d="M986.2 1681.3h0M981.1 1681.9h0M981.2 1674.3h0M975.8 1677.2h0M971.1 1690.7h0M983.0 1686.5h0M975.6 1683.1h0M984.9 1689.1h0M976.2 1680.9h0M977.7 1681.2h0M988.1 1689.1h0M972.2 1693.0h0M975.3 1692.7h0M983.8 1687.5h0M978.5 1699.4h0M970.3 1680.3h0M986.0 1692.8h0M973.9 1688.0h0M978.7 1674.0h0M979.7 1690.1h0M984.5 1691.1h0M973.1 1682.4h0M980.7 1684.5h0M974.4 1694.7h0M974.4 1693.9h0M976.2 1693.2h0M977.7 1682.6h0M984.4 1681.8h0M972.0 1690.4h0M975.2 1674.7h0M977.2 1691.3h0M970.4 1693.5h0M970.1 1681.6h0M977.6 1678.8h0M984.3 1684.3h0M988.8 1689.8h0M987.8 1684.7h0M981.9 1688.4h0M976.4 1694.3h0M983.1 1678.1h0M982.5 1681.6h0M972.5 1683.3h0M977.5 1684.4h0M982.5 1681.1h0M971.7 1682.6h0M980.1 1677.7h0M970.5 1683.0h0M984.4 1684.5h0" stroke="#40e0d0" stroke-width="4.8" stroke-linecap="round" fill="none"/>
<path d="M974.2 1723.1h0M983.2 1726.3h0M981.6 1720.2h0M988.6 1725.0h0M983.7 1723.0h0M985.1 1732.4h0M980.6 1721.4h0M991.2 1733.5h0M983.2 1739.7h0M979.2 1722.2h0M984.6 1739.7h0M975.7 1721.2h0M986.7 1727.4h0M984.2 1725.8h0M983.9 1732.3h0M990.4 1738.7h0M984.1 1733.8h0M991.3 1730.8h0M985.1 1730.9h0M987.7 1732.9h0M975.7 1719.8h0M990.3 1737.1h0M983.1 1726.9h0M989.3 1724.4h0M980.2 1733.9h0M980.2 1726.2h0M984.3 1720.1h0M987.2 1726.7h0M989.7 1717.0h0M979.7 1723.7h0M986.2 1730.6h0M988.2 1726.9h0" stroke="#40e0d0" stroke-width="4.8" stroke-linecap="round" fill="none"/>
<path d="M1087.7 1836.0L1099.5 1831.9M1087.7 1836.0L1080.4 1810.1M1087.7 1836.0L1107.5 1851.5M1087.7 1836.0L1078.7 1801.2M1087.7 1836.0L1104.9 1850.8M1087.7 1836.0L1067.3 1799.3M1087.7 1836.0L1070.8 1798.1M1087.7 1836.0L1090.0 1816.6M1087.7 1836.0L1060.7 1800.4M1087.7 1836.0L1089.2 1845.2M1087.7 1836.0L1067.8 1806.0M1087.7 1836.0L1085.0 1837.9M1087.7 1836.0L1077.0 1802.1M1087.7 1836.0L1080.4 1810.1M1087.7 1836.0L1066.1 1793.0M1087.7 1836.0L1075.8 1809.8M1087.7 1836.0L1098.2 1836.4M1087.7 1836.0L1089.0 1826.1M1087.7 1836.0L1076.4 1843.1M1087.7 1836.0L1063.7 1807.1M1087.7 1836.0L1072.3 1800.1M1087.7 1836.0L1079.9 1828.1M1087.7 1836.0L1059.1 1805.8M1087.7 1836.0L1076.9 1815.6M1087.7 1836.0L1089.9 1834.7M1087.7 1836.0L1065.9 1832.7M1087.7 1836.0L1099.5 1831.9M1087.7 1836.0L1104.3 1836.5M1087.7 1836.0L1083.1 1831.4M1087.7 1836.0L1067.3 1799.3M1087.7 1836.0L1071.3 1841.7M1087.7 1836.0L1077.6 1811.6M1087.7 1836.0L1076.4 1843.1M1087.7 1836.0L1084.3 1822.2M1087.7 1836.0L1066.4 1796.7M1087.7 1836.0L1081.9 1830.3M1087.7 1836.0L1068.1 1806.6M1087.7 1836.0L1105.1 1836.8M1087.7 1836.0L1087.4 1835.1M1087.7 1836.0L1087.6 1833.5" stroke="#a52a2a" stroke-width="0.6" stroke-opacity="0.3" fill="none"/>
<path d="M1104.9 1850.8h0M1082.5 1824.2h0M1072.0 1821.8h0M1069.2 1812.1h0M1089.1 1819.3h0M1067.3 1799.3h0M1085.0 1837.9h0M1069.8 1798.7h0M1079.4 1820.7h0M1100.8 1837.9h0M1078.6 1842.6h0M1070.8 1798.1h0M1089.4 1821.1h0M1094.9 1848.9h0M1094.5 1838.5h0M1060.5 1800.9h0M1060.0 1793.0h0M1087.4 1835.1h0M1091.8 1815.3h0M1056.0 1792.5h0M1092.9 1851.5h0M1079.9 1828.1h0M1099.5 1831.9h0M1090.0 1816.6h0M1075.1 1804.1h0M1079.1 1830.2h0M1099.9 1857.4h0M1090.1 1842.0h0M1089.2 1845.2h0M1069.7 1811.7h0M1104.2 1839.2h0M1101.1 1839.0h0M1072.3 1798.5h0M1068.7 1810.6h0M1082.6 1807.9h0M1067.9 1838.0h0M1061.4 1809.1h0M1087.9 1843.7h0M1068.1 1837.5h0M1092.6 1855.3h0M1102.0 1842.4h0M1059.1 1805.8h0M1097.0 1851.3h0M1089.1 1843.3h0M1060.6 1794.8h0M1069.6 1818.0h0M1059.0 1806.9h0M1073.0 1811.0h0M1054.5 1808.5h0M1078.0 1827.5h0M1108.6 1845.6h0M1090.8 1842.7h0M1076.3 1821.2h0M1052.0 1793.0h0M1108.5 1843.9h0M1099.2 1824.2h0M1081.9 1830.3h0M1105.1 1836.8h0M1065.6 1796.4h0M1068.7 1809.7h0M1078.9 1806.9h0M1081.8 1816.4h0M1054.2 1806.2h0M1080.6 1846.6h0M1090.3 1838.3h0M1084.6 1851.7h0M1076.8 1801.7h0M1076.9 1815.6h0M1081.9 1830.6h0M1087.6 1853.2h0M1088.2 1827.4h0M1105.3 1839.4h0M1088.6 1839.4h0M1066.4 1819.4h0M1068.1 1806.6h0M1071.9 1799.8h0M1091.9 1847.6h0M1089.0 1826.1h0M1055.9 1802.9h0M1055.0 1811.1h0M1090.4 1813.7h0M1088.9 1845.7h0M1077.1 1813.8h0M1086.2 1851.1h0M1083.1 1831.4h0M1078.7 1801.2h0M1098.2 1836.4h0M1053.5 1797.8h0M1070.3 1824.9h0M1103.6 1846.5h0M1075.3 1800.6h0M1053.7 1796.0h0M1076.4 1843.1h0M1060.7 1800.4h0M1067.2 1823.3h0M1071.4 1835.6h0M1093.0 1844.2h0M1056.6 1811.0h0M1097.3 1828.0h0M1081.9 1807.6h0M1061.2 1803.9h0M1056.5 1815.2h0M1061.0 1812.8h0M1109.3 1850.1h0M1057.7 1790.3h0M1067.8 1806.0h0M1080.8 1815.5h0M1075.0 1841.2h0M1072.3 1830.7h0M1093.4 1837.2h0M1052.6 1795.0h0M1109.9 1850.8h0M1076.1 1835.8h0M1090.1 1850.0h0M1083.9 1841.5h0M1099.7 1856.4h0M1065.9 1832.7h0M1088.1 1849.7h0M1065.1 1792.6h0M1096.5 1839.5h0M1089.9 1834.7h0M1087.6 1833.5h0M1068.6 1810.6h0M1100.3 1843.2h0M1104.3 1836.5h0M1075.9 1814.4h0M1095.3 1834.3h0M1093.1 1817.5h0M1064.4 1817.2h0M1080.3 1810.0h0M1060.2 1810.5h0M1065.9 1809.8h0M1090.4 1815.5h0M1075.0 1814.9h0M1101.4 1854.1h0M1076.5 1815.5h0M1103.0 1844.3h0M1074.1 1824.2h0M1080.4 1810.1h0M1068.4 1813.1h0M1072.3 1800.1h0M1079.5 1846.8h0M1083.6 1839.8h0M1078.8 1806.5h0M1107.5 1842.9h0M1079.5 1836.6h0M1071.3 1841.7h0M1108.1 1848.4h0M1066.4 1796.7h0M1083.9 1848.4h0M1063.2 1829.9h0M1083.3 1823.5h0M1083.1 1848.2h0M1086.7 1816.9h0M1075.1 1844.9h0M1099.3 1828.8h0M1058.7 1811.8h0M1071.2 1799.0h0M1085.6 1816.1h0M1075.6 1825.4h0M1055.0 1808.6h0M1083.4 1822.0h0M1080.4 1838.7h0M1100.1 1836.5h0M1067.5 1817.4h0M1092.5 1849.2h0M1081.1 1811.5h0M1051.6 1798.4h0M1080.4 1821.3h0M1069.1 1801.4h0M1054.8 1808.8h0M1083.4 1840.1h0M1077.6 1811.6h0M1057.3 1790.4h0M1069.0 1822.8h0M1091.4 1819.5h0M1090.3 1848.0h0M1080.6 1812.9h0M1077.0 1802.1h0M1061.8 1792.1h0M1066.1 1793.0h0M1084.5 1828.3h0M1057.5 1797.8h0M1107.5 1851.5h0M1077.6 1827.0h0M1075.8 1809.8h0M1066.4 1817.7h0M1063.7 1807.1h0M1062.8 1814.8h0M1087.8 1828.5h0M1061.3 1803.4h0M1084.3 1822.2h0M1077.2 1845.3h0" stroke="#a52a2a" stroke-width="4.8" stroke-linecap="round" fill="none"/>
<path d="M1210.4 1622.9L1195.4 1687.7M1210.4 1622.9L1251.3 1644.9M1210.4 1622.9L1241.0 1658.0M1210.4 1622.9L1257.0 1643.3M1210.4 1622.9L1222.7 1686.7M1210.4 1622.9L1214.8 1743.3M1210.4 1622.9L1206.9 1698.1M1210.4 1622.9L1239.0 1718.1M1210.4 1622.9L1222.3 1648.4M1210.4 1622.9L1236.2 1740.1M1210.4 1622.9L1239.3 1733.2M1210.4 1622.9L1232.7 1701.4M1210.4 1622.9L1222.3 1648.4M1210.4 1622.9L1211.8 1685.8M1210.4 1622.9L1231.0 1744.0M1210.4 1622.9L1252.8 1687.8M1210.4 1622.9L1214.6 1729.2M1210.4 1622.9L1251.3 1694.7M1210.4 1622.9L1214.7 1623.6M1210.4 1622.9L1253.8 1633.0M1210.4 1622.9L1204.1 1736.4M1210.4 1622.9L1231.0 1744.0M1210.4 1622.9L1208.4 1670.2M1210.4 1622.9L1197.4 1710.5M1210.4 1622.9L1227.9 1694.0M1210.4 1622.9L1220.5 1729.9M1210.4 1622.9L1239.3 1733.2M1210.4 1622.9L1250.7 1703.6M1210.4 1622.9L1215.7 1737.6M1210.4 1622.9L1220.3 1691.6M1210.4 1622.9L1238.2 1685.2M1210.4 1622.9L1216.1 1663.9M1210.4 1622.9L1205.6 1650.2M1210.4 1622.9L1200.5 1711.3M1210.4 1622.9L1256.8 1655.7M1210.4 1622.9L1208.8 1690.5M1210.4 1622.9L1216.7 1725.5M1210.4 1622.9L1254.1 1646.0M1210.4 1622.9L1224.1 1713.3M1210.4 1622.9L1245.6 1653.9M1210.4 1622.9L1198.6 1687.9M1210.4 1622.9L1207.6 1675.1M1210.4 1622.9L1210.5 1737.0M1210.4 1622.9L1234.6 1674.0M1210.4 1622.9L1211.3 1639.5M1210.4 1622.9L1201.4 1687.1M1210.4 1622.9L1217.4 1622.7M1210.4 1622.9L1201.3 1701.1M1210.4 1622.9L1216.8 1656.8M1210.4 1622.9L1237.2 1629.6M1210.4 1622.9L1217.7 1739.9M1210.4 1622.9L1246.3 1686.5M1210.4 1622.9L1213.3 1753.1M1210.4 1622.9L1195.7 1692.2M1210.4 1622.9L1215.6 1622.8M1210.4 1622.9L1252.5 1651.5M1210.4 1622.9L1199.8 1711.7M1210.4 1622.9L1202.4 1670.3M1210.4 1622.9L1257.0 1640.0M1210.4 1622.9L1250.1 1632.6M1210.4 1622.9L1217.0 1667.4M1210.4 1622.9L1253.8 1633.0M1210.4 1622.9L1239.5 1708.9M1210.4 1622.9L1199.8 1711.7M1210.4 1622.9L1222.3 1648.4M1210.4 1622.9L1202.7 1687.9M1210.4 1622.9L1232.0 1700.6M1210.4 1622.9L1200.5 1711.3M1210.4 1622.9L1218.3 1712.0M1210.4 1622.9L1215.4 1725.7M1210.4 1622.9L1202.4 1670.3M1210.4 1622.9L1250.2 1631.3M1210.4 1622.9L1262.3 1662.8M1210.4 1622.9L1206.4 1734.5M1210.4 1622.9L1213.5 1618.1M1210.4 1622.9L1211.5 1741.0M1210.4 1622.9L1213.5 1618.1M1210.4 1622.9L1222.1 1623.6M1210.4 1622.9L1242.9 1654.7M1210.4 1622.9L1240.4 1655.2M1210.4 1622.9L1217.0 1667.4M1210.4 1622.9L1258.8 1672.2M1210.4 1622.9L1208.8 1701.6M1210.4 1622.9L1213.4 1645.6M1210.4 1622.9L1224.1 1713.3M1210.4 1622.9L1234.4 1726.2M1210.4 1622.9L1249.5 1632.2M1210.4 1622.9L1239.0 1640.5M1210.4 1622.9L1207.4 1746.4M1210.4 1622.9L1246.5 1682.0M1210.4 1622.9L1246.3 1686.5M1210.4 1622.9L1248.7 1700.9M1210.4 1622.9L1264.0 1653.2M1210.4 1622.9L1235.2 1669.2M1210.4 1622.9L1243.6 1720.6M1210.4 1622.9L1195.7 1692.2M1210.4 1622.9L1240.3 1631.5M1210.4 1622.9L1212.8 1719.3M1210.4 1622.9L1222.3 1732.4M1210.4 1622.9L1220.3 1691.6M1210.4 1622.9L1229.8 1701.7M1210.4 1622.9L1213.1 1728.2M1210.4 1622.9L1236.5 1678.6M1210.4 1622.9L1231.0 1744.0M1210.4 1622.9L1218.8 1639.9M1210.4 1622.9L1225.7 1634.5M1210.4 1622.9L1253.8 1633.0M1210.4 1622.9L1246.5 1682.0M1210.4 1622.9L1240.3 1631.5M1210.4 1622.9L1254.5 1638.7" stroke="#0000ff" stroke-width="0.5" stroke-opacity="0.28" fill="none"/>
<path d="M1223.5 1667.9L1208.2 1695.9M1223.5 1667.9L1221.1 1680.5M1223.5 1667.9L1230.8 1692.9M1223.5 1667.9L1232.7 1682.6M1223.5 1667.9L1222.5 1712.8M1223.5 1667.9L1209.0 1689.1M1223.5 1667.9L1240.3 1631.5M1223.5 1667.9L1195.4 1687.7M1223.5 1667.9L1218.2 1738.6M1223.5 1667.9L1213.4 1645.6M1223.5 1667.9L1216.2 1710.4M1223.5 1667.9L1250.3 1665.5M1223.5 1667.9L1264.3 1650.8M1223.5 1667.9L1250.2 1631.3M1223.5 1667.9L1219.2 1636.0M1223.5 1667.9L1253.2 1644.1M1223.5 1667.9L1207.6 1675.1M1223.5 1667.9L1243.7 1634.9M1223.5 1667.9L1264.7 1652.4M1223.5 1667.9L1209.0 1689.1M1223.5 1667.9L1240.1 1634.8M1223.5 1667.9L1232.4 1725.2M1223.5 1667.9L1203.4 1697.1M1223.5 1667.9L1213.5 1650.1M1223.5 1667.9L1236.0 1688.3M1223.5 1667.9L1252.8 1687.8M1223.5 1667.9L1250.2 1631.3M1223.5 1667.9L1240.3 1631.5M1223.5 1667.9L1254.1 1646.0M1223.5 1667.9L1219.9 1730.1M1223.5 1667.9L1254.1 1678.4M1223.5 1667.9L1240.3 1631.5M1223.5 1667.9L1201.4 1710.3M1223.5 1667.9L1242.9 1654.7M1223.5 1667.9L1261.9 1653.5M1223.5 1667.9L1211.0 1661.1M1223.5 1667.9L1244.9 1696.1M1223.5 1667.9L1206.5 1681.1M1223.5 1667.9L1261.9 1659.0M1223.5 1667.9L1219.1 1743.9" stroke="#0000ff" stroke-width="0.5" stroke-opacity="0.25" fill="none"/>
<path d="M1224.1 1713.3h0M1231.6 1720.6h0M1256.4 1649.2h0M1240.4 1655.2h0M1202.4 1670.3h0M1217.7 1739.9h0M1216.1 1663.9h0M1250.5 1665.4h0M1209.6 1669.7h0M1210.2 1680.6h0M1223.7 1672.2h0M1242.9 1721.4h0M1218.2 1738.6h0M1242.6 1636.7h0M1203.4 1697.1h0M1219.8 1639.6h0M1205.1 1739.2h0M1201.4 1687.1h0M1220.5 1729.9h0M1240.3 1631.5h0M1214.7 1623.6h0M1225.3 1741.5h0M1201.2 1677.7h0M1227.1 1682.8h0M1230.6 1726.8h0M1238.2 1733.0h0M1256.1 1660.4h0M1234.4 1726.2h0M1234.4 1659.6h0M1239.2 1732.8h0M1254.7 1652.5h0M1202.7 1687.9h0M1245.6 1640.6h0M1219.4 1626.3h0M1243.7 1634.9h0M1220.6 1668.4h0M1236.8 1723.0h0M1207.6 1675.1h0M1229.2 1674.7h0M1205.6 1650.2h0M1262.3 1662.8h0M1246.3 1682.2h0M1248.7 1700.9h0M1199.8 1711.7h0M1214.7 1677.1h0M1245.6 1653.9h0M1225.3 1702.8h0M1255.6 1644.9h0M1218.4 1700.4h0M1254.5 1638.7h0M1215.6 1622.8h0M1222.6 1682.9h0M1250.1 1632.6h0M1212.0 1642.2h0M1261.9 1653.5h0M1239.0 1718.1h0M1207.9 1674.6h0M1201.4 1710.3h0M1249.7 1713.2h0M1246.7 1700.4h0M1250.4 1695.4h0M1262.5 1659.5h0M1236.5 1678.6h0M1205.7 1688.8h0M1229.8 1701.7h0M1213.9 1750.0h0M1248.3 1637.3h0M1222.5 1712.8h0M1225.7 1634.5h0M1257.8 1657.1h0M1218.0 1734.7h0M1220.2 1749.3h0M1216.7 1725.5h0M1207.4 1746.4h0M1208.4 1670.2h0M1256.2 1677.2h0M1214.0 1660.9h0M1213.4 1645.6h0M1241.0 1658.0h0M1214.3 1635.4h0M1214.3 1748.9h0M1249.1 1634.7h0M1250.7 1703.6h0M1220.9 1678.2h0M1219.1 1743.9h0M1232.0 1700.6h0M1209.0 1689.1h0M1217.4 1622.7h0M1246.5 1682.0h0M1221.9 1655.9h0M1252.5 1656.5h0M1210.0 1620.9h0M1225.2 1683.5h0M1204.1 1736.4h0M1252.5 1651.5h0M1240.1 1634.8h0M1212.8 1719.3h0M1228.6 1695.4h0M1236.2 1674.6h0M1232.2 1672.6h0M1224.2 1723.5h0M1215.2 1661.2h0M1253.7 1650.0h0M1219.9 1730.1h0M1241.4 1655.7h0M1251.3 1694.7h0M1216.8 1656.8h0M1211.0 1630.1h0M1209.1 1670.6h0M1245.6 1629.8h0M1240.1 1658.6h0M1234.6 1674.0h0M1216.4 1635.7h0M1223.7 1674.6h0M1205.8 1659.4h0M1223.4 1744.5h0M1211.0 1661.1h0M1232.7 1682.6h0M1204.3 1738.5h0M1195.4 1687.7h0M1232.3 1731.3h0M1238.2 1696.7h0M1216.2 1710.4h0M1243.6 1720.6h0M1206.9 1698.1h0M1205.6 1683.0h0M1222.3 1648.4h0M1250.9 1653.2h0M1253.2 1644.1h0M1223.3 1701.2h0M1221.1 1680.5h0M1233.4 1695.9h0M1206.5 1681.1h0M1232.7 1701.4h0M1233.9 1630.1h0M1217.0 1667.4h0M1204.3 1692.4h0M1200.3 1700.9h0M1219.8 1676.9h0M1208.0 1685.9h0M1215.5 1663.6h0M1227.8 1711.2h0M1218.3 1712.0h0M1209.4 1701.8h0M1212.9 1704.8h0M1212.5 1715.8h0M1228.5 1683.5h0M1219.3 1631.8h0M1221.8 1729.0h0M1254.6 1662.3h0M1208.2 1655.2h0M1206.7 1727.1h0M1214.6 1737.9h0M1214.8 1743.3h0M1213.5 1618.1h0M1238.2 1631.4h0M1264.3 1650.8h0M1240.0 1691.4h0M1231.0 1744.0h0M1255.0 1651.3h0M1244.4 1643.7h0M1242.9 1628.3h0M1225.6 1632.6h0M1222.7 1667.0h0M1219.9 1747.7h0M1222.3 1732.4h0M1242.9 1654.7h0M1235.2 1669.2h0M1242.4 1702.9h0M1234.2 1671.5h0M1201.6 1672.3h0M1239.5 1708.9h0M1261.9 1659.0h0M1239.0 1657.3h0M1233.9 1660.8h0M1205.6 1729.6h0M1224.1 1663.0h0M1205.8 1711.5h0M1249.9 1691.4h0M1235.2 1677.4h0M1215.4 1725.7h0M1201.3 1701.1h0M1245.3 1707.7h0M1211.3 1639.5h0M1205.6 1688.2h0M1264.0 1653.2h0M1230.8 1692.9h0M1214.9 1677.4h0M1239.4 1632.8h0M1213.0 1716.2h0M1220.4 1746.8h0M1208.2 1695.9h0M1245.2 1681.4h0M1215.2 1737.2h0M1237.2 1629.6h0M1213.3 1753.1h0M1249.5 1632.2h0M1254.1 1678.4h0M1235.6 1659.6h0M1236.7 1638.0h0M1236.2 1740.1h0M1246.3 1686.5h0M1232.4 1725.2h0M1200.5 1711.3h0M1255.2 1682.4h0M1223.0 1724.6h0M1226.4 1637.7h0M1250.0 1716.4h0M1230.2 1729.6h0M1197.4 1710.5h0M1216.9 1648.4h0M1236.4 1670.3h0M1251.3 1644.9h0M1230.7 1672.5h0M1209.6 1720.7h0M1218.8 1639.9h0M1214.6 1729.2h0M1247.5 1714.1h0M1214.6 1662.0h0M1233.6 1638.4h0M1264.7 1652.4h0M1216.9 1724.6h0M1243.2 1654.0h0M1252.8 1687.8h0M1196.3 1689.0h0M1222.7 1686.7h0M1210.5 1737.0h0M1231.8 1636.6h0M1238.2 1685.2h0M1206.6 1714.1h0M1198.4 1704.1h0M1209.0 1631.8h0M1222.1 1707.6h0M1246.9 1709.2h0M1248.4 1664.4h0M1263.2 1657.5h0M1201.3 1717.6h0M1228.2 1692.1h0M1228.7 1655.9h0M1227.9 1694.0h0M1206.4 1734.5h0M1257.5 1647.7h0M1212.5 1735.0h0M1253.8 1633.0h0M1195.7 1692.2h0M1213.0 1749.7h0M1199.4 1697.9h0M1204.1 1711.7h0M1257.0 1640.0h0M1254.1 1646.0h0M1256.8 1655.7h0M1211.8 1685.8h0M1208.8 1701.6h0M1220.3 1691.6h0M1250.3 1665.5h0M1232.9 1685.1h0M1223.2 1742.1h0M1220.0 1742.1h0M1226.3 1744.3h0M1211.5 1741.0h0M1244.9 1696.1h0M1236.0 1688.3h0M1219.1 1646.3h0M1244.9 1720.3h0M1250.4 1697.3h0M1207.3 1671.8h0M1222.1 1623.6h0M1239.0 1640.5h0M1247.9 1712.2h0M1198.6 1687.9h0M1201.5 1724.8h0M1250.2 1631.3h0M1248.8 1710.7h0M1209.1 1739.4h0M1208.8 1690.5h0M1224.3 1658.9h0M1217.6 1664.7h0M1217.7 1722.2h0M1206.9 1752.2h0M1239.3 1733.2h0M1202.3 1702.8h0M1258.8 1672.2h0M1219.0 1674.9h0M1220.3 1727.1h0M1238.6 1668.1h0M1236.2 1734.3h0M1213.1 1728.2h0M1215.7 1737.6h0M1257.0 1643.3h0M1213.5 1650.1h0M1237.7 1692.9h0M1244.9 1696.5h0M1210.4 1709.8h0M1226.2 1647.5h0M1230.9 1737.8h0M1219.2 1636.0h0" stroke="#0000ff" stroke-width="4.8" stroke-linecap="round" fill="none"/>
<path d="M1209.3 1615.7h0M1219.0 1634.2h0M1210.8 1633.7h0M1220.2 1630.4h0M1221.1 1630.2h0M1209.7 1627.9h0M1219.1 1620.1h0M1211.0 1627.4h0M1218.0 1630.8h0M1221.5 1632.6h0M1211.0 1633.5h0M1217.2 1629.7h0M1216.5 1626.0h0M1211.4 1630.2h0M1215.5 1630.4h0M1215.1 1626.1h0M1213.7 1632.9h0M1213.2 1633.2h0M1220.9 1631.8h0M1217.2 1618.9h0M1213.7 1622.5h0M1215.9 1634.3h0M1216.8 1626.5h0M1214.3 1631.7h0M1219.4 1617.9h0M1210.2 1635.2h0M1218.2 1628.5h0" stroke="#0000ff" stroke-width="4.8" stroke-linecap="round" fill="none"/>
<path d="M1258.3 1650.3h0M1247.5 1638.0h0M1238.7 1635.9h0M1257.7 1651.9h0M1251.0 1654.0h0M1263.0 1638.6h0M1238.7 1639.4h0M1260.2 1653.8h0M1246.7 1654.1h0M1261.6 1635.2h0M1247.4 1637.9h0M1241.6 1652.8h0M1256.8 1651.2h0M1244.1 1641.4h0M1261.1 1654.0h0M1254.1 1650.7h0M1262.7 1643.1h0M1257.6 1644.9h0M1251.1 1636.3h0M1255.5 1642.2h0M1240.9 1645.5h0M1238.3 1634.1h0M1245.6 1639.6h0M1263.7 1647.3h0M1254.0 1645.0h0M1244.4 1647.6h0M1262.0 1649.6h0M1247.6 1644.9h0M1255.9 1657.1h0M1261.0 1649.3h0M1247.8 1634.7h0M1244.2 1647.4h0M1250.1 1632.1h0M1257.9 1631.7h0M1243.7 1646.9h0M1250.7 1643.9h0M1247.6 1656.5h0M1259.1 1631.4h0M1259.7 1630.5h0M1255.9 1654.7h0M1252.7 1635.5h0M1259.5 1643.1h0M1243.9 1639.5h0M1243.0 1636.4h0M1243.6 1654.8h0M1251.1 1654.1h0M1240.0 1648.0h0M1261.0 1652.6h0M1254.1 1646.6h0M1253.3 1642.7h0M1261.1 1647.6h0M1247.5 1634.6h0M1250.5 1641.2h0M1253.0 1653.4h0M1255.8 1638.5h0M1256.7 1651.0h0M1244.8 1641.0h0M1239.9 1640.8h0M1245.6 1645.0h0M1240.0 1648.0h0M1247.3 1648.6h0M1260.2 1659.5h0M1260.9 1648.6h0M1250.1 1651.2h0M1250.4 1643.5h0" stroke="#0000ff" stroke-width="4.8" stroke-linecap="round" fill="none"/>
<path d="M1206.5 1687.2h0M1197.0 1689.0h0M1215.4 1690.0h0M1195.2 1680.1h0M1204.4 1688.7h0M1197.3 1673.3h0M1209.6 1693.4h0M1214.1 1696.9h0M1203.1 1683.7h0M1202.3 1676.7h0M1210.7 1673.3h0M1207.0 1683.8h0M1208.8 1670.1h0M1201.4 1694.4h0M1195.3 1680.1h0M1210.0 1678.4h0M1214.0 1695.2h0M1203.6 1681.5h0M1203.8 1684.0h0M1200.2 1690.5h0M1211.9 1678.6h0M1208.7 1672.4h0M1198.2 1700.3h0M1200.3 1699.6h0M1210.2 1690.3h0M1210.9 1682.2h0M1209.7 1681.1h0M1212.8 1674.1h0M1208.4 1688.5h0M1205.9 1677.8h0M1206.1 1690.8h0M1200.3 1676.4h0M1198.8 1699.0h0M1214.0 1677.3h0M1207.8 1696.8h0M1213.0 1675.6h0M1208.4 1700.2h0M1214.2 1679.0h0M1207.7 1691.9h0M1215.0 1671.7h0M1197.0 1695.5h0M1216.8 1696.6h0M1201.0 1677.4h0M1210.8 1676.2h0M1207.4 1687.9h0M1200.8 1682.0h0M1217.5 1698.3h0M1200.2 1680.6h0M1211.2 1685.2h0M1208.2 1681.2h0M1206.4 1677.1h0M1212.7 1670.0h0M1216.2 1688.2h0M1212.7 1698.9h0M1213.8 1690.2h0M1202.9 1697.5h0M1207.5 1674.4h0M1205.4 1698.3h0M1216.4 1695.7h0M1205.6 1675.5h0" stroke="#0000ff" stroke-width="4.8" stroke-linecap="round" fill="none"/>
<circle cx="1204.5" cy="1760.5" r="1.5" fill="#a52a2a"/>
<circle cx="1036" cy="1572.9" r="2.6" fill="none" stroke="#000" stroke-width="1.6"/>
<circle cx="1033.6" cy="1580.4" r="2.6" fill="none" stroke="#000" stroke-width="1.6"/>
<circle cx="980.7" cy="1687" r="3.2" fill="#111"/>
<circle cx="1087.7" cy="1836" r="2.6" fill="none" stroke="#000" stroke-width="1.6"/>
<circle cx="1102.5" cy="1852.3" r="2.6" fill="none" stroke="#000" stroke-width="1.6"/>
<circle cx="1210.4" cy="1622.9" r="3.2" fill="#111"/>
<circle cx="1223.5" cy="1667.9" r="3.2" fill="#111"/>
<text x="1016.8" y="1566.7" style="font:italic 17.4px 'Liberation Sans', Arial, Helvetica, sans-serif">C33A12.4</text>
<text x="1052.5" y="1587.6" style="font:italic 17.4px 'Liberation Sans', Arial, Helvetica, sans-serif">che&#8722;3</text>
<text x="945.5" y="1661.9" style="font:italic 17.4px 'Liberation Sans', Arial, Helvetica, sans-serif">kcnl&#8722;1</text>
<text x="978.2" y="1682.7" style="font:italic 17.4px 'Liberation Sans', Arial, Helvetica, sans-serif">rbf&#8722;1</text>
<text x="1090" y="1809.5" style="font:italic 17.4px 'Liberation Sans', Arial, Helvetica, sans-serif">F09C3.2</text>
<text x="1094" y="1846.1" style="font:italic 17.4px 'Liberation Sans', Arial, Helvetica, sans-serif">gopc&#8722;1</text>
<text x="1217.7" y="1615" style="font:italic 17.4px 'Liberation Sans', Arial, Helvetica, sans-serif">dct&#8722;16</text>
<text x="1264" y="1680.4" style="font:italic 17.4px 'Liberation Sans', Arial, Helvetica, sans-serif">col&#8722;124</text>
<text x="100" y="2372.5" style="font:25px 'Liberation Sans', Arial, Helvetica, sans-serif">Hypodermis</text>
<path d="M275.0 2450.0L263.7 2599.9M270.0 2446.0L274.4 2505.9M275.0 2450.0L231.0 2510.5M275.0 2450.0L287.4 2520.4M270.0 2446.0L220.7 2529.1M275.0 2450.0L228.7 2585.0M275.0 2450.0L264.6 2603.0M270.0 2446.0L280.9 2435.4M270.0 2446.0L260.6 2509.7M275.0 2450.0L284.9 2539.3M275.0 2450.0L265.0 2595.2M270.0 2446.0L259.0 2515.5M275.0 2450.0L269.5 2456.3M270.0 2446.0L267.4 2615.6M275.0 2450.0L288.9 2625.7M270.0 2446.0L267.8 2436.7M270.0 2446.0L274.8 2451.6M270.0 2446.0L280.1 2621.2M270.0 2446.0L286.5 2500.3M275.0 2450.0L286.8 2510.2M270.0 2446.0L255.1 2478.7M275.0 2450.0L299.3 2657.0M275.0 2450.0L276.7 2522.0M275.0 2450.0L241.5 2582.4M270.0 2446.0L311.4 2678.6M275.0 2450.0L260.6 2609.9M275.0 2450.0L242.9 2453.2M275.0 2450.0L260.4 2607.6M275.0 2450.0L280.2 2624.7M275.0 2450.0L265.9 2496.1M275.0 2450.0L268.6 2416.8M275.0 2450.0L295.3 2647.4M270.0 2446.0L276.4 2616.7M275.0 2450.0L266.6 2517.4M275.0 2450.0L224.0 2545.9M275.0 2450.0L212.6 2579.2M275.0 2450.0L280.7 2442.6M275.0 2450.0L276.6 2495.7M275.0 2450.0L281.3 2447.6M270.0 2446.0L251.3 2435.9M275.0 2450.0L248.1 2514.2M275.0 2450.0L244.0 2514.9M275.0 2450.0L259.0 2515.5M275.0 2450.0L282.6 2497.0M270.0 2446.0L314.6 2680.9M270.0 2446.0L260.9 2615.5M270.0 2446.0L235.4 2591.7M270.0 2446.0L268.3 2587.7M270.0 2446.0L284.5 2534.4M270.0 2446.0L206.4 2545.6M270.0 2446.0L236.8 2568.6M275.0 2450.0L214.8 2543.8M275.0 2450.0L211.9 2551.3M270.0 2446.0L299.9 2656.0M275.0 2450.0L290.9 2570.2M270.0 2446.0L280.0 2432.6M270.0 2446.0L268.6 2634.2M275.0 2450.0L216.7 2513.2M275.0 2450.0L247.4 2596.7M270.0 2446.0L271.0 2516.4M270.0 2446.0L267.8 2431.3M270.0 2446.0L266.0 2581.5M270.0 2446.0L298.0 2667.9M270.0 2446.0L240.8 2513.7M270.0 2446.0L266.6 2648.8M270.0 2446.0L206.0 2501.4M270.0 2446.0L275.4 2617.1M270.0 2446.0L275.9 2557.5M275.0 2450.0L285.6 2558.7M275.0 2450.0L276.9 2445.7M270.0 2446.0L230.0 2617.7M275.0 2450.0L290.2 2560.0M270.0 2446.0L264.5 2621.6M270.0 2446.0L263.0 2425.1M275.0 2450.0L298.5 2640.4M270.0 2446.0L246.3 2620.5M275.0 2450.0L294.1 2642.5M275.0 2450.0L292.7 2598.3M275.0 2450.0L286.9 2513.7M270.0 2446.0L205.8 2555.2M275.0 2450.0L205.0 2518.9M270.0 2446.0L274.8 2493.2M275.0 2450.0L242.4 2469.3M275.0 2450.0L286.0 2476.5M270.0 2446.0L242.1 2530.8M275.0 2450.0L290.9 2624.4M275.0 2450.0L271.4 2564.6M270.0 2446.0L260.6 2416.0M275.0 2450.0L259.4 2607.5M275.0 2450.0L264.9 2613.8M275.0 2450.0L265.6 2488.7M270.0 2446.0L230.9 2516.2M270.0 2446.0L259.4 2607.5M275.0 2450.0L252.3 2415.4M270.0 2446.0L278.2 2560.0M270.0 2446.0L258.9 2500.0M270.0 2446.0L247.1 2480.7M270.0 2446.0L260.5 2531.8M270.0 2446.0L252.6 2560.8M275.0 2450.0L253.7 2599.3M275.0 2450.0L238.5 2519.6M270.0 2446.0L264.4 2560.7M275.0 2450.0L248.0 2428.1M270.0 2446.0L240.7 2557.0M275.0 2450.0L257.8 2548.2M275.0 2450.0L246.1 2449.1M275.0 2450.0L288.7 2561.3M275.0 2450.0L218.6 2522.7M275.0 2450.0L262.7 2591.3M270.0 2446.0L257.0 2589.8M275.0 2450.0L271.0 2506.6M270.0 2446.0L272.3 2646.0M270.0 2446.0L257.0 2520.0M275.0 2450.0L273.1 2482.6M275.0 2450.0L265.7 2542.8M270.0 2446.0L290.9 2543.8M275.0 2450.0L274.0 2535.4M270.0 2446.0L229.6 2574.9M270.0 2446.0L248.7 2590.6M270.0 2446.0L267.7 2526.7M270.0 2446.0L219.1 2596.5M270.0 2446.0L240.6 2623.1M275.0 2450.0L239.5 2545.4M275.0 2450.0L266.6 2517.4M275.0 2450.0L258.2 2519.4M275.0 2450.0L260.2 2525.5M275.0 2450.0L269.3 2423.1M275.0 2450.0L220.5 2528.2M275.0 2450.0L263.0 2425.1M275.0 2450.0L202.8 2510.2M270.0 2446.0L250.1 2600.1M275.0 2450.0L263.0 2425.1M275.0 2450.0L286.9 2511.4M270.0 2446.0L277.3 2622.9M270.0 2446.0L242.4 2605.6M270.0 2446.0L255.3 2476.8M270.0 2446.0L276.0 2440.6M270.0 2446.0L224.4 2549.5M275.0 2450.0L277.0 2586.3M275.0 2450.0L271.2 2641.5M275.0 2450.0L205.0 2544.7M270.0 2446.0L290.0 2497.4M275.0 2450.0L264.8 2570.8M275.0 2450.0L256.8 2606.3M270.0 2446.0L203.7 2560.6M270.0 2446.0L237.5 2463.9M275.0 2450.0L311.4 2678.6M275.0 2450.0L277.9 2447.3M270.0 2446.0L227.6 2567.5M270.0 2446.0L288.7 2541.6M275.0 2450.0L235.6 2544.2M275.0 2450.0L288.4 2616.9M270.0 2446.0L260.9 2615.5M275.0 2450.0L237.7 2486.2M270.0 2446.0L239.2 2561.2M270.0 2446.0L250.4 2626.2M270.0 2446.0L287.8 2448.1M270.0 2446.0L220.7 2529.1M270.0 2446.0L220.8 2481.5M275.0 2450.0L281.3 2447.6M275.0 2450.0L274.8 2535.7M275.0 2450.0L276.1 2465.3M270.0 2446.0L267.9 2459.8M270.0 2446.0L265.0 2595.2M270.0 2446.0L258.6 2589.2M275.0 2450.0L273.3 2618.9M275.0 2450.0L237.0 2540.7M270.0 2446.0L301.6 2650.5M275.0 2450.0L225.7 2546.5M275.0 2450.0L247.1 2537.6M270.0 2446.0L267.9 2636.2M270.0 2446.0L230.9 2569.8M270.0 2446.0L269.5 2587.9M275.0 2450.0L228.1 2581.7M275.0 2450.0L248.0 2558.0M275.0 2450.0L283.8 2573.1M275.0 2450.0L293.2 2620.3M275.0 2450.0L251.5 2571.8M275.0 2450.0L272.1 2474.8M270.0 2446.0L264.4 2565.5M270.0 2446.0L258.6 2589.2M270.0 2446.0L246.8 2448.4M270.0 2446.0L249.7 2500.8M270.0 2446.0L266.6 2520.7M275.0 2450.0L280.8 2631.4M275.0 2450.0L270.9 2506.6M270.0 2446.0L290.9 2462.9M270.0 2446.0L250.4 2626.2M275.0 2450.0L241.1 2556.3M275.0 2450.0L237.3 2621.7M275.0 2450.0L226.2 2494.0M270.0 2446.0L240.6 2623.1M270.0 2446.0L294.1 2642.5M270.0 2446.0L264.5 2621.6M275.0 2450.0L238.5 2496.9M275.0 2450.0L254.5 2562.7M275.0 2450.0L249.7 2634.8M275.0 2450.0L212.9 2503.0M270.0 2446.0L232.7 2529.4M275.0 2450.0L260.7 2618.7M275.0 2450.0L299.4 2660.8M270.0 2446.0L280.7 2583.9M270.0 2446.0L266.3 2606.6M270.0 2446.0L210.0 2571.1M275.0 2450.0L224.8 2607.9M270.0 2446.0L241.1 2556.3M275.0 2450.0L249.6 2440.9M270.0 2446.0L247.9 2627.4M270.0 2446.0L240.8 2513.7M275.0 2450.0L255.8 2551.7M270.0 2446.0L291.7 2479.2M270.0 2446.0L245.3 2469.5M275.0 2450.0L289.2 2510.2M275.0 2450.0L290.8 2423.1M270.0 2446.0L261.1 2559.5M275.0 2450.0L254.6 2441.2M275.0 2450.0L214.5 2565.4M275.0 2450.0L230.0 2617.7M275.0 2450.0L276.8 2547.2M275.0 2450.0L289.4 2502.3M270.0 2446.0L228.7 2585.0M275.0 2450.0L249.7 2514.4M275.0 2450.0L243.9 2583.1M275.0 2450.0L277.3 2592.6M270.0 2446.0L234.9 2499.2M270.0 2446.0L286.7 2623.0M275.0 2450.0L249.4 2532.2M275.0 2450.0L226.2 2586.8M275.0 2450.0L246.5 2562.7M275.0 2450.0L260.9 2615.5M275.0 2450.0L224.9 2549.1M275.0 2450.0L216.6 2487.1M270.0 2446.0L204.3 2520.7M270.0 2446.0L251.4 2429.7M275.0 2450.0L279.9 2613.4M270.0 2446.0L247.9 2627.4M270.0 2446.0L284.5 2534.4M270.0 2446.0L273.1 2441.6M275.0 2450.0L288.6 2632.6M270.0 2446.0L253.2 2427.9M270.0 2446.0L229.2 2494.6M270.0 2446.0L245.8 2494.1M270.0 2446.0L283.6 2516.2M270.0 2446.0L248.1 2591.5M275.0 2450.0L273.1 2538.0M270.0 2446.0L210.3 2508.8M275.0 2450.0L235.8 2597.2M275.0 2450.0L234.5 2611.6M275.0 2450.0L265.6 2488.7M270.0 2446.0L288.4 2540.3M275.0 2450.0L285.0 2578.5M270.0 2446.0L228.1 2554.6M270.0 2446.0L269.3 2423.1M270.0 2446.0L249.7 2514.4M270.0 2446.0L282.5 2416.1M275.0 2450.0L251.4 2429.7M270.0 2446.0L287.1 2633.9M275.0 2450.0L283.8 2456.4M270.0 2446.0L269.5 2587.9M275.0 2450.0L287.9 2559.2" stroke="#40e0d0" stroke-width="0.6" stroke-opacity="0.3" fill="none"/>
<path d="M294.5 2654.5L273.3 2618.9M294.5 2654.5L217.3 2603.3M294.5 2654.5L274.8 2535.7M294.5 2654.5L286.1 2516.2M294.5 2654.5L252.3 2522.2M294.5 2654.5L272.0 2475.1M294.5 2654.5L235.2 2513.6M294.5 2654.5L267.0 2619.1M294.5 2654.5L223.0 2516.4M294.5 2654.5L260.3 2583.3M294.5 2654.5L247.1 2537.6M294.5 2654.5L223.1 2527.1M294.5 2654.5L287.6 2511.2M294.5 2654.5L213.6 2589.5M294.5 2654.5L286.5 2500.3M294.5 2654.5L243.4 2482.6M294.5 2654.5L235.1 2528.5M294.5 2654.5L256.0 2525.3M294.5 2654.5L297.1 2639.1M294.5 2654.5L216.7 2557.0M294.5 2654.5L238.5 2519.6M294.5 2654.5L258.4 2515.5M294.5 2654.5L234.5 2474.9M294.5 2654.5L234.5 2474.9M294.5 2654.5L290.2 2560.0M294.5 2654.5L289.4 2578.8M294.5 2654.5L252.0 2463.8M294.5 2654.5L211.5 2486.0M294.5 2654.5L224.7 2582.6M294.5 2654.5L243.3 2470.6M294.5 2654.5L238.7 2569.4M294.5 2654.5L274.8 2493.2M294.5 2654.5L267.0 2619.1M294.5 2654.5L262.8 2534.0M294.5 2654.5L256.1 2625.1M294.5 2654.5L239.4 2541.7M294.5 2654.5L277.8 2634.0M294.5 2654.5L269.6 2526.5M294.5 2654.5L220.8 2481.5M294.5 2654.5L273.1 2538.0M294.5 2654.5L229.2 2494.6M294.5 2654.5L209.1 2569.3M294.5 2654.5L287.2 2438.5M294.5 2654.5L243.4 2600.3M294.5 2654.5L282.5 2648.1M294.5 2654.5L257.0 2589.8M294.5 2654.5L275.4 2617.1M294.5 2654.5L206.5 2519.4M294.5 2654.5L243.6 2490.9M294.5 2654.5L289.0 2590.9M294.5 2654.5L247.1 2452.8M294.5 2654.5L280.7 2583.9M294.5 2654.5L282.5 2416.1M294.5 2654.5L239.2 2561.2M294.5 2654.5L246.3 2620.5M294.5 2654.5L257.2 2495.0M294.5 2654.5L275.6 2612.4M294.5 2654.5L286.1 2516.2M294.5 2654.5L259.4 2571.3M294.5 2654.5L248.1 2438.7" stroke="#40e0d0" stroke-width="0.6" stroke-opacity="0.3" fill="none"/>
<path d="M285.3 2621.7h0M245.8 2447.6h0M252.3 2522.2h0M280.5 2459.5h0M261.6 2486.4h0M211.3 2487.5h0M284.7 2468.6h0M262.6 2534.8h0M267.8 2640.0h0M248.9 2553.1h0M264.8 2570.8h0M259.0 2515.5h0M277.1 2564.3h0M256.5 2543.3h0M227.1 2568.7h0M299.0 2643.4h0M262.6 2416.1h0M248.0 2428.1h0M256.2 2562.5h0M217.3 2544.1h0M211.5 2486.0h0M219.9 2525.1h0M249.9 2572.8h0M253.8 2416.5h0M276.8 2547.2h0M223.6 2492.7h0M250.7 2562.2h0M269.6 2519.4h0M250.1 2531.6h0M267.5 2560.8h0M222.8 2540.3h0M291.4 2454.3h0M283.5 2559.4h0M237.0 2540.7h0M213.6 2589.5h0M238.9 2555.2h0M248.1 2591.5h0M269.3 2423.1h0M215.1 2560.6h0M215.3 2542.2h0M217.3 2498.9h0M290.1 2534.6h0M230.6 2557.3h0M221.6 2483.0h0M276.6 2495.7h0M224.9 2549.1h0M314.6 2680.9h0M287.4 2532.5h0M284.1 2481.8h0M250.2 2613.4h0M283.8 2573.1h0M243.6 2490.9h0M280.9 2435.4h0M281.9 2615.8h0M263.3 2493.1h0M286.1 2516.2h0M244.2 2570.4h0M220.7 2529.1h0M280.7 2583.9h0M279.5 2499.7h0M279.0 2607.9h0M216.7 2513.2h0M274.4 2505.9h0M231.9 2532.7h0M242.9 2453.2h0M274.4 2445.0h0M210.8 2557.9h0M265.6 2586.2h0M260.5 2531.8h0M268.5 2469.9h0M225.8 2578.2h0M258.0 2528.5h0M288.1 2482.3h0M220.2 2577.2h0M241.0 2482.4h0M264.1 2596.8h0M257.0 2589.8h0M250.5 2517.0h0M247.8 2573.2h0M227.6 2567.5h0M252.4 2610.0h0M235.6 2544.2h0M286.8 2510.2h0M279.4 2512.2h0M242.5 2509.2h0M290.9 2564.5h0M264.4 2513.7h0M216.7 2572.4h0M287.6 2508.6h0M268.3 2482.3h0M240.6 2623.1h0M265.7 2542.8h0M262.0 2588.7h0M268.6 2497.9h0M292.9 2438.8h0M245.0 2457.8h0M230.7 2590.7h0M288.9 2627.1h0M290.6 2554.4h0M256.0 2577.1h0M237.7 2485.3h0M243.2 2459.2h0M224.3 2612.6h0M281.1 2609.0h0M293.2 2490.1h0M210.2 2509.4h0M251.2 2617.0h0M302.7 2648.2h0M274.1 2420.4h0M275.5 2601.5h0M272.0 2475.1h0M266.9 2587.8h0M279.0 2654.4h0M227.5 2612.0h0M240.4 2559.9h0M276.7 2586.5h0M256.3 2594.6h0M215.2 2546.3h0M228.7 2585.0h0M282.1 2432.2h0M273.4 2605.9h0M271.9 2604.1h0M287.5 2626.9h0M260.6 2416.0h0M244.0 2514.9h0M269.6 2526.5h0M211.4 2520.6h0M273.1 2538.0h0M235.8 2597.2h0M239.3 2499.7h0M290.4 2538.0h0M279.4 2502.4h0M209.0 2574.8h0M258.2 2519.4h0M231.0 2510.5h0M249.4 2532.2h0M272.8 2563.7h0M282.0 2491.5h0M283.2 2499.7h0M206.1 2545.7h0M285.4 2621.6h0M280.5 2535.4h0M252.8 2558.8h0M249.9 2520.4h0M250.2 2583.5h0M263.8 2583.2h0M251.4 2512.9h0M290.8 2423.1h0M265.3 2463.0h0M276.9 2445.7h0M239.2 2561.2h0M255.3 2476.8h0M224.8 2607.9h0M257.9 2493.6h0M255.1 2478.7h0M245.2 2451.2h0M266.3 2606.6h0M272.4 2436.3h0M256.0 2546.7h0M212.1 2556.6h0M278.1 2426.9h0M283.6 2516.2h0M246.8 2448.4h0M275.6 2625.7h0M274.6 2520.4h0M271.6 2453.9h0M252.1 2616.7h0M223.1 2527.1h0M247.0 2415.1h0M285.0 2578.5h0M258.6 2544.2h0M234.9 2520.0h0M204.7 2558.0h0M238.5 2459.7h0M255.7 2623.8h0M248.9 2617.5h0M216.7 2526.5h0M274.8 2535.7h0M273.2 2415.0h0M250.4 2617.9h0M233.2 2569.8h0M286.0 2573.6h0M289.4 2578.8h0M260.0 2542.4h0M267.8 2623.9h0M227.5 2483.0h0M275.4 2617.1h0M237.7 2486.2h0M282.6 2432.8h0M273.4 2414.1h0M258.4 2515.5h0M211.4 2527.1h0M275.9 2557.5h0M288.7 2541.6h0M258.0 2565.5h0M284.4 2657.3h0M222.8 2486.6h0M262.8 2644.7h0M252.6 2609.5h0M271.4 2564.6h0M235.9 2606.0h0M273.1 2482.6h0M278.5 2492.4h0M235.0 2602.9h0M290.9 2624.4h0M281.6 2608.7h0M271.4 2513.0h0M298.4 2649.8h0M282.5 2416.1h0M277.3 2622.9h0M265.0 2595.2h0M203.2 2510.2h0M291.4 2481.1h0M288.8 2529.6h0M270.5 2574.5h0M296.7 2640.1h0M217.4 2567.5h0M262.5 2442.4h0M242.5 2511.0h0M288.4 2540.3h0M266.0 2539.3h0M289.0 2590.9h0M286.5 2430.5h0M241.1 2556.3h0M253.7 2599.3h0M285.4 2551.9h0M260.5 2431.1h0M219.4 2598.7h0M253.4 2429.0h0M283.8 2625.8h0M291.7 2666.7h0M255.6 2542.6h0M276.7 2522.0h0M301.6 2650.5h0M213.0 2588.4h0M278.3 2574.7h0M223.2 2512.3h0M272.1 2474.8h0M277.6 2579.0h0M226.6 2557.0h0M249.7 2500.8h0M231.0 2545.9h0M277.4 2514.5h0M282.6 2497.0h0M230.0 2617.7h0M291.9 2456.8h0M232.2 2472.6h0M286.0 2476.5h0M302.7 2658.6h0M271.9 2434.0h0M234.5 2474.9h0M225.3 2582.6h0M236.7 2568.5h0M250.5 2565.2h0M205.0 2518.9h0M263.1 2551.6h0M260.2 2606.6h0M288.0 2644.6h0M223.0 2516.4h0M289.8 2570.3h0M237.9 2625.7h0M284.9 2539.3h0M264.4 2592.7h0M249.7 2634.8h0M300.8 2674.0h0M266.5 2421.1h0M288.4 2616.9h0M252.1 2436.5h0M282.1 2508.8h0M257.1 2498.0h0M287.0 2547.8h0M271.0 2516.4h0M254.6 2441.2h0M279.0 2500.3h0M245.0 2495.5h0M288.6 2608.9h0M251.2 2527.5h0M232.5 2511.9h0M263.9 2542.3h0M297.5 2643.7h0M258.2 2417.5h0M286.5 2500.3h0M274.0 2535.4h0M252.7 2542.5h0M211.9 2508.0h0M251.3 2584.2h0M260.4 2607.6h0M258.3 2633.4h0M209.6 2512.0h0M285.5 2565.9h0M240.8 2584.0h0M274.6 2533.4h0M280.0 2616.3h0M283.7 2507.7h0M263.5 2428.8h0M278.3 2580.6h0M295.3 2647.4h0M253.1 2522.0h0M265.8 2445.0h0M231.1 2488.1h0M308.1 2667.3h0M275.3 2470.5h0M262.1 2511.9h0M269.5 2456.3h0M258.5 2435.4h0M251.3 2435.9h0M259.4 2571.3h0M242.4 2490.2h0M233.8 2555.0h0M289.2 2510.2h0M267.0 2619.1h0M221.0 2494.0h0M274.8 2451.6h0M229.3 2596.2h0M257.0 2595.4h0M214.0 2500.6h0M291.7 2597.4h0M216.9 2492.6h0M247.9 2540.9h0M235.2 2505.2h0M220.1 2590.2h0M214.8 2543.8h0M218.6 2522.7h0M266.6 2520.7h0M242.1 2530.8h0M247.8 2483.4h0M247.1 2480.7h0M265.8 2648.0h0M256.7 2623.6h0M214.4 2489.3h0M277.2 2609.1h0M224.2 2572.6h0M257.5 2560.0h0M249.1 2505.7h0M287.2 2418.4h0M235.2 2513.6h0M206.0 2501.4h0M258.2 2509.2h0M271.2 2475.9h0M268.5 2587.8h0M203.8 2500.7h0M229.6 2616.4h0M239.0 2533.7h0M221.6 2504.8h0M226.2 2494.0h0M291.1 2562.5h0M268.9 2573.0h0M224.7 2582.6h0M262.8 2635.5h0M273.3 2618.9h0M279.7 2489.1h0M246.3 2620.5h0M287.2 2508.9h0M250.8 2509.1h0M212.0 2551.1h0M251.7 2529.1h0M283.5 2598.3h0M226.2 2512.1h0M260.6 2609.9h0M254.5 2562.7h0M223.2 2536.6h0M284.5 2534.4h0M254.6 2414.2h0M237.5 2463.9h0M225.2 2555.4h0M270.8 2639.7h0M289.3 2646.8h0M245.3 2448.1h0M226.8 2495.5h0M234.3 2590.2h0M214.5 2574.7h0M255.8 2615.6h0M246.7 2518.3h0M249.2 2622.8h0M284.8 2450.8h0M261.9 2560.3h0M258.6 2589.2h0M260.7 2461.9h0M271.1 2559.6h0M288.9 2625.7h0M259.5 2632.4h0M256.9 2635.4h0M290.8 2582.6h0M233.3 2561.7h0M246.6 2556.9h0M276.4 2628.8h0M287.1 2633.9h0M259.0 2513.4h0M284.1 2485.4h0M279.5 2505.8h0M246.1 2448.2h0M249.7 2514.4h0M260.9 2555.1h0M267.2 2424.5h0M213.3 2550.0h0M232.3 2531.0h0M250.4 2626.2h0M228.5 2567.2h0M275.3 2512.8h0M226.2 2586.8h0M265.6 2566.4h0M249.0 2517.1h0M266.6 2517.4h0M255.4 2584.5h0M269.5 2587.9h0M267.6 2446.3h0M296.1 2648.5h0M259.4 2454.0h0M206.4 2509.8h0M258.6 2633.1h0M236.1 2548.5h0M277.0 2586.3h0M268.3 2587.7h0M239.4 2541.7h0M255.8 2551.7h0M271.0 2581.5h0M276.9 2515.0h0M263.0 2425.1h0M286.7 2623.0h0M234.8 2592.6h0M277.3 2592.6h0M277.5 2449.8h0M279.9 2613.4h0M255.3 2440.5h0M216.1 2499.3h0M285.7 2556.9h0M223.1 2519.7h0M203.0 2495.1h0M210.3 2508.8h0M274.7 2628.7h0M267.7 2526.7h0M216.7 2557.0h0M276.2 2544.6h0M258.4 2527.2h0M254.8 2634.4h0M279.7 2553.1h0M264.4 2560.7h0M229.1 2555.0h0M229.5 2564.3h0M229.1 2518.4h0M260.3 2583.3h0M267.9 2636.2h0M289.4 2502.3h0M272.3 2646.0h0M242.4 2469.3h0M287.8 2448.1h0M265.9 2496.1h0M224.4 2549.5h0M231.5 2504.2h0M235.2 2579.7h0M259.8 2502.1h0M217.6 2524.5h0M292.1 2581.1h0M266.0 2581.5h0M288.5 2418.9h0M291.7 2479.2h0M264.6 2603.0h0M294.1 2642.5h0M292.7 2598.3h0M217.2 2541.1h0M232.9 2474.6h0M288.6 2632.6h0M261.1 2559.5h0M247.1 2517.2h0M246.1 2449.1h0M280.1 2621.2h0M247.8 2540.0h0M260.0 2560.3h0M225.7 2546.5h0M214.5 2542.6h0M222.6 2478.7h0M294.0 2651.5h0M272.5 2560.5h0M253.2 2518.9h0M278.0 2432.9h0M221.5 2502.8h0M256.9 2603.0h0M283.5 2493.7h0M230.9 2516.2h0M206.4 2545.6h0M216.5 2520.5h0M289.3 2444.9h0M229.3 2580.9h0M289.0 2632.3h0M230.6 2563.4h0M287.9 2542.7h0M263.3 2434.4h0M222.6 2525.2h0M285.4 2543.3h0M264.4 2565.5h0M259.4 2528.7h0M216.6 2487.1h0M275.7 2502.7h0M243.2 2480.3h0M234.5 2577.5h0M239.7 2621.4h0M280.8 2631.4h0M265.2 2477.3h0M228.7 2569.8h0M292.9 2481.3h0M234.3 2608.4h0M206.9 2507.7h0M274.1 2582.5h0M276.0 2638.4h0M227.1 2539.2h0M239.5 2545.4h0M288.1 2436.5h0M246.5 2562.7h0M281.7 2417.7h0M249.5 2452.1h0M232.4 2574.7h0M209.1 2569.3h0M243.8 2506.0h0M218.0 2559.8h0M225.4 2552.4h0M277.6 2556.2h0M240.6 2617.8h0M202.8 2510.2h0M247.4 2596.7h0M291.0 2600.4h0M248.0 2507.3h0M210.4 2490.6h0M284.2 2553.7h0M236.5 2529.2h0M263.1 2484.2h0M257.8 2548.2h0M290.9 2570.2h0M239.6 2554.7h0M242.5 2480.6h0M220.8 2481.5h0M209.6 2559.4h0M223.4 2487.5h0M210.7 2543.8h0M204.2 2548.0h0M246.9 2560.4h0M228.1 2554.6h0M243.3 2628.2h0M293.2 2620.3h0M235.3 2470.6h0M235.1 2528.5h0M258.4 2635.3h0M238.6 2558.7h0M204.3 2520.7h0M298.0 2653.6h0M241.5 2565.5h0M308.1 2672.0h0M299.3 2657.0h0M243.4 2482.6h0M266.1 2567.0h0M273.6 2542.3h0M270.9 2506.6h0M231.4 2530.9h0M212.1 2498.1h0M287.5 2429.2h0M267.8 2436.7h0M251.6 2546.7h0M233.7 2619.1h0M239.8 2572.6h0M289.2 2565.5h0M259.2 2614.3h0M254.3 2601.0h0M232.7 2529.4h0M246.6 2482.1h0M272.0 2547.5h0M261.9 2450.1h0M247.1 2452.8h0M260.8 2446.1h0M231.5 2579.3h0M213.1 2587.9h0M257.0 2520.0h0M248.1 2438.7h0M286.9 2511.4h0M255.5 2455.6h0M218.4 2567.3h0M245.9 2590.7h0M221.9 2556.6h0M260.7 2481.6h0M286.3 2596.5h0M250.8 2547.3h0M271.8 2556.6h0M290.5 2643.6h0M280.7 2442.6h0M307.7 2661.6h0M286.2 2512.9h0M290.1 2628.5h0M228.7 2608.9h0M273.1 2441.6h0M266.1 2604.1h0M229.2 2494.6h0M282.7 2588.1h0M267.9 2459.8h0M290.9 2462.9h0M214.5 2565.4h0M273.6 2654.4h0M223.4 2561.2h0M236.6 2563.4h0M262.7 2619.0h0M282.2 2495.5h0M301.2 2671.2h0M204.0 2515.7h0M247.9 2627.4h0M256.4 2470.6h0M269.5 2542.7h0M206.3 2499.3h0M215.0 2565.7h0M216.8 2509.5h0M272.1 2434.1h0M263.2 2482.4h0M245.3 2469.5h0M249.5 2583.2h0M212.6 2579.2h0M281.3 2563.1h0M242.5 2455.8h0M250.1 2596.5h0M214.1 2529.6h0M261.7 2435.7h0M296.9 2663.9h0M236.6 2493.0h0M250.2 2496.0h0M244.1 2451.5h0M258.1 2623.7h0M251.1 2620.3h0M281.2 2541.5h0M254.3 2481.5h0M277.9 2447.3h0M254.9 2525.6h0M272.7 2426.3h0M273.7 2589.3h0M298.0 2667.9h0M207.5 2538.9h0M259.1 2465.6h0M275.9 2514.6h0M256.4 2421.7h0M239.6 2550.5h0M244.5 2467.7h0M267.4 2615.6h0M237.3 2621.7h0M262.7 2538.9h0M270.6 2477.9h0M245.8 2576.2h0M215.5 2511.5h0M260.7 2618.7h0M263.7 2613.1h0M251.4 2429.7h0M250.1 2600.1h0M244.0 2563.8h0M282.9 2468.8h0M242.4 2605.6h0M274.2 2603.2h0M278.0 2535.0h0M230.4 2600.9h0M291.8 2589.6h0M281.8 2648.3h0M235.0 2515.0h0M247.7 2506.3h0M264.5 2621.6h0M278.5 2617.6h0M236.7 2522.2h0M214.9 2593.2h0M231.4 2519.8h0M222.7 2564.1h0M264.0 2635.9h0M276.9 2464.8h0M243.8 2565.8h0M279.0 2426.6h0M289.4 2505.4h0M278.6 2486.2h0M269.9 2439.4h0M268.8 2447.4h0M245.7 2587.2h0M235.3 2513.0h0M276.5 2518.4h0M220.5 2528.2h0M274.4 2654.8h0M264.2 2466.1h0M302.0 2648.6h0M246.3 2620.2h0M232.2 2534.6h0M205.0 2544.7h0M250.3 2546.6h0M274.2 2631.0h0M219.2 2577.4h0M288.7 2561.3h0M288.1 2569.5h0M251.7 2579.8h0M270.5 2581.1h0M287.9 2559.2h0M289.6 2562.0h0M243.3 2470.6h0M220.5 2572.7h0M293.2 2654.6h0M307.6 2663.6h0M288.6 2478.9h0M223.4 2586.1h0M299.4 2660.8h0M257.2 2495.0h0M229.5 2564.0h0M287.0 2627.4h0M311.4 2678.6h0M242.2 2612.4h0M254.8 2551.7h0M221.9 2579.4h0M254.4 2517.9h0M251.5 2506.7h0M309.9 2673.9h0M273.1 2586.4h0M284.7 2555.7h0M232.1 2524.0h0M227.2 2513.6h0M245.5 2543.7h0M268.2 2596.2h0M287.4 2663.6h0M204.9 2504.0h0M231.7 2478.6h0M303.1 2666.7h0M251.3 2438.1h0M234.1 2509.9h0M274.2 2543.9h0M287.0 2575.0h0M275.6 2649.7h0M302.3 2657.0h0M279.7 2465.9h0M264.1 2633.4h0M284.3 2642.0h0M291.5 2601.7h0M276.8 2541.3h0M253.1 2413.3h0M224.9 2552.6h0M226.2 2504.4h0M274.7 2549.6h0M241.5 2582.4h0M280.0 2453.7h0M236.2 2482.0h0M247.1 2537.6h0M233.8 2467.3h0M276.0 2440.6h0M254.5 2638.0h0M282.9 2573.1h0M286.9 2513.7h0M249.1 2430.0h0M252.3 2415.4h0M283.6 2618.5h0M287.4 2520.4h0M274.8 2493.2h0M228.0 2530.1h0M226.8 2528.0h0M264.1 2455.6h0M289.5 2510.8h0M284.3 2456.3h0M220.8 2522.1h0M277.0 2602.4h0M287.6 2635.2h0M235.4 2591.7h0M291.8 2465.5h0M280.6 2624.5h0M221.6 2499.2h0M250.8 2621.3h0M263.2 2525.7h0M287.2 2438.5h0M234.0 2592.1h0M279.5 2464.3h0M277.3 2548.0h0M231.4 2492.6h0M287.8 2556.5h0M254.3 2468.6h0M288.4 2663.3h0M261.0 2489.7h0M269.2 2474.9h0M260.7 2524.8h0M270.5 2641.2h0M257.2 2557.6h0M252.5 2538.0h0M251.3 2516.1h0M276.0 2505.3h0M246.9 2619.6h0M244.2 2541.0h0M277.8 2634.0h0M205.0 2514.9h0M271.0 2652.9h0M291.2 2569.5h0M269.9 2582.6h0M294.4 2666.0h0M285.6 2558.7h0M249.6 2440.9h0M236.1 2587.2h0M300.9 2654.9h0M253.2 2418.3h0M268.4 2574.5h0M252.6 2560.8h0M285.4 2579.0h0M266.8 2623.8h0M215.3 2550.9h0M282.4 2616.2h0M288.2 2537.6h0M282.0 2556.1h0M247.2 2511.2h0M265.6 2488.7h0M252.8 2505.4h0M240.7 2575.9h0M255.9 2597.4h0M238.7 2569.4h0M267.8 2431.3h0M249.8 2525.7h0M262.6 2542.8h0M258.5 2555.3h0M240.8 2513.7h0M266.0 2634.0h0M262.6 2534.8h0M292.1 2605.0h0M240.7 2557.0h0M276.5 2529.1h0M264.8 2432.5h0M275.1 2536.2h0M248.8 2546.0h0M243.4 2600.3h0M272.4 2581.2h0M247.7 2468.0h0M237.4 2508.6h0M271.0 2506.6h0M260.2 2620.7h0M290.6 2428.4h0M262.7 2591.3h0M274.6 2564.3h0M253.6 2592.9h0M283.8 2456.4h0M266.3 2495.7h0M234.9 2499.2h0M268.6 2416.8h0M272.7 2524.8h0M207.0 2552.1h0M302.0 2666.2h0M285.2 2537.5h0M235.2 2621.3h0M246.7 2428.5h0M285.7 2496.0h0M233.8 2494.5h0M278.2 2560.0h0M245.1 2623.7h0M254.0 2522.1h0M256.1 2625.1h0M244.4 2531.2h0M302.0 2655.0h0M205.2 2531.6h0M224.8 2531.4h0M222.8 2511.8h0M283.1 2539.4h0M268.6 2634.2h0M214.5 2575.7h0M277.3 2659.7h0M257.5 2470.6h0M259.6 2563.8h0M228.5 2582.5h0M248.0 2595.0h0M206.5 2519.4h0M215.7 2601.7h0M254.5 2507.2h0M212.8 2592.7h0M253.0 2555.6h0M260.9 2615.5h0M203.7 2560.6h0M289.0 2545.7h0M254.6 2423.7h0M275.4 2645.3h0M220.7 2532.7h0M272.8 2435.9h0M225.1 2497.5h0M253.8 2580.8h0M287.6 2511.2h0M280.0 2524.1h0M206.4 2555.6h0M282.5 2648.1h0M239.0 2513.6h0M228.6 2501.0h0M277.7 2615.3h0M270.4 2525.8h0M224.3 2491.9h0M236.8 2568.6h0M266.3 2482.3h0M211.2 2562.0h0M274.1 2523.1h0M291.2 2592.8h0M281.4 2430.2h0M276.4 2616.7h0M304.0 2659.1h0M287.7 2652.3h0M226.7 2494.6h0M277.7 2438.9h0M252.2 2458.2h0M212.9 2572.8h0M277.9 2418.4h0M270.1 2587.0h0M234.9 2541.2h0M238.5 2496.9h0M209.4 2512.3h0M256.4 2561.4h0M263.2 2525.2h0M290.2 2560.0h0M226.8 2478.7h0M212.9 2503.0h0M251.7 2617.2h0M250.5 2579.5h0M240.3 2626.7h0M298.5 2640.4h0M282.5 2574.0h0M241.3 2522.4h0M243.6 2571.9h0M234.6 2527.2h0M252.8 2601.7h0M217.3 2603.3h0M281.3 2447.6h0M256.8 2606.3h0M214.0 2540.7h0M285.5 2481.8h0M264.2 2490.9h0M275.6 2612.4h0M270.8 2521.0h0M227.1 2546.7h0M263.7 2599.9h0M265.3 2505.2h0M213.1 2560.1h0M280.0 2432.6h0M248.7 2455.0h0M287.3 2454.1h0M285.9 2568.3h0M229.6 2574.9h0M248.1 2514.2h0M242.7 2490.3h0M234.5 2488.3h0M250.9 2438.2h0M269.8 2630.8h0M258.9 2500.0h0M265.2 2552.6h0M266.1 2495.8h0M244.3 2464.5h0M234.9 2585.1h0M218.3 2577.3h0M237.8 2460.9h0M275.5 2460.3h0M233.9 2525.0h0M304.0 2655.8h0M264.4 2632.9h0M218.7 2482.4h0M253.2 2427.9h0M220.4 2577.4h0M219.7 2585.1h0M221.8 2479.5h0M252.0 2463.8h0M246.5 2489.7h0M254.5 2621.7h0M277.9 2565.7h0M258.8 2487.1h0M260.0 2500.9h0M232.5 2549.1h0M260.5 2599.3h0M259.1 2448.7h0M266.6 2648.8h0M286.9 2604.3h0M256.4 2634.0h0M219.1 2596.5h0M266.5 2543.7h0M287.4 2539.2h0M264.9 2613.8h0M288.6 2506.8h0M223.1 2610.4h0M254.1 2418.9h0M269.1 2474.3h0M251.0 2622.5h0M259.8 2545.2h0M244.0 2512.1h0M205.1 2514.2h0M244.9 2591.8h0M276.8 2508.9h0M251.6 2447.1h0M239.4 2480.1h0M219.1 2507.6h0M267.9 2534.4h0M276.3 2609.0h0M235.3 2472.9h0M272.7 2497.4h0M251.2 2638.6h0M256.2 2554.0h0M243.3 2522.6h0M276.1 2465.3h0M260.6 2509.7h0M248.7 2590.6h0M228.1 2581.7h0M251.5 2571.8h0M277.5 2565.2h0M217.9 2560.8h0M231.2 2471.1h0M221.8 2600.1h0M235.5 2595.3h0M224.6 2512.9h0M267.4 2620.7h0M271.7 2550.7h0M239.7 2461.6h0M275.8 2499.5h0M211.9 2551.3h0M275.9 2498.0h0M288.4 2663.0h0M280.2 2624.7h0M290.0 2497.4h0M240.1 2550.3h0M256.6 2463.3h0M232.1 2506.5h0M245.8 2494.1h0M263.1 2441.5h0M226.1 2539.1h0M299.9 2656.0h0M222.5 2486.6h0M288.8 2503.5h0M268.4 2472.8h0M264.7 2453.5h0M249.7 2515.9h0M224.0 2545.9h0M259.4 2607.5h0M301.1 2660.2h0M240.2 2596.5h0M297.1 2639.1h0M245.0 2476.1h0M290.9 2543.8h0M257.3 2627.2h0M269.9 2485.7h0M253.9 2604.8h0M214.8 2522.4h0M251.6 2591.2h0M235.3 2553.5h0M210.6 2549.2h0M262.8 2534.0h0M243.9 2583.1h0M271.2 2641.5h0M249.5 2467.6h0M260.2 2525.5h0M286.6 2624.2h0M238.5 2519.6h0M274.5 2654.8h0M243.7 2606.5h0M268.2 2516.8h0M290.6 2632.4h0M236.5 2527.6h0M210.0 2571.1h0M257.5 2520.0h0M284.5 2488.0h0M257.9 2593.1h0M248.0 2558.0h0M230.9 2569.8h0M302.0 2673.4h0M256.0 2525.3h0M234.5 2611.6h0M205.8 2555.2h0M265.8 2427.3h0M262.3 2582.4h0M215.4 2559.6h0M287.6 2502.0h0M226.8 2488.6h0M288.0 2544.5h0M268.0 2484.6h0M251.0 2436.0h0M217.9 2521.3h0M289.3 2555.6h0" stroke="#40e0d0" stroke-width="5.2" stroke-linecap="round" fill="none"/>
<path d="M290.7 2438.5h0M265.9 2437.2h0M256.6 2424.8h0M278.6 2436.6h0M291.1 2427.2h0M257.6 2433.2h0M288.6 2425.9h0M287.9 2438.8h0M287.8 2438.3h0M264.4 2436.4h0M246.6 2414.4h0M258.5 2427.8h0M264.1 2431.2h0M260.1 2412.6h0M277.9 2432.4h0M276.2 2438.9h0M255.4 2431.5h0M267.9 2444.0h0M286.2 2419.5h0M275.6 2436.9h0M280.9 2436.6h0M284.8 2437.3h0M270.3 2426.8h0M279.6 2431.7h0M271.8 2439.7h0M248.2 2423.3h0M270.3 2421.4h0M283.6 2416.5h0M286.7 2419.6h0M282.5 2419.9h0M266.6 2423.1h0M277.7 2420.5h0M267.5 2415.6h0M283.3 2431.4h0M260.0 2431.5h0M265.4 2421.6h0M279.4 2435.3h0M287.6 2420.3h0M283.7 2426.7h0M251.5 2414.1h0M255.8 2430.9h0M259.0 2439.2h0M269.4 2411.1h0M247.1 2424.8h0M262.8 2434.3h0M267.5 2442.8h0M280.7 2424.9h0M282.7 2429.4h0M259.8 2418.6h0M265.9 2420.4h0M272.6 2441.9h0M264.8 2417.7h0M248.7 2422.6h0M270.4 2423.8h0M254.9 2425.7h0M255.1 2427.0h0M260.0 2432.2h0M264.1 2420.7h0M253.3 2429.7h0M283.4 2430.1h0M274.9 2429.5h0M256.3 2440.6h0M256.4 2430.4h0M261.6 2413.6h0M261.8 2420.8h0M250.5 2436.9h0M277.1 2413.5h0M258.7 2415.9h0M259.1 2412.8h0M252.1 2424.9h0M252.7 2419.1h0M271.8 2434.8h0M259.6 2417.4h0M267.4 2436.2h0M280.3 2417.8h0M276.1 2443.2h0M278.9 2420.3h0M263.3 2416.9h0M259.3 2439.1h0M253.1 2425.4h0M246.8 2418.7h0M266.3 2443.0h0M267.2 2434.1h0M267.6 2437.3h0M259.0 2418.3h0M289.4 2438.6h0M257.8 2442.2h0M270.0 2413.4h0M274.7 2419.4h0M251.3 2421.6h0M285.9 2435.1h0M252.6 2418.0h0M261.2 2427.3h0M270.3 2428.1h0M261.6 2427.9h0M274.6 2428.2h0M257.2 2424.0h0M263.1 2413.1h0M261.0 2424.5h0M270.3 2435.9h0M261.3 2442.9h0M286.2 2441.8h0M285.5 2440.2h0M265.1 2436.8h0M273.1 2440.0h0M282.7 2427.5h0M267.2 2425.3h0M281.0 2431.6h0M281.1 2441.0h0M274.7 2433.3h0M255.2 2427.3h0M262.2 2416.7h0M286.4 2429.7h0M271.6 2418.6h0M253.4 2437.8h0M269.4 2438.9h0M277.3 2439.0h0M287.4 2432.7h0M284.7 2427.8h0M265.4 2425.6h0M251.9 2432.4h0M284.8 2418.2h0M289.8 2421.8h0M277.0 2441.6h0M258.5 2413.1h0M268.0 2436.0h0M263.0 2427.8h0M278.8 2426.1h0M271.7 2432.9h0M271.3 2425.1h0M267.9 2426.5h0M273.9 2420.4h0" stroke="#40e0d0" stroke-width="4.8" stroke-linecap="round" fill="none"/>
<path d="M389.6 2450.0L314.6 2424.9M389.6 2450.0L310.0 2414.2M345.0 2423.0L334.7 2412.3M345.0 2423.0L342.5 2420.8M345.0 2423.0L326.2 2406.8M389.6 2450.0L294.4 2474.2M345.0 2423.0L305.7 2441.9M345.0 2423.0L301.9 2436.9M345.0 2423.0L318.8 2414.8M389.6 2450.0L316.8 2412.8M389.6 2450.0L291.3 2443.8M389.6 2450.0L300.7 2452.9M345.0 2423.0L313.5 2419.4M345.0 2423.0L341.4 2410.7M389.6 2450.0L305.0 2410.7M389.6 2450.0L303.2 2434.7M389.6 2450.0L294.2 2440.9M389.6 2450.0L314.6 2439.7M389.6 2450.0L323.6 2412.5M345.0 2423.0L318.6 2436.2M389.6 2450.0L295.5 2475.0M389.6 2450.0L291.0 2442.9M389.6 2450.0L301.5 2434.9M345.0 2423.0L313.9 2422.5M389.6 2450.0L318.6 2436.2M345.0 2423.0L312.6 2414.7M345.0 2423.0L305.7 2441.9M389.6 2450.0L295.5 2475.0M345.0 2423.0L335.1 2420.2M389.6 2450.0L301.9 2473.2" stroke="#a52a2a" stroke-width="0.6" stroke-opacity="0.35" fill="none"/>
<path d="M342.6 2407.9h0M348.0 2406.0h0M314.6 2439.7h0M311.8 2433.0h0M322.9 2427.4h0M296.3 2455.6h0M312.9 2430.5h0M303.4 2457.0h0M335.1 2420.2h0M312.6 2414.7h0M314.6 2424.9h0M341.2 2416.2h0M305.7 2441.9h0M301.9 2473.2h0M332.5 2413.4h0M312.0 2408.9h0M300.7 2452.9h0M298.5 2434.7h0M332.6 2417.2h0M300.2 2425.8h0M335.6 2404.2h0M293.5 2433.5h0M320.7 2418.6h0M299.7 2460.4h0M306.9 2413.1h0M300.6 2436.5h0M297.0 2421.5h0M316.9 2412.2h0M316.2 2424.5h0M293.7 2459.9h0M334.7 2412.3h0M345.1 2422.8h0M301.9 2436.9h0M317.3 2406.2h0M300.4 2475.0h0M304.8 2425.3h0M302.5 2434.4h0M291.0 2442.9h0M342.9 2420.6h0M331.3 2428.3h0M309.4 2408.6h0M302.7 2447.0h0M305.3 2448.3h0M315.4 2419.2h0M316.8 2412.8h0M291.1 2442.7h0M321.8 2412.1h0M294.9 2472.4h0M310.0 2414.2h0M295.5 2475.0h0M327.0 2410.8h0M296.1 2448.6h0M318.8 2414.8h0M334.7 2423.5h0M301.5 2434.9h0M316.3 2431.2h0M313.8 2409.5h0M294.2 2440.9h0M300.5 2464.9h0M313.5 2419.4h0M345.8 2412.4h0M340.9 2420.0h0M344.9 2423.8h0M324.7 2404.3h0M328.9 2420.5h0M348.1 2415.4h0M326.2 2406.8h0M327.5 2424.7h0M325.1 2418.9h0M340.9 2408.7h0M291.3 2443.8h0M327.9 2415.1h0M296.5 2431.9h0M299.2 2430.8h0M311.3 2414.9h0M340.3 2408.6h0M341.4 2410.7h0M341.3 2428.2h0M313.9 2422.5h0M326.5 2408.7h0M306.8 2424.7h0M294.4 2474.2h0M341.4 2407.6h0M309.6 2418.4h0M304.1 2445.1h0M314.8 2429.9h0M344.6 2415.7h0M342.5 2420.8h0M314.3 2405.9h0M297.7 2446.8h0M320.4 2407.6h0M323.6 2410.4h0M309.2 2435.3h0M303.2 2434.7h0M296.0 2436.2h0M346.4 2425.2h0M305.1 2420.2h0M304.8 2445.8h0M302.9 2447.7h0M294.0 2465.8h0M344.9 2416.1h0M311.5 2420.0h0M316.8 2424.5h0M311.8 2416.5h0M324.1 2412.1h0M347.5 2420.7h0M305.3 2441.5h0M302.0 2439.8h0M293.5 2474.4h0M302.1 2470.3h0M300.9 2451.1h0M300.2 2429.0h0M300.6 2466.7h0M291.7 2440.4h0M304.7 2417.2h0M319.8 2427.7h0M327.4 2408.1h0M300.8 2446.6h0M334.0 2410.0h0M321.5 2427.4h0M296.8 2427.7h0M304.2 2436.6h0M318.6 2436.2h0M295.5 2430.8h0M299.8 2475.1h0M303.6 2416.5h0M343.8 2406.4h0M347.8 2407.9h0M323.6 2412.5h0M334.9 2417.3h0M305.6 2448.0h0M295.9 2473.7h0M310.5 2430.3h0M309.4 2423.1h0M328.4 2427.1h0M301.6 2443.9h0M323.8 2424.6h0M332.3 2428.6h0M338.1 2426.3h0M314.4 2422.7h0M302.7 2432.5h0M308.2 2438.9h0M303.6 2434.3h0M322.9 2410.6h0M305.0 2410.7h0M316.7 2439.8h0M308.4 2409.1h0M301.4 2459.9h0M316.0 2412.6h0" stroke="#a52a2a" stroke-width="4.8" stroke-linecap="round" fill="none"/>
<path d="M389.6 2450.0L356.9 2401.9M389.6 2450.0L328.1 2405.4M389.6 2450.0L323.4 2404.4M389.6 2450.0L338.3 2394.1M389.6 2450.0L350.0 2399.9M389.6 2450.0L336.9 2405.1M389.6 2450.0L334.3 2399.1M389.6 2450.0L364.2 2388.5M389.6 2450.0L353.4 2402.1M389.6 2450.0L353.3 2394.0M389.6 2450.0L345.1 2387.0M389.6 2450.0L361.6 2404.4M389.6 2450.0L350.3 2396.0M389.6 2450.0L362.7 2408.2M389.6 2450.0L367.2 2402.0" stroke="#e0c000" stroke-width="0.6" stroke-opacity="0.4" fill="none"/>
<path d="M374.9 2400.0h0M329.3 2394.0h0M326.9 2407.2h0M350.0 2391.5h0M339.9 2390.9h0M332.8 2405.0h0M363.5 2393.5h0M330.4 2394.1h0M322.5 2399.4h0M343.2 2396.6h0M348.1 2392.1h0M370.1 2393.8h0M374.7 2403.8h0M348.4 2392.3h0M355.6 2405.6h0M350.0 2399.9h0M358.1 2393.5h0M353.4 2402.1h0M344.8 2399.6h0M350.2 2405.5h0M360.4 2407.3h0M343.8 2389.3h0M324.4 2394.2h0M328.1 2405.4h0M336.5 2395.8h0M332.3 2389.8h0M346.9 2390.1h0M364.7 2394.0h0M347.0 2393.5h0M367.2 2402.0h0M369.3 2392.2h0M329.9 2397.9h0M351.6 2395.8h0M373.8 2408.8h0M331.6 2396.3h0M321.5 2407.6h0M322.5 2395.3h0M340.6 2392.7h0M345.0 2395.9h0M353.0 2404.5h0M320.9 2396.8h0M334.3 2399.1h0M320.1 2397.1h0M338.2 2400.5h0M376.0 2403.2h0M324.5 2398.1h0M361.6 2404.4h0M317.0 2395.5h0M326.4 2403.7h0M349.0 2392.0h0M363.4 2392.9h0M371.4 2401.1h0M372.5 2403.7h0M334.7 2395.6h0M367.7 2410.0h0M351.8 2389.6h0M356.9 2401.9h0M357.5 2398.0h0M373.7 2406.4h0M345.4 2391.6h0M350.2 2395.6h0M350.3 2396.0h0M352.0 2389.4h0M362.7 2408.2h0M360.8 2387.3h0M371.0 2390.3h0M330.0 2394.3h0M363.1 2403.7h0M339.0 2399.3h0M356.4 2391.9h0M366.2 2391.4h0M341.1 2399.4h0M370.2 2389.3h0M336.4 2400.3h0M345.1 2387.0h0M345.9 2396.0h0M369.7 2413.2h0M315.8 2397.9h0M361.2 2409.9h0M364.1 2396.8h0M325.3 2404.3h0M352.5 2402.3h0M353.3 2394.0h0M336.9 2405.1h0M374.0 2396.8h0M325.1 2394.9h0M357.9 2391.1h0M338.8 2387.4h0M362.5 2401.1h0M348.8 2402.7h0M345.0 2394.3h0M323.4 2404.4h0M350.8 2388.9h0M368.1 2392.9h0M363.8 2391.1h0M338.3 2394.1h0M344.1 2399.6h0M359.1 2398.2h0M364.2 2388.5h0M337.9 2399.6h0M369.1 2404.8h0M376.3 2401.0h0M342.9 2395.0h0M361.9 2395.0h0" stroke="#ffff00" stroke-width="4.8" stroke-linecap="round" fill="none"/>
<path d="M441.4 2476.0L399.1 2439.7M441.4 2476.0L407.6 2496.6M433.8 2461.0L449.3 2598.8M433.8 2461.0L434.9 2555.5M441.4 2476.0L440.5 2553.5M433.8 2461.0L457.8 2500.4M441.4 2476.0L491.2 2541.2M441.4 2476.0L439.8 2493.9M441.4 2476.0L444.1 2620.4M433.8 2461.0L451.1 2536.7M433.8 2461.0L403.3 2445.7M433.8 2461.0L435.8 2471.5M433.8 2461.0L469.4 2590.5M441.4 2476.0L423.6 2526.7M441.4 2476.0L422.9 2554.1M441.4 2476.0L463.7 2538.2M441.4 2476.0L428.3 2495.5M441.4 2476.0L464.0 2540.0M441.4 2476.0L447.9 2585.0M433.8 2461.0L404.3 2541.4M441.4 2476.0L420.7 2588.7M441.4 2476.0L487.1 2563.6M441.4 2476.0L397.5 2511.4M433.8 2461.0L478.8 2541.9M433.8 2461.0L416.5 2518.5M433.8 2461.0L449.1 2635.0M433.8 2461.0L406.3 2550.1M441.4 2476.0L451.1 2536.7M433.8 2461.0L459.0 2517.7M433.8 2461.0L416.0 2446.6M441.4 2476.0L387.2 2445.7M433.8 2461.0L429.4 2579.7M433.8 2461.0L396.5 2422.0M441.4 2476.0L403.5 2527.9M441.4 2476.0L441.4 2574.7M433.8 2461.0L411.7 2530.4M433.8 2461.0L481.2 2568.9M433.8 2461.0L425.7 2507.4M433.8 2461.0L398.2 2425.4M441.4 2476.0L426.5 2574.7M433.8 2461.0L434.4 2532.8M441.4 2476.0L442.4 2591.3M433.8 2461.0L453.7 2633.0M433.8 2461.0L444.3 2573.2M433.8 2461.0L443.2 2589.1M433.8 2461.0L457.2 2555.5M433.8 2461.0L394.5 2459.6M441.4 2476.0L452.2 2529.9M433.8 2461.0L426.2 2560.5M441.4 2476.0L471.9 2550.9M433.8 2461.0L445.5 2544.6M433.8 2461.0L419.9 2554.8M433.8 2461.0L472.6 2583.1M433.8 2461.0L477.2 2556.9M433.8 2461.0L463.7 2538.2M433.8 2461.0L456.3 2503.0M433.8 2461.0L437.9 2487.6M433.8 2461.0L452.8 2571.4M441.4 2476.0L420.5 2488.1M433.8 2461.0L410.7 2518.7M433.8 2461.0L405.5 2512.3M441.4 2476.0L452.4 2483.7M433.8 2461.0L422.6 2536.8M441.4 2476.0L455.5 2504.7M441.4 2476.0L467.9 2501.5M433.8 2461.0L433.0 2518.5M441.4 2476.0L492.7 2527.6M441.4 2476.0L433.9 2555.5M441.4 2476.0L454.5 2508.8M433.8 2461.0L440.8 2485.4M433.8 2461.0L416.8 2580.3M441.4 2476.0L463.1 2568.9M433.8 2461.0L467.3 2512.7M433.8 2461.0L484.8 2572.1M433.8 2461.0L429.4 2469.0M433.8 2461.0L466.8 2545.7M433.8 2461.0L459.8 2509.9M441.4 2476.0L449.3 2598.8M433.8 2461.0L452.4 2483.7M433.8 2461.0L469.0 2515.8M433.8 2461.0L417.5 2436.2M441.4 2476.0L432.2 2604.4M441.4 2476.0L457.8 2627.7M441.4 2476.0L457.0 2540.0M433.8 2461.0L410.4 2532.3M433.8 2461.0L480.4 2585.6M433.8 2461.0L438.7 2605.5M433.8 2461.0L439.0 2621.5M441.4 2476.0L455.2 2614.7M441.4 2476.0L442.6 2605.3M433.8 2461.0L396.0 2463.7M433.8 2461.0L482.2 2514.2M433.8 2461.0L416.0 2446.6M441.4 2476.0L459.8 2509.9M441.4 2476.0L411.9 2546.0M433.8 2461.0L469.8 2546.6M441.4 2476.0L411.1 2488.7M433.8 2461.0L470.1 2537.2M433.8 2461.0L386.5 2437.4M441.4 2476.0L450.7 2583.1M433.8 2461.0L417.6 2450.1M433.8 2461.0L409.8 2478.9M441.4 2476.0L423.8 2554.7M433.8 2461.0L447.5 2536.5M433.8 2461.0L451.6 2634.1M433.8 2461.0L422.9 2487.3M433.8 2461.0L416.4 2507.6M433.8 2461.0L445.1 2472.6M433.8 2461.0L449.1 2585.4M433.8 2461.0L480.1 2540.8M441.4 2476.0L457.2 2555.5M433.8 2461.0L418.5 2530.1M433.8 2461.0L384.2 2409.1M433.8 2461.0L452.0 2504.7M441.4 2476.0L456.0 2585.8M433.8 2461.0L444.9 2561.6M433.8 2461.0L408.6 2520.7M441.4 2476.0L429.5 2472.5M433.8 2461.0L432.4 2531.3M441.4 2476.0L399.2 2534.2M441.4 2476.0L389.0 2427.3M441.4 2476.0L398.8 2466.3M433.8 2461.0L464.0 2540.0M433.8 2461.0L451.0 2622.2M433.8 2461.0L465.2 2555.6M433.8 2461.0L464.8 2499.7M433.8 2461.0L451.7 2555.1M433.8 2461.0L444.0 2626.9M441.4 2476.0L412.4 2479.9M433.8 2461.0L417.7 2562.0M441.4 2476.0L397.5 2438.2M433.8 2461.0L479.3 2551.5M441.4 2476.0L450.4 2636.9M433.8 2461.0L444.2 2607.2M441.4 2476.0L470.4 2511.1M433.8 2461.0L452.2 2529.9M441.4 2476.0L420.7 2588.7M441.4 2476.0L408.6 2512.7M433.8 2461.0L480.4 2585.6M441.4 2476.0L449.6 2522.6M441.4 2476.0L440.5 2507.5M441.4 2476.0L438.9 2494.3M441.4 2476.0L444.7 2528.8M441.4 2476.0L477.4 2590.7M441.4 2476.0L444.8 2607.0M441.4 2476.0L479.3 2551.5M441.4 2476.0L458.1 2584.1M433.8 2461.0L405.4 2448.2M433.8 2461.0L457.8 2500.4M441.4 2476.0L411.1 2488.7M441.4 2476.0L391.5 2427.8M433.8 2461.0L452.8 2572.6M433.8 2461.0L437.0 2499.9M433.8 2461.0L393.1 2462.2M441.4 2476.0L471.4 2611.9M433.8 2461.0L394.5 2459.6M433.8 2461.0L434.7 2462.8M433.8 2461.0L463.4 2504.8M441.4 2476.0L465.0 2610.5M441.4 2476.0L472.1 2593.1M441.4 2476.0L477.7 2591.0M441.4 2476.0L448.5 2477.2M441.4 2476.0L473.4 2574.6M441.4 2476.0L399.4 2450.1M441.4 2476.0L487.9 2534.4M441.4 2476.0L399.3 2450.6M433.8 2461.0L459.8 2553.1M433.8 2461.0L463.7 2626.7M441.4 2476.0L462.2 2561.9M441.4 2476.0L386.0 2420.7M433.8 2461.0L426.5 2574.7M441.4 2476.0L442.1 2578.2M433.8 2461.0L434.9 2555.5M433.8 2461.0L485.1 2548.5M433.8 2461.0L432.3 2608.5M441.4 2476.0L442.4 2591.3M441.4 2476.0L415.0 2549.8M433.8 2461.0L464.2 2496.2M433.8 2461.0L469.6 2594.8M433.8 2461.0L455.1 2619.5M433.8 2461.0L475.0 2541.3M433.8 2461.0L414.4 2564.0M433.8 2461.0L452.2 2529.9M433.8 2461.0L432.2 2596.2M433.8 2461.0L442.6 2605.3M433.8 2461.0L454.3 2611.9M441.4 2476.0L456.6 2629.9M441.4 2476.0L450.8 2607.4M441.4 2476.0L444.6 2512.1M441.4 2476.0L433.0 2557.3M441.4 2476.0L444.9 2561.6M441.4 2476.0L429.4 2469.0M433.8 2461.0L488.4 2535.1M433.8 2461.0L437.3 2514.9M441.4 2476.0L441.3 2588.9M441.4 2476.0L416.0 2446.6M433.8 2461.0L417.2 2543.5M433.8 2461.0L415.0 2490.8M441.4 2476.0L419.4 2462.3M433.8 2461.0L423.8 2554.7M433.8 2461.0L425.2 2567.0M433.8 2461.0L416.8 2580.3M441.4 2476.0L407.4 2446.2M433.8 2461.0L411.0 2534.0M441.4 2476.0L450.4 2588.9M433.8 2461.0L386.1 2411.6M433.8 2461.0L398.8 2466.3M441.4 2476.0L457.5 2616.4M441.4 2476.0L455.1 2611.7M441.4 2476.0L407.9 2549.5M433.8 2461.0L433.6 2460.7M433.8 2461.0L399.5 2505.7M441.4 2476.0L422.9 2506.0M433.8 2461.0L429.5 2469.0M441.4 2476.0L466.8 2545.7M441.4 2476.0L457.8 2500.4M433.8 2461.0L428.2 2498.2M441.4 2476.0L478.8 2541.9M441.4 2476.0L484.7 2560.9M441.4 2476.0L430.5 2579.7M441.4 2476.0L409.1 2504.3M433.8 2461.0L393.4 2481.3M433.8 2461.0L442.0 2638.2M433.8 2461.0L420.7 2588.7M433.8 2461.0L383.6 2437.5M441.4 2476.0L482.2 2514.2M441.4 2476.0L420.8 2503.5M441.4 2476.0L396.5 2422.0M441.4 2476.0L393.5 2487.6M441.4 2476.0L435.0 2569.9M441.4 2476.0L464.9 2565.5M433.8 2461.0L468.7 2591.8M441.4 2476.0L451.0 2624.4M433.8 2461.0L409.8 2478.9M441.4 2476.0L390.6 2452.5M433.8 2461.0L451.0 2624.4M441.4 2476.0L417.2 2477.5M433.8 2461.0L403.9 2477.3M433.8 2461.0L384.7 2417.3M433.8 2461.0L393.3 2468.6M433.8 2461.0L480.1 2536.8M433.8 2461.0L459.0 2622.9M433.8 2461.0L395.3 2491.5M433.8 2461.0L437.0 2499.9M441.4 2476.0L414.9 2486.9M433.8 2461.0L457.8 2627.7M433.8 2461.0L474.9 2558.7M441.4 2476.0L474.2 2527.5M441.4 2476.0L407.3 2521.8M433.8 2461.0L452.1 2518.1M441.4 2476.0L398.2 2459.9M441.4 2476.0L415.0 2549.8M433.8 2461.0L437.4 2521.6M441.4 2476.0L442.0 2638.2M433.8 2461.0L466.6 2586.4M433.8 2461.0L407.8 2484.2M433.8 2461.0L444.1 2593.0M441.4 2476.0L459.0 2635.2M441.4 2476.0L393.6 2464.9M441.4 2476.0L433.8 2543.4" stroke="#0000ff" stroke-width="0.6" stroke-opacity="0.3" fill="none"/>
<path d="M449.1 2551.9h0M433.0 2557.3h0M379.0 2406.0h0M463.2 2511.6h0M438.7 2473.4h0M445.0 2495.7h0M390.6 2452.5h0M446.4 2579.0h0M415.2 2553.2h0M443.7 2633.7h0M449.2 2527.2h0M387.3 2418.7h0M419.9 2441.6h0M489.2 2551.1h0M422.8 2492.3h0M422.3 2555.4h0M464.8 2499.7h0M387.5 2436.6h0M473.4 2574.6h0M447.8 2535.7h0M432.4 2500.3h0M439.2 2504.9h0M465.7 2542.9h0M418.5 2476.0h0M470.8 2606.3h0M447.8 2581.6h0M400.2 2525.5h0M448.5 2495.1h0M409.3 2556.6h0M431.8 2583.3h0M386.1 2411.6h0M481.2 2547.5h0M395.3 2491.5h0M435.8 2476.5h0M398.2 2512.9h0M409.6 2471.0h0M448.8 2645.0h0M461.9 2507.2h0M491.7 2540.8h0M411.4 2493.9h0M399.2 2456.7h0M441.5 2569.6h0M426.8 2520.1h0M477.7 2520.4h0M440.6 2563.4h0M469.6 2594.8h0M406.0 2469.6h0M422.7 2440.3h0M423.2 2509.2h0M394.0 2416.2h0M478.9 2566.7h0M463.2 2617.7h0M442.4 2591.3h0M411.6 2548.5h0M393.6 2464.9h0M470.1 2537.2h0M396.5 2523.5h0M436.0 2483.1h0M447.0 2588.7h0M399.4 2433.7h0M451.1 2536.7h0M438.4 2568.2h0M437.0 2499.9h0M433.3 2489.4h0M425.5 2518.4h0M480.1 2540.8h0M469.9 2578.7h0M405.6 2468.8h0M444.9 2632.1h0M465.6 2599.3h0M394.5 2459.6h0M418.5 2530.1h0M440.2 2496.8h0M457.0 2571.4h0M431.5 2526.3h0M448.6 2487.5h0M462.4 2560.0h0M467.1 2534.1h0M430.5 2579.7h0M443.4 2552.6h0M445.2 2470.6h0M466.8 2545.7h0M465.7 2505.4h0M425.9 2534.9h0M465.0 2612.3h0M476.8 2557.7h0M390.5 2443.6h0M413.1 2502.8h0M422.9 2506.0h0M471.4 2611.9h0M471.9 2550.9h0M404.4 2472.3h0M420.2 2553.3h0M396.4 2446.5h0M415.2 2468.5h0M483.3 2544.5h0M421.2 2534.2h0M457.5 2616.4h0M402.7 2441.4h0M409.9 2526.6h0M399.1 2495.3h0M473.2 2609.2h0M451.7 2555.1h0M459.3 2576.0h0M435.3 2568.4h0M431.7 2452.4h0M432.5 2536.0h0M441.9 2541.2h0M409.1 2504.3h0M440.2 2609.6h0M415.0 2490.8h0M411.4 2552.4h0M432.2 2596.2h0M440.1 2555.5h0M440.8 2485.4h0M413.7 2440.4h0M393.1 2462.2h0M459.6 2571.2h0M407.0 2473.8h0M487.8 2541.7h0M444.5 2626.4h0M417.6 2450.1h0M449.4 2549.5h0M444.9 2561.6h0M396.5 2491.2h0M426.5 2574.7h0M403.3 2445.7h0M416.5 2518.5h0M434.4 2532.8h0M389.9 2477.7h0M397.3 2430.5h0M463.6 2581.8h0M432.2 2604.4h0M435.7 2498.9h0M472.3 2544.8h0M394.0 2433.2h0M485.5 2522.1h0M428.3 2495.5h0M452.8 2571.4h0M424.3 2518.7h0M405.5 2522.2h0M403.9 2522.8h0M459.0 2635.2h0M408.7 2506.2h0M489.8 2537.0h0M419.1 2464.5h0M481.3 2515.9h0M435.8 2549.4h0M416.4 2431.9h0M465.1 2544.1h0M447.2 2561.2h0M452.5 2601.9h0M410.7 2518.7h0M448.0 2523.2h0M418.5 2493.3h0M415.4 2519.8h0M405.5 2512.3h0M435.2 2458.9h0M465.8 2598.1h0M456.9 2571.5h0M471.4 2518.6h0M454.8 2539.6h0M408.5 2520.2h0M440.2 2577.8h0M454.8 2546.0h0M439.4 2508.2h0M483.1 2538.5h0M442.5 2480.4h0M411.2 2482.0h0M464.2 2496.2h0M386.6 2435.5h0M411.3 2469.9h0M487.9 2534.4h0M393.4 2487.6h0M434.3 2473.7h0M478.2 2566.4h0M443.4 2631.2h0M385.2 2449.4h0M386.0 2420.7h0M406.8 2524.9h0M441.3 2588.9h0M444.9 2534.8h0M393.3 2468.6h0M454.7 2532.7h0M438.1 2634.5h0M468.3 2514.9h0M462.1 2530.3h0M436.3 2461.1h0M409.1 2431.9h0M418.5 2462.5h0M399.5 2522.5h0M420.5 2488.1h0M406.1 2434.1h0M387.2 2455.6h0M420.8 2512.6h0M464.0 2581.4h0M397.0 2430.8h0M454.8 2495.8h0M415.4 2453.0h0M438.9 2550.5h0M407.8 2484.2h0M440.2 2530.6h0M415.1 2475.4h0M435.8 2535.2h0M491.2 2541.2h0M480.2 2562.4h0M393.1 2500.1h0M388.3 2442.3h0M411.1 2488.7h0M479.8 2571.1h0M403.9 2467.1h0M459.2 2607.1h0M449.1 2635.0h0M467.0 2599.5h0M451.0 2622.2h0M464.2 2580.0h0M422.6 2482.9h0M385.0 2409.4h0M457.4 2501.4h0M421.2 2454.4h0M437.4 2521.6h0M449.8 2612.7h0M462.9 2533.7h0M456.3 2622.1h0M465.2 2555.6h0M444.2 2607.2h0M459.5 2514.8h0M400.3 2518.7h0M471.1 2555.2h0M449.2 2526.5h0M404.3 2513.2h0M450.9 2629.5h0M456.2 2612.8h0M405.3 2521.9h0M436.8 2465.1h0M475.6 2519.0h0M477.4 2590.7h0M413.2 2437.7h0M434.6 2579.9h0M420.8 2458.3h0M407.7 2545.7h0M456.6 2629.9h0M447.9 2487.8h0M455.1 2619.5h0M415.0 2515.6h0M400.9 2455.5h0M455.5 2504.7h0M403.8 2527.9h0M448.0 2630.5h0M455.7 2568.7h0M445.1 2626.3h0M398.8 2466.3h0M394.7 2504.5h0M405.4 2448.2h0M408.4 2456.4h0M413.3 2503.8h0M415.0 2549.8h0M460.5 2574.0h0M423.8 2569.2h0M387.2 2445.7h0M452.7 2649.4h0M383.6 2437.5h0M449.1 2610.9h0M440.3 2626.1h0M423.1 2501.6h0M461.2 2540.1h0M400.4 2527.5h0M407.3 2521.8h0M437.8 2635.1h0M452.3 2552.7h0M440.0 2584.9h0M439.6 2472.6h0M449.9 2516.6h0M429.8 2478.0h0M469.4 2595.7h0M417.5 2436.2h0M388.0 2463.7h0M401.6 2528.8h0M426.7 2604.2h0M440.8 2486.9h0M454.6 2591.7h0M430.3 2598.8h0M393.5 2487.6h0M477.8 2551.8h0M429.3 2491.6h0M407.5 2427.8h0M414.9 2577.0h0M465.2 2541.5h0M435.8 2471.5h0M454.1 2497.3h0M435.2 2505.2h0M397.5 2438.2h0M421.0 2498.4h0M471.7 2597.4h0M451.0 2647.2h0M433.1 2576.1h0M438.5 2537.0h0M409.2 2528.0h0M397.7 2467.4h0M472.1 2593.5h0M465.0 2595.0h0M446.0 2519.3h0M458.4 2589.3h0M448.7 2524.5h0M417.2 2543.5h0M444.3 2628.2h0M423.9 2489.0h0M433.8 2543.4h0M417.0 2547.7h0M455.2 2614.7h0M422.6 2569.1h0M485.1 2548.5h0M453.8 2637.5h0M462.4 2574.1h0M429.4 2452.5h0M381.0 2406.9h0M432.3 2476.9h0M416.0 2446.6h0M465.1 2591.7h0M407.5 2519.1h0M467.8 2585.9h0M411.9 2546.0h0M426.2 2497.2h0M396.5 2422.0h0M470.4 2511.1h0M423.8 2554.7h0M468.8 2577.1h0M450.8 2607.4h0M455.5 2634.5h0M407.7 2433.6h0M400.2 2530.6h0M484.9 2549.1h0M443.2 2596.8h0M465.6 2628.1h0M415.1 2557.5h0M415.9 2433.3h0M422.9 2554.1h0M449.6 2554.9h0M446.4 2522.4h0M475.0 2541.3h0M423.5 2530.6h0M408.8 2440.2h0M480.1 2536.8h0M404.8 2466.7h0M482.6 2538.3h0M483.9 2537.0h0M417.7 2562.0h0M469.4 2590.5h0M414.1 2461.6h0M402.9 2431.1h0M464.7 2624.9h0M431.7 2559.8h0M473.1 2592.2h0M465.2 2509.6h0M465.0 2610.5h0M421.9 2491.7h0M472.6 2583.1h0M431.6 2503.8h0M450.8 2612.9h0M429.1 2487.2h0M433.4 2587.1h0M431.4 2545.6h0M451.0 2510.6h0M406.5 2534.6h0M389.4 2426.2h0M399.1 2439.7h0M438.9 2494.3h0M486.5 2559.6h0M416.4 2507.6h0M448.2 2589.2h0M452.6 2596.5h0M437.6 2578.8h0M409.4 2468.2h0M457.5 2514.7h0M404.6 2546.5h0M479.1 2556.6h0M391.7 2488.8h0M400.7 2489.2h0M452.1 2518.1h0M414.7 2526.5h0M472.1 2593.1h0M409.4 2487.7h0M484.1 2566.0h0M415.9 2505.3h0M413.8 2489.6h0M456.6 2545.0h0M432.7 2608.6h0M476.5 2524.8h0M456.3 2503.0h0M446.1 2514.6h0M405.8 2539.7h0M446.3 2577.9h0M444.6 2512.1h0M422.9 2487.3h0M450.4 2588.9h0M399.1 2433.1h0M432.3 2608.5h0M405.4 2515.2h0M415.5 2452.4h0M463.7 2545.4h0M480.1 2525.6h0M408.6 2520.7h0M447.9 2585.0h0M431.1 2487.0h0M389.0 2427.3h0M448.0 2566.9h0M451.0 2624.4h0M425.2 2567.0h0M473.4 2600.2h0M487.1 2563.6h0M419.0 2585.4h0M422.6 2536.8h0M391.5 2427.8h0M448.5 2477.2h0M464.3 2556.8h0M465.8 2518.3h0M450.4 2597.2h0M401.1 2466.9h0M422.2 2476.3h0M391.2 2473.1h0M424.3 2486.5h0M440.5 2507.5h0M426.2 2560.5h0M453.5 2610.7h0M460.0 2637.7h0M426.4 2544.2h0M449.4 2551.1h0M399.2 2534.2h0M466.9 2602.0h0M457.3 2523.2h0M427.9 2521.6h0M484.6 2521.0h0M473.8 2606.3h0M470.5 2614.3h0M442.6 2605.3h0M435.0 2569.9h0M459.5 2570.0h0M420.8 2573.0h0M403.5 2474.2h0M449.5 2552.1h0M446.7 2480.0h0M452.3 2537.9h0M440.7 2550.6h0M454.9 2636.6h0M473.0 2528.1h0M438.8 2581.8h0M439.0 2621.5h0M473.8 2521.1h0M478.8 2541.9h0M450.7 2583.1h0M441.7 2591.7h0M430.1 2573.2h0M405.8 2540.2h0M410.4 2532.3h0M408.0 2494.2h0M482.9 2530.9h0M421.5 2536.4h0M453.8 2636.0h0M433.6 2460.7h0M423.1 2543.8h0M405.7 2472.1h0M406.0 2507.0h0M384.7 2417.3h0M459.0 2511.5h0M398.9 2430.5h0M431.5 2466.7h0M478.2 2583.9h0M476.1 2522.9h0M448.6 2532.7h0M435.8 2467.5h0M463.1 2613.4h0M475.2 2601.1h0M411.9 2515.0h0M433.3 2488.9h0M452.0 2504.7h0M403.3 2509.9h0M443.8 2481.2h0M457.9 2628.6h0M453.3 2501.1h0M416.6 2478.5h0M457.5 2617.6h0M460.2 2510.5h0M443.3 2592.7h0M439.6 2610.3h0M402.3 2446.3h0M468.1 2570.8h0M436.7 2551.5h0M452.8 2572.6h0M406.3 2449.5h0M477.7 2591.0h0M474.2 2527.5h0M384.2 2409.1h0M481.4 2527.9h0M455.6 2485.5h0M378.1 2411.1h0M446.2 2487.0h0M377.9 2414.1h0M392.0 2425.3h0M457.8 2627.7h0M429.0 2507.3h0M392.0 2416.8h0M433.2 2576.5h0M482.2 2514.2h0M444.0 2582.5h0M394.6 2487.3h0M484.8 2572.1h0M456.0 2585.8h0M436.3 2538.4h0M434.3 2608.3h0M444.3 2525.8h0M394.3 2495.2h0M481.3 2572.8h0M450.1 2560.9h0M454.5 2508.8h0M416.8 2580.3h0M446.1 2574.3h0M426.1 2580.7h0M450.0 2519.0h0M462.5 2578.9h0M439.6 2548.5h0M479.0 2517.4h0M407.8 2516.9h0M459.2 2620.0h0M419.4 2462.3h0M417.2 2477.5h0M389.4 2431.9h0M440.6 2492.4h0M444.0 2489.0h0M439.0 2497.5h0M447.6 2476.4h0M442.7 2568.3h0M394.1 2508.5h0M407.0 2488.5h0M417.4 2584.7h0M456.0 2492.2h0M466.9 2534.9h0M396.4 2491.0h0M403.5 2425.7h0M394.4 2506.7h0M407.3 2505.3h0M425.3 2466.9h0M445.5 2544.6h0M437.2 2485.8h0M395.6 2519.8h0M449.1 2585.4h0M443.5 2507.6h0M461.9 2622.5h0M471.7 2597.1h0M436.5 2516.8h0M434.6 2563.0h0M422.8 2475.7h0M390.3 2441.5h0M391.7 2419.4h0M407.9 2549.5h0M433.8 2514.8h0M485.0 2556.8h0M455.7 2644.5h0M450.7 2567.5h0M450.2 2573.1h0M417.6 2485.0h0M426.8 2578.1h0M443.0 2582.8h0M422.2 2525.8h0M464.0 2540.0h0M447.9 2598.7h0M460.2 2633.6h0M409.8 2478.1h0M459.4 2554.8h0M455.1 2569.2h0M414.4 2564.0h0M454.6 2629.9h0M454.5 2487.3h0M391.2 2458.2h0M439.1 2615.8h0M411.5 2494.8h0M433.9 2555.5h0M460.6 2577.9h0M422.4 2604.1h0M433.7 2561.1h0M443.1 2543.2h0M464.7 2578.0h0M402.0 2481.6h0M445.2 2493.6h0M441.4 2520.7h0M470.6 2554.2h0M454.3 2611.9h0M461.2 2529.5h0M451.6 2486.4h0M488.9 2520.8h0M449.3 2598.8h0M457.8 2527.8h0M426.0 2575.3h0M457.0 2540.0h0M425.2 2507.3h0M439.9 2489.5h0M420.8 2503.5h0M423.6 2526.7h0M464.6 2599.0h0M476.2 2588.0h0M459.3 2638.2h0M455.7 2615.4h0M428.2 2498.2h0M417.7 2528.1h0M478.4 2576.1h0M384.7 2416.4h0M408.6 2512.7h0M381.1 2408.3h0M464.2 2567.7h0M394.1 2429.2h0M465.8 2624.9h0M451.3 2547.2h0M413.7 2449.1h0M455.3 2561.1h0M425.8 2549.8h0M400.6 2433.2h0M452.7 2564.8h0M470.0 2611.7h0M442.0 2638.2h0M440.4 2515.5h0M449.5 2492.4h0M417.9 2583.6h0M413.7 2503.9h0M382.4 2427.7h0M444.8 2619.0h0M466.6 2586.4h0M390.4 2438.7h0M450.4 2636.9h0M471.2 2585.7h0M442.1 2578.2h0M458.1 2576.7h0M465.9 2613.6h0M440.5 2553.5h0M477.1 2534.3h0M451.6 2634.1h0M454.4 2504.4h0M393.1 2492.1h0M453.4 2512.6h0M403.5 2527.9h0M424.6 2593.0h0M459.9 2586.5h0M465.0 2537.3h0M414.3 2461.6h0M466.0 2540.3h0M426.3 2601.1h0M452.2 2529.9h0M442.9 2571.8h0M453.2 2564.9h0M400.7 2431.9h0M479.0 2532.6h0M399.3 2450.6h0M398.2 2425.4h0M465.3 2544.0h0M422.6 2590.2h0M463.4 2504.8h0M457.8 2500.4h0M488.4 2535.1h0M386.5 2437.4h0M418.2 2471.7h0M455.5 2551.0h0M404.3 2541.4h0M476.0 2543.6h0M394.8 2429.7h0M438.1 2602.7h0M418.8 2460.9h0M380.6 2426.0h0M450.8 2547.8h0M399.9 2516.2h0M425.0 2541.0h0M406.1 2438.1h0M444.0 2626.9h0M429.7 2473.6h0M443.3 2550.8h0M375.9 2400.8h0M430.6 2589.2h0M439.8 2493.9h0M404.8 2483.8h0M420.9 2516.7h0M444.5 2498.6h0M444.8 2607.0h0M398.2 2459.9h0M393.1 2437.8h0M424.0 2455.9h0M396.1 2478.5h0M484.6 2554.7h0M422.9 2458.5h0M390.7 2421.2h0M411.3 2540.0h0M395.2 2423.2h0M406.2 2443.6h0M418.6 2507.5h0M422.5 2462.4h0M399.8 2467.6h0M485.7 2564.0h0M433.0 2518.5h0M402.3 2542.8h0M462.2 2518.9h0M441.6 2487.9h0M426.6 2530.9h0M441.6 2599.7h0M413.2 2561.2h0M403.2 2451.2h0M449.1 2556.1h0M416.6 2539.7h0M411.1 2553.9h0M443.2 2589.1h0M444.3 2573.2h0M423.4 2533.6h0M438.7 2605.5h0M434.9 2496.6h0M412.4 2479.9h0M406.8 2465.9h0M441.6 2552.0h0M492.7 2527.6h0M444.7 2528.8h0M440.8 2635.8h0M481.7 2536.3h0M457.2 2555.5h0M447.6 2642.0h0M392.5 2465.3h0M392.3 2468.4h0M426.3 2481.2h0M481.7 2555.9h0M429.1 2447.0h0M414.7 2499.5h0M459.8 2509.9h0M417.1 2470.1h0M458.9 2557.6h0M416.6 2522.0h0M474.9 2558.7h0M420.7 2588.7h0M445.2 2543.0h0M396.0 2463.7h0M420.6 2520.2h0M463.7 2538.2h0M437.3 2514.9h0M453.0 2621.2h0M427.6 2487.1h0M451.7 2593.2h0M446.4 2511.9h0M445.4 2526.0h0M432.4 2531.3h0M464.2 2617.6h0M419.4 2498.3h0M397.7 2521.0h0M434.9 2555.5h0M427.9 2491.4h0M473.3 2591.2h0M453.7 2633.0h0M420.7 2578.0h0M429.2 2577.4h0M463.7 2626.7h0M434.3 2609.0h0M388.8 2418.6h0M408.1 2470.7h0M451.3 2555.7h0M397.5 2511.4h0M422.6 2523.4h0M485.7 2564.9h0M454.0 2536.0h0M459.0 2622.9h0M493.0 2531.6h0M478.0 2534.1h0M479.3 2551.5h0M403.9 2477.3h0M466.4 2562.9h0M423.0 2455.0h0M464.0 2559.3h0M456.0 2529.3h0M411.7 2530.4h0M391.9 2453.7h0M427.0 2560.4h0M442.0 2469.4h0M423.5 2479.2h0M394.9 2432.5h0M451.2 2649.8h0M424.9 2446.1h0M411.6 2565.3h0M475.5 2563.9h0M434.1 2476.4h0M454.1 2528.5h0M462.3 2498.7h0M450.3 2620.0h0M443.2 2486.9h0M481.2 2568.9h0M414.9 2486.9h0M463.1 2568.9h0M479.7 2554.8h0M429.5 2472.5h0M488.4 2548.4h0M424.3 2449.6h0M471.5 2507.8h0M480.4 2585.6h0M447.3 2583.0h0M434.7 2462.8h0M484.7 2560.9h0M452.4 2483.7h0M445.1 2472.6h0M440.7 2570.3h0M429.4 2469.0h0M431.2 2454.0h0M393.4 2481.3h0M425.7 2507.4h0M426.4 2506.4h0M407.4 2446.2h0M436.9 2573.0h0M411.0 2534.0h0M412.1 2493.9h0M400.4 2531.8h0M401.2 2459.0h0M448.5 2598.9h0M423.6 2527.2h0M400.0 2466.9h0M467.3 2512.7h0M419.1 2475.2h0M457.4 2564.8h0M449.6 2522.6h0M455.3 2491.1h0M439.4 2576.2h0M464.0 2522.2h0M423.5 2448.9h0M464.9 2565.5h0M439.0 2463.3h0M467.9 2591.8h0M403.4 2477.3h0M467.9 2501.5h0M412.3 2475.7h0M444.1 2593.0h0M403.6 2518.9h0M429.0 2593.5h0M408.7 2436.0h0M447.5 2536.5h0M433.2 2459.6h0M453.0 2516.9h0M441.4 2574.7h0M400.4 2441.8h0M455.8 2528.5h0M407.6 2496.6h0M413.8 2474.4h0M432.9 2614.4h0M403.5 2523.8h0M460.9 2562.5h0M400.2 2472.4h0M462.7 2630.5h0M399.5 2505.7h0M429.5 2469.0h0M455.9 2529.4h0M453.0 2613.4h0M463.4 2590.9h0M395.1 2431.0h0M443.5 2526.1h0M399.4 2450.1h0M427.1 2538.9h0M462.2 2561.9h0M450.0 2617.8h0M458.1 2584.1h0M401.9 2436.8h0M411.1 2436.0h0M442.3 2605.4h0M459.0 2517.7h0M387.3 2458.8h0M429.4 2579.7h0M426.4 2448.0h0M412.6 2468.2h0M402.3 2529.8h0M456.5 2644.3h0M452.3 2605.1h0M448.1 2593.1h0M468.7 2591.8h0M460.3 2568.8h0M439.7 2560.3h0M409.8 2478.9h0M449.6 2571.1h0M458.8 2599.9h0M423.6 2529.8h0M411.7 2488.9h0M421.8 2594.8h0M468.5 2525.6h0M406.3 2550.1h0M481.2 2532.0h0M406.8 2469.2h0M440.7 2568.7h0M420.0 2501.0h0M459.8 2553.1h0M456.1 2598.5h0M412.2 2504.1h0M419.9 2554.8h0M397.9 2523.7h0M434.7 2561.1h0M463.8 2514.2h0M389.7 2417.0h0M438.9 2503.9h0M477.2 2556.9h0M387.7 2433.0h0M417.2 2469.4h0M444.1 2620.4h0M445.8 2614.1h0M457.4 2543.5h0M478.4 2529.9h0M469.8 2546.6h0M465.2 2529.9h0M452.4 2545.5h0M431.5 2555.4h0M425.4 2451.1h0M472.5 2528.1h0M455.1 2611.7h0M433.6 2483.3h0M473.2 2562.2h0M429.0 2557.0h0M437.9 2487.6h0M395.3 2432.1h0M475.2 2541.8h0M448.3 2593.6h0M469.0 2515.8h0M400.5 2435.8h0" stroke="#0000ff" stroke-width="5.2" stroke-linecap="round" fill="none"/>
<path d="M479.0 2523.8h0M442.5 2551.9h0M488.4 2540.9h0M489.7 2536.8h0M449.4 2555.0h0M481.6 2563.0h0M466.8 2573.5h0M483.6 2532.9h0M478.7 2527.6h0M453.5 2531.0h0M458.1 2530.5h0M445.0 2562.8h0M472.2 2525.6h0M479.9 2547.2h0M443.2 2523.2h0M445.4 2507.0h0M464.2 2548.2h0M460.2 2532.0h0M462.6 2565.6h0M452.0 2584.1h0M462.2 2521.1h0M447.3 2573.3h0M461.5 2602.9h0M478.3 2577.5h0M478.4 2575.1h0M449.8 2570.4h0M441.4 2542.9h0M453.2 2553.1h0M459.0 2508.3h0M441.3 2569.9h0M481.4 2521.1h0M458.4 2511.9h0M458.1 2587.5h0M449.2 2562.8h0M448.1 2582.1h0M474.9 2577.5h0M449.0 2581.4h0M476.3 2527.1h0M451.5 2559.8h0M460.4 2563.2h0M459.1 2554.6h0M453.1 2507.0h0M464.6 2555.3h0M491.0 2532.1h0M449.3 2576.7h0M471.6 2595.7h0M487.4 2562.0h0M458.0 2551.9h0M471.1 2597.2h0M481.8 2536.4h0M462.9 2567.1h0M468.4 2581.2h0M470.0 2544.7h0M473.5 2593.5h0M486.5 2536.6h0M481.1 2581.2h0M459.0 2519.7h0M487.1 2548.8h0M465.9 2527.4h0M480.3 2583.3h0M469.5 2575.6h0M474.0 2581.6h0M463.8 2597.8h0M442.5 2518.9h0M468.3 2526.1h0M475.4 2554.4h0M458.9 2586.7h0M451.5 2508.1h0M441.0 2566.8h0M479.9 2553.6h0M464.4 2541.3h0M452.0 2537.5h0M454.3 2510.9h0M471.5 2521.8h0M449.1 2524.9h0M487.4 2535.6h0M474.9 2527.4h0M457.2 2593.7h0M463.6 2570.2h0M479.7 2556.0h0M452.6 2562.4h0M486.3 2549.0h0M459.8 2598.0h0M469.3 2519.1h0M450.9 2569.7h0M475.9 2561.0h0M488.6 2522.1h0M490.3 2548.7h0M440.5 2564.0h0M485.0 2568.1h0M450.6 2581.6h0M479.1 2543.8h0M449.9 2581.1h0M473.4 2520.0h0M449.6 2536.3h0M461.5 2511.6h0M472.2 2585.2h0M469.9 2568.9h0M441.3 2544.1h0M465.6 2554.7h0M484.1 2532.8h0M442.6 2530.4h0M442.5 2550.0h0M446.0 2503.4h0M459.0 2564.5h0M458.6 2534.4h0M466.3 2561.3h0M458.7 2595.0h0M474.1 2542.4h0M483.9 2535.6h0M450.6 2583.5h0M453.0 2591.8h0M475.7 2541.7h0M458.5 2548.9h0M447.9 2550.9h0M448.2 2578.6h0M472.3 2584.3h0M479.6 2567.3h0M442.7 2538.2h0M450.1 2579.2h0M451.9 2533.2h0M474.1 2528.2h0M459.8 2601.8h0M441.8 2534.7h0M470.7 2556.2h0M476.3 2544.4h0M447.1 2562.0h0M487.1 2540.5h0M454.1 2548.9h0M462.8 2539.0h0M444.7 2548.7h0M443.7 2515.4h0M477.0 2529.0h0M470.7 2585.1h0M488.3 2526.0h0M467.2 2561.4h0M464.0 2604.9h0M467.7 2596.0h0M452.3 2541.3h0M485.6 2558.1h0M459.5 2563.9h0M461.8 2519.4h0M468.9 2543.3h0M454.4 2550.4h0M459.2 2578.3h0M465.1 2517.6h0M483.1 2527.5h0M444.7 2502.1h0M487.1 2522.0h0M444.6 2552.8h0M461.7 2506.8h0M454.6 2598.2h0M454.1 2589.5h0M486.5 2549.8h0M459.2 2563.3h0M463.6 2511.6h0M455.1 2598.0h0M474.4 2573.3h0M441.2 2562.3h0M452.3 2592.1h0M456.3 2598.1h0M460.4 2597.1h0M447.9 2528.4h0M471.2 2589.3h0M467.0 2582.5h0M465.2 2507.4h0M477.5 2544.3h0M488.5 2558.0h0M465.4 2548.0h0M480.7 2583.2h0M441.2 2531.4h0M450.7 2556.0h0M488.3 2545.6h0M461.6 2551.5h0M446.7 2543.2h0M459.8 2550.3h0M440.9 2531.7h0M453.6 2561.3h0M453.9 2536.6h0M472.4 2531.5h0M474.2 2583.5h0M464.2 2581.7h0M477.2 2559.3h0M481.7 2531.5h0M450.5 2567.3h0M459.0 2577.7h0M446.4 2556.0h0M467.6 2592.2h0M455.2 2547.8h0M481.6 2566.0h0M450.0 2507.6h0M465.9 2580.8h0M449.9 2576.8h0M484.8 2520.3h0M463.1 2605.8h0M468.6 2581.7h0M457.1 2558.6h0M475.3 2580.8h0M449.7 2509.5h0M456.5 2566.4h0M458.8 2511.1h0M489.2 2540.0h0M444.3 2568.0h0M464.6 2567.5h0M442.0 2524.9h0M477.7 2528.1h0M443.9 2572.3h0M483.6 2564.5h0M452.6 2506.9h0M459.6 2568.3h0M460.2 2556.6h0" stroke="#0000ff" stroke-width="4.8" stroke-linecap="round" fill="none"/>
<circle cx="261" cy="2500" r="2.3" fill="#a52a2a"/>
<circle cx="275" cy="2535" r="2.3" fill="#a52a2a"/>
<circle cx="256" cy="2546" r="2.3" fill="#ffff00"/>
<circle cx="270" cy="2553" r="2.3" fill="#ffff00"/>
<circle cx="286" cy="2560" r="2.3" fill="#ffff00"/>
<circle cx="287" cy="2520" r="2.3" fill="#a52a2a"/>
<circle cx="272" cy="2630" r="2.3" fill="#a52a2a"/>
<circle cx="296" cy="2580" r="2.3" fill="#a52a2a"/>
<circle cx="390" cy="2445" r="2.3" fill="#ffff00"/>
<circle cx="392" cy="2432" r="2.3" fill="#ffff00"/>
<circle cx="292.3" cy="2447" r="2.6" fill="none" stroke="#000" stroke-width="1.6"/>
<circle cx="355.8" cy="2405.4" r="2.6" fill="none" stroke="#000" stroke-width="1.6"/>
<circle cx="350.4" cy="2416.2" r="3.2" fill="#111"/>
<circle cx="345.1" cy="2423" r="3.2" fill="#111"/>
<circle cx="389.6" cy="2450.1" r="2.6" fill="none" stroke="#000" stroke-width="1.6"/>
<circle cx="433.8" cy="2461" r="3.2" fill="#111"/>
<circle cx="441.4" cy="2476" r="3.2" fill="#111"/>
<circle cx="294.5" cy="2654.5" r="2.6" fill="none" stroke="#000" stroke-width="1.6"/>
<text x="244.6" y="2403.6" style="font:italic 17.4px 'Liberation Sans', Arial, Helvetica, sans-serif">col&#8722;129</text>
<text x="224.4" y="2450.7" style="font:italic 17.4px 'Liberation Sans', Arial, Helvetica, sans-serif">asp&#8722;1</text>
<text x="314.2" y="2464.2" style="font:italic 17.4px 'Liberation Sans', Arial, Helvetica, sans-serif">T15B12.1</text>
<text x="445.6" y="2454.1" style="font:italic 17.4px 'Liberation Sans', Arial, Helvetica, sans-serif">F18E3.11</text>
<text x="458" y="2482.2" style="font:italic 17.4px 'Liberation Sans', Arial, Helvetica, sans-serif">F23F12.12</text>
<text x="306.4" y="2658.5" style="font:italic 17.4px 'Liberation Sans', Arial, Helvetica, sans-serif">far&#8722;1</text>
<text x="292.5" y="2384.7" style="font:italic 17.4px 'Liberation Sans', Arial, Helvetica, sans-serif">col&#8722;20</text>
<text x="362.8" y="2384.7" style="font:italic 17.4px 'Liberation Sans', Arial, Helvetica, sans-serif">ccch&#8722;1</text>
<rect x="205.3" y="1929.1" width="39.8" height="26.6" fill="#7a55f5"/>
<rect x="244.7" y="1929.1" width="40.1" height="26.6" fill="#7a55f5"/>
<rect x="284.4" y="1929.1" width="40.1" height="26.6" fill="#e6e6e8"/>
<rect x="324.1" y="1929.1" width="40.3" height="26.6" fill="#e6e6e8"/>
<rect x="364.0" y="1929.1" width="40.0" height="26.6" fill="#d8ccf2"/>
<rect x="403.6" y="1929.1" width="40.6" height="26.6" fill="#e6e6e8"/>
<rect x="205.3" y="1955.3" width="39.8" height="22.9" fill="#0000ff"/>
<rect x="244.7" y="1955.3" width="40.1" height="22.9" fill="#3c1af5"/>
<rect x="284.4" y="1955.3" width="40.1" height="22.9" fill="#f4d0c8"/>
<rect x="324.1" y="1955.3" width="40.3" height="22.9" fill="#f06850"/>
<rect x="364.0" y="1955.3" width="40.0" height="22.9" fill="#f2dcd6"/>
<rect x="403.6" y="1955.3" width="40.6" height="22.9" fill="#f2a898"/>
<rect x="205.3" y="1977.8" width="39.8" height="25.8" fill="#3a1cf5"/>
<rect x="244.7" y="1977.8" width="40.1" height="25.8" fill="#f06048"/>
<rect x="284.4" y="1977.8" width="40.1" height="25.8" fill="#dcdaf0"/>
<rect x="324.1" y="1977.8" width="40.3" height="25.8" fill="#dcd8f0"/>
<rect x="364.0" y="1977.8" width="40.0" height="25.8" fill="#8a60f5"/>
<rect x="403.6" y="1977.8" width="40.6" height="25.8" fill="#ff1010"/>
<rect x="205.3" y="2003.2" width="39.8" height="26.2" fill="#2a10f5"/>
<rect x="244.7" y="2003.2" width="40.1" height="26.2" fill="#c4b8f5"/>
<rect x="284.4" y="2003.2" width="40.1" height="26.2" fill="#c4b8f5"/>
<rect x="324.1" y="2003.2" width="40.3" height="26.2" fill="#ccc4f2"/>
<rect x="364.0" y="2003.2" width="40.0" height="26.2" fill="#8a60f5"/>
<rect x="403.6" y="2003.2" width="40.6" height="26.2" fill="#f2c0b4"/>
<rect x="205.3" y="2036.3" width="39.7" height="9.299999999999955" fill="#00ee00"/>
<rect x="244.7" y="2036.3" width="40.0" height="9.299999999999955" fill="#a52a2a"/>
<rect x="284.4" y="2036.3" width="40.0" height="9.299999999999955" fill="#ff0000"/>
<rect x="324.1" y="2036.3" width="40.2" height="9.299999999999955" fill="#ffff00"/>
<rect x="364.0" y="2036.3" width="39.9" height="9.299999999999955" fill="#40e0d0"/>
<rect x="403.6" y="2036.3" width="40.5" height="9.299999999999955" fill="#0000ff"/>
<text x="192.8" y="1940.8" text-anchor="end" style="font:italic 14.6px 'Liberation Sans', Arial, Helvetica, sans-serif">rsks-1(lf)</text>
<text x="192.8" y="1966.8" text-anchor="end" style="font:italic 14.6px 'Liberation Sans', Arial, Helvetica, sans-serif">daf-2(lf)</text>
<text x="192.8" y="1992.5" text-anchor="end" style="font:italic 14.6px 'Liberation Sans', Arial, Helvetica, sans-serif">lipl-4 Tg</text>
<text x="192.8" y="2017.6" text-anchor="end" style="font:italic 14.6px 'Liberation Sans', Arial, Helvetica, sans-serif">WT</text>
<defs><linearGradient id="r2a" x1="0" y1="0" x2="0" y2="1"><stop offset="0" stop-color="#ff0000"/><stop offset="0.18" stop-color="#ff0000"/><stop offset="0.36" stop-color="#fb7b62"/><stop offset="0.5" stop-color="#eeeeee"/><stop offset="0.64" stop-color="#a985fb"/><stop offset="0.8" stop-color="#1800ff"/><stop offset="1" stop-color="#0000ff"/></linearGradient></defs>
<rect x="457.6" y="1928.1" width="10" height="41" rx="1" fill="url(#r2a)"/>
<text x="456.3" y="1920.1" style="font:18px 'Liberation Sans', Arial, Helvetica, sans-serif">R<tspan dy="-6.8" style="font-size:9.9px">2</tspan></text>
<text x="477.9" y="1935.6" style="font:11px 'Liberation Sans', Arial, Helvetica, sans-serif">1</text>
<text x="477.4" y="1953.2" style="font:11px 'Liberation Sans', Arial, Helvetica, sans-serif">0</text>
<text x="473.4" y="1970.8" style="font:11px 'Liberation Sans', Arial, Helvetica, sans-serif">&#8722;1</text>
<path d="M403.6,2046.8L126.0,2070.0" fill="none" stroke="#111" stroke-width="1.9" stroke-dasharray="7.5 7"/>
<path d="M436.3,2046.8L628.0,2069.0" fill="none" stroke="#111" stroke-width="1.9" stroke-dasharray="7.5 7"/>
<path d="M93.4,2069.9L646.3,2069.9L646.3,2235.4L93.4,2235.4Z" fill="none" stroke="#111" stroke-width="1.9" stroke-dasharray="7.5 7"/>
<rect x="440.2" y="2088.6" width="169.6" height="24.2" fill="#ff0000"/>
<line x1="428.3" y1="2100.7" x2="433.3" y2="2100.7" stroke="#333" stroke-width="1.2"/>
<text x="419.5" y="2107.3" text-anchor="end" style="font:18.7px 'Liberation Sans', Arial, Helvetica, sans-serif">Spliceosome</text>
<rect x="440.2" y="2116.0" width="111.1" height="24.2" fill="#ff0000"/>
<line x1="428.3" y1="2128.1" x2="433.3" y2="2128.1" stroke="#333" stroke-width="1.2"/>
<text x="419.5" y="2133.9" text-anchor="end" style="font:18.7px 'Liberation Sans', Arial, Helvetica, sans-serif">Nucleocytoplasmic transport</text>
<rect x="440.2" y="2143.2" width="70.2" height="24.2" fill="#e8083c"/>
<line x1="428.3" y1="2155.3" x2="433.3" y2="2155.3" stroke="#333" stroke-width="1.2"/>
<text x="419.5" y="2159.9" text-anchor="end" style="font:18.7px 'Liberation Sans', Arial, Helvetica, sans-serif">mRNA surveillance pathway</text>
<rect x="440.2" y="2171.0" width="58.5" height="24.2" fill="#0000ff"/>
<line x1="428.3" y1="2183.1" x2="433.3" y2="2183.1" stroke="#333" stroke-width="1.2"/>
<text x="419.5" y="2186.6" text-anchor="end" style="font:18.7px 'Liberation Sans', Arial, Helvetica, sans-serif">ATP&#8722;dependent chromatin remodeling</text>
<rect x="433.3" y="2084.1" width="183.90000000000003" height="114.90000000000009" fill="none" stroke="#111" stroke-width="1.6"/>
<line x1="440.2" y1="2199" x2="440.2" y2="2203" stroke="#333" stroke-width="1.1"/>
<text x="440.2" y="2214.3" text-anchor="middle" style="font:12.5px 'Liberation Sans', Arial, Helvetica, sans-serif">0</text>
<line x1="498.7" y1="2199" x2="498.7" y2="2203" stroke="#333" stroke-width="1.1"/>
<text x="498.7" y="2214.3" text-anchor="middle" style="font:12.5px 'Liberation Sans', Arial, Helvetica, sans-serif">10</text>
<line x1="557.2" y1="2199" x2="557.2" y2="2203" stroke="#333" stroke-width="1.1"/>
<text x="557.2" y="2214.3" text-anchor="middle" style="font:12.5px 'Liberation Sans', Arial, Helvetica, sans-serif">20</text>
<line x1="615.7" y1="2199" x2="615.7" y2="2203" stroke="#333" stroke-width="1.1"/>
<text x="615.7" y="2214.3" text-anchor="middle" style="font:12.5px 'Liberation Sans', Arial, Helvetica, sans-serif">30</text>
<text x="530.2" y="2231.6" text-anchor="middle" style="font:18.8px 'Liberation Sans', Arial, Helvetica, sans-serif">Gene Count</text>
<text x="519.3" y="2151.1" style="font:12.3px 'Liberation Sans', Arial, Helvetica, sans-serif">adjusted p value</text>
<defs><linearGradient id="pa" x1="0" y1="0" x2="0" y2="1"><stop offset="0" stop-color="#ff0000"/><stop offset="0.4" stop-color="#e8003c"/><stop offset="0.75" stop-color="#9010c0"/><stop offset="1" stop-color="#2000ff"/></linearGradient></defs>
<rect x="567.4" y="2155" width="8" height="42" fill="url(#pa)"/>
<text x="580" y="2167.2" style="font:12px 'Liberation Sans', Arial, Helvetica, sans-serif">0.003</text>
<text x="580" y="2190.2" style="font:12px 'Liberation Sans', Arial, Helvetica, sans-serif">0.009</text>
<rect x="1306.5" y="1844.3" width="75.3" height="28.5" fill="#6a40fa"/>
<rect x="1381.4" y="1844.3" width="75.3" height="28.5" fill="#fbb8a8"/>
<rect x="1456.3" y="1844.3" width="75.6" height="28.5" fill="#fbb8a8"/>
<rect x="1531.5" y="1844.3" width="75.3" height="28.5" fill="#f5dcd5"/>
<rect x="1306.5" y="1872.4" width="75.3" height="22.8" fill="#0000ff"/>
<rect x="1381.4" y="1872.4" width="75.3" height="22.8" fill="#fbc4b4"/>
<rect x="1456.3" y="1872.4" width="75.6" height="22.8" fill="#fbc4b4"/>
<rect x="1531.5" y="1872.4" width="75.3" height="22.8" fill="#f8c8bc"/>
<rect x="1306.5" y="1894.8" width="75.3" height="27.5" fill="#9068f8"/>
<rect x="1381.4" y="1894.8" width="75.3" height="27.5" fill="#d8ccf0"/>
<rect x="1456.3" y="1894.8" width="75.6" height="27.5" fill="#f2ddd8"/>
<rect x="1531.5" y="1894.8" width="75.3" height="27.5" fill="#c4aef2"/>
<rect x="1306.5" y="1921.9" width="75.3" height="27.5" fill="#6c44fa"/>
<rect x="1381.4" y="1921.9" width="75.3" height="27.5" fill="#b89cf5"/>
<rect x="1456.3" y="1921.9" width="75.6" height="27.5" fill="#e8e8ea"/>
<rect x="1531.5" y="1921.9" width="75.3" height="27.5" fill="#bea6f2"/>
<rect x="1306.5" y="1957.6" width="75.2" height="11.700000000000045" fill="#0000ff"/>
<rect x="1381.4" y="1957.6" width="75.2" height="11.700000000000045" fill="#40e0d0"/>
<rect x="1456.3" y="1957.6" width="75.5" height="11.700000000000045" fill="#ffff00"/>
<rect x="1531.5" y="1957.6" width="75.2" height="11.700000000000045" fill="#a52a2a"/>
<text x="1296.8" y="1860.5" text-anchor="end" style="font:italic 15.9px 'Liberation Sans', Arial, Helvetica, sans-serif">rsks-1(lf)</text>
<text x="1296.8" y="1889.2" text-anchor="end" style="font:italic 15.9px 'Liberation Sans', Arial, Helvetica, sans-serif">daf-2(lf)</text>
<text x="1296.8" y="1917.9" text-anchor="end" style="font:italic 15.9px 'Liberation Sans', Arial, Helvetica, sans-serif">lipl-4 Tg</text>
<text x="1296.8" y="1944.7" text-anchor="end" style="font:italic 15.9px 'Liberation Sans', Arial, Helvetica, sans-serif">WT</text>
<defs><linearGradient id="r2b" x1="0" y1="0" x2="0" y2="1"><stop offset="0" stop-color="#ff0000"/><stop offset="0.18" stop-color="#ff0000"/><stop offset="0.36" stop-color="#fb7b62"/><stop offset="0.5" stop-color="#eeeeee"/><stop offset="0.64" stop-color="#a985fb"/><stop offset="0.8" stop-color="#1800ff"/><stop offset="1" stop-color="#0000ff"/></linearGradient></defs>
<rect x="1640.2" y="1864.7" width="9.6" height="41.5" rx="1" fill="url(#r2b)"/>
<text x="1639.3" y="1857.8" style="font:18.5px 'Liberation Sans', Arial, Helvetica, sans-serif">R<tspan dy="-7.0" style="font-size:10.2px">2</tspan></text>
<text x="1660.0" y="1871.2" style="font:11.2px 'Liberation Sans', Arial, Helvetica, sans-serif">1</text>
<text x="1659.5" y="1889.8" style="font:11.2px 'Liberation Sans', Arial, Helvetica, sans-serif">0</text>
<text x="1655.5" y="1908.0" style="font:11.2px 'Liberation Sans', Arial, Helvetica, sans-serif">&#8722;1</text>
<path d="M1381.4,1968.7L1047.0,1997.5" fill="none" stroke="#111" stroke-width="2.3" stroke-dasharray="10 10.5"/>
<path d="M1456.3,1968.7L1703.0,1996.0" fill="none" stroke="#111" stroke-width="2.3" stroke-dasharray="10 10.5"/>
<path d="M1703.0,1998.4L1045.5,1998.4L1045.5,2252.0L1703.0,2252.0" fill="none" stroke="#111" stroke-width="2.3" stroke-dasharray="10 10.5"/>
<rect x="1462.4" y="2014.3" width="198.2" height="21.8" fill="#ff0000"/>
<line x1="1449.5" y1="2025.2" x2="1454.5" y2="2025.2" stroke="#333" stroke-width="1.2"/>
<text x="1441.5" y="2031.8" text-anchor="end" style="font:18.6px 'Liberation Sans', Arial, Helvetica, sans-serif">Calcium signaling pathway</text>
<rect x="1462.4" y="2039.2" width="118.9" height="21.8" fill="#f20a2a"/>
<line x1="1449.5" y1="2050.1" x2="1454.5" y2="2050.1" stroke="#333" stroke-width="1.2"/>
<text x="1441.5" y="2056.7" text-anchor="end" style="font:18.6px 'Liberation Sans', Arial, Helvetica, sans-serif">Phosphatidylinositol signaling system</text>
<rect x="1462.4" y="2064.1" width="99.1" height="21.8" fill="#ee0c3c"/>
<line x1="1449.5" y1="2075.0" x2="1454.5" y2="2075.0" stroke="#333" stroke-width="1.2"/>
<text x="1441.5" y="2081.6" text-anchor="end" style="font:18.6px 'Liberation Sans', Arial, Helvetica, sans-serif">ErbB signaling pathway</text>
<rect x="1462.4" y="2089.0" width="118.9" height="21.8" fill="#d0108c"/>
<line x1="1449.5" y1="2099.9" x2="1454.5" y2="2099.9" stroke="#333" stroke-width="1.2"/>
<text x="1441.5" y="2106.5" text-anchor="end" style="font:18.6px 'Liberation Sans', Arial, Helvetica, sans-serif">Axon regeneration</text>
<rect x="1462.4" y="2113.9" width="99.1" height="21.8" fill="#c51499"/>
<line x1="1449.5" y1="2124.8" x2="1454.5" y2="2124.8" stroke="#333" stroke-width="1.2"/>
<text x="1441.5" y="2131.4" text-anchor="end" style="font:18.6px 'Liberation Sans', Arial, Helvetica, sans-serif">FoxO signaling pathway</text>
<rect x="1462.4" y="2138.8" width="99.1" height="21.8" fill="#9010c8"/>
<line x1="1449.5" y1="2149.7" x2="1454.5" y2="2149.7" stroke="#333" stroke-width="1.2"/>
<text x="1441.5" y="2156.3" text-anchor="end" style="font:18.6px 'Liberation Sans', Arial, Helvetica, sans-serif">Purine metabolism</text>
<rect x="1462.4" y="2163.7" width="79.3" height="21.8" fill="#3a10f0"/>
<line x1="1449.5" y1="2174.6" x2="1454.5" y2="2174.6" stroke="#333" stroke-width="1.2"/>
<text x="1441.5" y="2181.2" text-anchor="end" style="font:18.6px 'Liberation Sans', Arial, Helvetica, sans-serif">Longevity regulating pathway &#8722; multiple species</text>
<rect x="1462.4" y="2188.6" width="99.1" height="21.8" fill="#0000ff"/>
<line x1="1449.5" y1="2199.5" x2="1454.5" y2="2199.5" stroke="#333" stroke-width="1.2"/>
<text x="1441.5" y="2206.1" text-anchor="end" style="font:18.6px 'Liberation Sans', Arial, Helvetica, sans-serif">MAPK signaling pathway</text>
<rect x="1454.5" y="2010.7" width="215.79999999999995" height="201.79999999999995" fill="none" stroke="#111" stroke-width="1.6"/>
<line x1="1462.4" y1="2212.5" x2="1462.4" y2="2216.5" stroke="#333" stroke-width="1.1"/>
<text x="1462.4" y="2228.7" text-anchor="middle" style="font:12.8px 'Liberation Sans', Arial, Helvetica, sans-serif">0.0</text>
<line x1="1512.0" y1="2212.5" x2="1512.0" y2="2216.5" stroke="#333" stroke-width="1.1"/>
<text x="1512.0" y="2228.7" text-anchor="middle" style="font:12.8px 'Liberation Sans', Arial, Helvetica, sans-serif">2.5</text>
<line x1="1561.5" y1="2212.5" x2="1561.5" y2="2216.5" stroke="#333" stroke-width="1.1"/>
<text x="1561.5" y="2228.7" text-anchor="middle" style="font:12.8px 'Liberation Sans', Arial, Helvetica, sans-serif">5.0</text>
<line x1="1611.1" y1="2212.5" x2="1611.1" y2="2216.5" stroke="#333" stroke-width="1.1"/>
<text x="1611.1" y="2228.7" text-anchor="middle" style="font:12.8px 'Liberation Sans', Arial, Helvetica, sans-serif">7.5</text>
<line x1="1660.6" y1="2212.5" x2="1660.6" y2="2216.5" stroke="#333" stroke-width="1.1"/>
<text x="1660.6" y="2228.7" text-anchor="middle" style="font:12.8px 'Liberation Sans', Arial, Helvetica, sans-serif">10.0</text>
<text x="1577.7" y="2245.4" text-anchor="middle" style="font:18.8px 'Liberation Sans', Arial, Helvetica, sans-serif">Gene Count</text>
<text x="1571.5" y="2080" style="font:13.6px 'Liberation Sans', Arial, Helvetica, sans-serif">adjusted p value</text>
<defs><linearGradient id="pb" x1="0" y1="0" x2="0" y2="1"><stop offset="0" stop-color="#ff0000"/><stop offset="0.35" stop-color="#e8003c"/><stop offset="0.6" stop-color="#b80090"/><stop offset="0.85" stop-color="#5a10e8"/><stop offset="1" stop-color="#1400ff"/></linearGradient></defs>
<rect x="1605.8" y="2094.9" width="16.2" height="79.4" fill="url(#pb)"/>
<text x="1629" y="2116.8" style="font:12.2px 'Liberation Sans', Arial, Helvetica, sans-serif">0.004</text>
<text x="1629" y="2136.6" style="font:12.2px 'Liberation Sans', Arial, Helvetica, sans-serif">0.008</text>
<text x="1629" y="2155.4" style="font:12.2px 'Liberation Sans', Arial, Helvetica, sans-serif">0.012</text>
<text x="1629" y="2174.3" style="font:12.2px 'Liberation Sans', Arial, Helvetica, sans-serif">0.016</text>
<line x1="1605.8" y1="2111.5" x2="1609" y2="2111.5" stroke="#fff" stroke-width="1"/><line x1="1618.8" y1="2111.5" x2="1622" y2="2111.5" stroke="#fff" stroke-width="1"/>
<line x1="1605.8" y1="2131.3" x2="1609" y2="2131.3" stroke="#fff" stroke-width="1"/><line x1="1618.8" y1="2131.3" x2="1622" y2="2131.3" stroke="#fff" stroke-width="1"/>
<line x1="1605.8" y1="2150.1" x2="1609" y2="2150.1" stroke="#fff" stroke-width="1"/><line x1="1618.8" y1="2150.1" x2="1622" y2="2150.1" stroke="#fff" stroke-width="1"/>
<line x1="1605.8" y1="2169" x2="1609" y2="2169" stroke="#fff" stroke-width="1"/><line x1="1618.8" y1="2169" x2="1622" y2="2169" stroke="#fff" stroke-width="1"/>
<rect x="695.9" y="2474.1" width="45.8" height="26.3" fill="#7c5cf8"/>
<rect x="741.3" y="2474.1" width="46.0" height="26.3" fill="#5030f8"/>
<rect x="786.9" y="2474.1" width="45.7" height="26.3" fill="#f5dad2"/>
<rect x="832.2" y="2474.1" width="46.0" height="26.3" fill="#c0a8f5"/>
<rect x="695.9" y="2500.0" width="45.8" height="25.0" fill="#7050f8"/>
<rect x="741.3" y="2500.0" width="46.0" height="25.0" fill="#0000ff"/>
<rect x="786.9" y="2500.0" width="45.7" height="25.0" fill="#f5dcd4"/>
<rect x="832.2" y="2500.0" width="46.0" height="25.0" fill="#d8ccf2"/>
<rect x="695.9" y="2524.6" width="45.8" height="25.7" fill="#ff0000"/>
<rect x="741.3" y="2524.6" width="46.0" height="25.7" fill="#5030f8"/>
<rect x="786.9" y="2524.6" width="45.7" height="25.7" fill="#a888f8"/>
<rect x="832.2" y="2524.6" width="46.0" height="25.7" fill="#5a38f8"/>
<rect x="695.9" y="2549.9" width="45.8" height="25.8" fill="#c0aef5"/>
<rect x="741.3" y="2549.9" width="46.0" height="25.8" fill="#0c00fc"/>
<rect x="786.9" y="2549.9" width="45.7" height="25.8" fill="#7a58f8"/>
<rect x="832.2" y="2549.9" width="46.0" height="25.8" fill="#b090f8"/>
<rect x="695.9" y="2585.5" width="45.7" height="9.0" fill="#40e0d0"/>
<rect x="741.3" y="2585.5" width="45.9" height="9.0" fill="#a52a2a"/>
<rect x="786.9" y="2585.5" width="45.6" height="9.0" fill="#0000ff"/>
<rect x="832.2" y="2585.5" width="45.9" height="9.0" fill="#ffff00"/>
<text x="688.5" y="2488.1" text-anchor="end" style="font:italic 14.4px 'Liberation Sans', Arial, Helvetica, sans-serif">rsks-1(lf)</text>
<text x="688.5" y="2514.3" text-anchor="end" style="font:italic 14.4px 'Liberation Sans', Arial, Helvetica, sans-serif">daf-2(lf)</text>
<text x="688.5" y="2540.8" text-anchor="end" style="font:italic 14.4px 'Liberation Sans', Arial, Helvetica, sans-serif">lipl-4 Tg</text>
<text x="688.5" y="2565.4" text-anchor="end" style="font:italic 14.4px 'Liberation Sans', Arial, Helvetica, sans-serif">WT</text>
<defs><linearGradient id="r2c" x1="0" y1="0" x2="0" y2="1"><stop offset="0" stop-color="#ff0000"/><stop offset="0.18" stop-color="#ff0000"/><stop offset="0.36" stop-color="#fb7b62"/><stop offset="0.5" stop-color="#eeeeee"/><stop offset="0.64" stop-color="#a985fb"/><stop offset="0.8" stop-color="#1800ff"/><stop offset="1" stop-color="#0000ff"/></linearGradient></defs>
<rect x="887.7" y="2493.4" width="9.6" height="40.9" rx="1" fill="url(#r2c)"/>
<text x="886.7" y="2484.9" style="font:16px 'Liberation Sans', Arial, Helvetica, sans-serif">R<tspan dy="-6.1" style="font-size:8.8px">2</tspan></text>
<text x="907.0" y="2500.2" style="font:10.3px 'Liberation Sans', Arial, Helvetica, sans-serif">1</text>
<text x="906.5" y="2518.1" style="font:10.3px 'Liberation Sans', Arial, Helvetica, sans-serif">0</text>
<text x="902.5" y="2536.6" style="font:10.3px 'Liberation Sans', Arial, Helvetica, sans-serif">&#8722;1</text>
<path d="M694.4,2594.4L939.0,2707.5" fill="none" stroke="#111" stroke-width="2.3" stroke-dasharray="10 10.5"/>
<path d="M740.2,2594.4L907.2,2626.1L945.3,2430.6" fill="none" stroke="#111" stroke-width="2.3" stroke-dasharray="10 10.5"/>
<path d="M945.5,2430.6L1614.6,2430.6L1614.6,2709.0L945.5,2709.0Z" fill="none" stroke="#111" stroke-width="2.3" stroke-dasharray="10 10.5"/>
<rect x="1359.8" y="2450.0" width="233.0" height="23.2" fill="#ff0000"/>
<line x1="1344.2" y1="2461.6" x2="1349.2" y2="2461.6" stroke="#333" stroke-width="1.2"/>
<text x="1337" y="2469.1" text-anchor="end" style="font:18.7px 'Liberation Sans', Arial, Helvetica, sans-serif">Ribosome</text>
<rect x="1359.8" y="2475.7" width="124.8" height="23.2" fill="#ff0000"/>
<line x1="1344.2" y1="2487.3" x2="1349.2" y2="2487.3" stroke="#333" stroke-width="1.2"/>
<text x="1337" y="2494.8" text-anchor="end" style="font:18.7px 'Liberation Sans', Arial, Helvetica, sans-serif">Spliceosome</text>
<rect x="1359.8" y="2501.4" width="61.0" height="23.2" fill="#ff0000"/>
<line x1="1344.2" y1="2513.0" x2="1349.2" y2="2513.0" stroke="#333" stroke-width="1.2"/>
<text x="1337" y="2520.5" text-anchor="end" style="font:18.7px 'Liberation Sans', Arial, Helvetica, sans-serif">Proteasome</text>
<rect x="1359.8" y="2527.1" width="72.1" height="23.2" fill="#ff0000"/>
<line x1="1344.2" y1="2538.7" x2="1349.2" y2="2538.7" stroke="#333" stroke-width="1.2"/>
<text x="1337" y="2546.2" text-anchor="end" style="font:18.7px 'Liberation Sans', Arial, Helvetica, sans-serif">Nucleocytoplasmic transport</text>
<rect x="1359.8" y="2552.8" width="38.8" height="23.2" fill="#ec0a3c"/>
<line x1="1344.2" y1="2564.4" x2="1349.2" y2="2564.4" stroke="#333" stroke-width="1.2"/>
<text x="1337" y="2571.9" text-anchor="end" style="font:18.7px 'Liberation Sans', Arial, Helvetica, sans-serif">DNA replication</text>
<rect x="1359.8" y="2578.5" width="25.0" height="23.2" fill="#e8103c"/>
<line x1="1344.2" y1="2590.1" x2="1349.2" y2="2590.1" stroke="#333" stroke-width="1.2"/>
<text x="1337" y="2597.6" text-anchor="end" style="font:18.7px 'Liberation Sans', Arial, Helvetica, sans-serif">Mismatch repair</text>
<rect x="1359.8" y="2604.2" width="94.3" height="23.2" fill="#e80a40"/>
<line x1="1344.2" y1="2615.8" x2="1349.2" y2="2615.8" stroke="#333" stroke-width="1.2"/>
<text x="1337" y="2623.3" text-anchor="end" style="font:18.7px 'Liberation Sans', Arial, Helvetica, sans-serif">Protein processing in endoplasmic reticulum</text>
<rect x="1359.8" y="2629.9" width="25.0" height="23.2" fill="#0000ff"/>
<line x1="1344.2" y1="2641.5" x2="1349.2" y2="2641.5" stroke="#333" stroke-width="1.2"/>
<text x="1337" y="2649.0" text-anchor="end" style="font:18.7px 'Liberation Sans', Arial, Helvetica, sans-serif">Protein export</text>
<rect x="1349.2" y="2446.4" width="254.20000000000005" height="210.29999999999973" fill="none" stroke="#555" stroke-width="1.1"/>
<line x1="1359.8" y1="2656.7" x2="1359.8" y2="2660.7" stroke="#333" stroke-width="1.1"/>
<text x="1359.8" y="2681.2" text-anchor="middle" style="font:16.5px 'DejaVu Sans', sans-serif">0</text>
<line x1="1415.3" y1="2656.7" x2="1415.3" y2="2660.7" stroke="#333" stroke-width="1.1"/>
<text x="1415.3" y="2681.2" text-anchor="middle" style="font:16.5px 'DejaVu Sans', sans-serif">20</text>
<line x1="1470.8" y1="2656.7" x2="1470.8" y2="2660.7" stroke="#333" stroke-width="1.1"/>
<text x="1470.8" y="2681.2" text-anchor="middle" style="font:16.5px 'DejaVu Sans', sans-serif">40</text>
<line x1="1526.2" y1="2656.7" x2="1526.2" y2="2660.7" stroke="#333" stroke-width="1.1"/>
<text x="1526.2" y="2681.2" text-anchor="middle" style="font:16.5px 'DejaVu Sans', sans-serif">60</text>
<line x1="1581.7" y1="2656.7" x2="1581.7" y2="2660.7" stroke="#333" stroke-width="1.1"/>
<text x="1581.7" y="2681.2" text-anchor="middle" style="font:16.5px 'DejaVu Sans', sans-serif">80</text>
<text x="1481.6" y="2699.7" text-anchor="middle" style="font:18.8px 'Liberation Sans', Arial, Helvetica, sans-serif">Gene Count</text>
<text x="1485" y="2524" style="font:13.2px 'DejaVu Sans', sans-serif">adjusted p value</text>
<defs><linearGradient id="pc" x1="0" y1="0" x2="0" y2="1"><stop offset="0" stop-color="#ff0000"/><stop offset="0.35" stop-color="#e8003c"/><stop offset="0.6" stop-color="#b80090"/><stop offset="0.85" stop-color="#5a10e8"/><stop offset="1" stop-color="#1400ff"/></linearGradient></defs>
<rect x="1505" y="2559.6" width="10.6" height="53.6" fill="url(#pc)"/>
<text x="1520" y="2575.8" style="font:11.5px 'DejaVu Sans', sans-serif">0.004</text>
<text x="1520" y="2588.7" style="font:11.5px 'DejaVu Sans', sans-serif">0.008</text>
<text x="1520" y="2601.7" style="font:11.5px 'DejaVu Sans', sans-serif">0.012</text>
<text x="1520" y="2614.2" style="font:11.5px 'DejaVu Sans', sans-serif">0.016</text>
</svg>
</body></html>
